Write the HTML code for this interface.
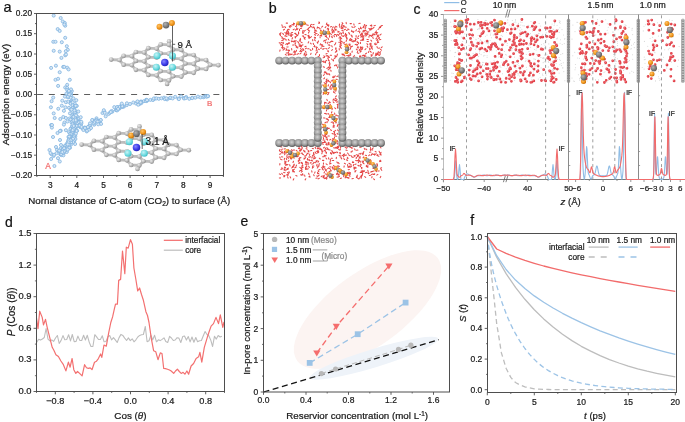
<!DOCTYPE html><html><head><meta charset="utf-8"><style>html,body{margin:0;padding:0;background:#fff;overflow:hidden}svg{display:block;will-change:transform}text{font-family:"Liberation Sans", sans-serif;stroke:#1a1a1a;stroke-width:0.22px}</style></head><body>
<svg width="685" height="422" viewBox="0 0 685 422" font-family='"Liberation Sans", sans-serif'>
<defs>
<radialGradient id="gsph" cx="0.38" cy="0.35" r="0.7"><stop offset="0" stop-color="#ececec"/><stop offset="0.55" stop-color="#bababa"/><stop offset="1" stop-color="#858585"/></radialGradient>
<radialGradient id="gwall" cx="0.45" cy="0.4" r="0.6"><stop offset="0" stop-color="#d2d2d2"/><stop offset="0.6" stop-color="#9c9c9c"/><stop offset="1" stop-color="#585858"/></radialGradient>
<radialGradient id="gcyan" cx="0.38" cy="0.35" r="0.7"><stop offset="0" stop-color="#c8f4f6"/><stop offset="0.6" stop-color="#6fdbe0"/><stop offset="1" stop-color="#3bb9c2"/></radialGradient>
<radialGradient id="gblue" cx="0.38" cy="0.35" r="0.7"><stop offset="0" stop-color="#8888ff"/><stop offset="0.6" stop-color="#3b3be8"/><stop offset="1" stop-color="#2020b0"/></radialGradient>
<radialGradient id="gor" cx="0.38" cy="0.35" r="0.7"><stop offset="0" stop-color="#ffc466"/><stop offset="0.6" stop-color="#f0951c"/><stop offset="1" stop-color="#c06c00"/></radialGradient>
<radialGradient id="gdark" cx="0.38" cy="0.35" r="0.7"><stop offset="0" stop-color="#b4b4b4"/><stop offset="0.6" stop-color="#7c7c7c"/><stop offset="1" stop-color="#555"/></radialGradient>
<radialGradient id="gred" cx="0.38" cy="0.35" r="0.7"><stop offset="0" stop-color="#ff8c8c"/><stop offset="0.6" stop-color="#e53535"/><stop offset="1" stop-color="#b51a1a"/></radialGradient>
</defs>
<rect width="685" height="422" fill="#fff"/>
<line x1="36.5" y1="94.5" x2="223.5" y2="94.5" stroke="#5e5e5e" stroke-width="1.2" stroke-dasharray="6 5.75" stroke-dashoffset="-0.6"/>
<g fill="#d6e7f6" stroke="#82b4e0" stroke-width="0.8"><circle cx="53.7" cy="15.6" r="1.55"/><circle cx="60.7" cy="18.0" r="1.55"/><circle cx="62.8" cy="21.5" r="1.55"/><circle cx="64.8" cy="23.0" r="1.55"/><circle cx="65.2" cy="25.7" r="1.55"/><circle cx="64.3" cy="24.5" r="1.55"/><circle cx="57.7" cy="29.1" r="1.55"/><circle cx="59.7" cy="30.9" r="1.55"/><circle cx="65.2" cy="37.8" r="1.55"/><circle cx="53.3" cy="41.8" r="1.55"/><circle cx="55.5" cy="41.8" r="1.55"/><circle cx="61.8" cy="42.2" r="1.55"/><circle cx="66.8" cy="46.2" r="1.55"/><circle cx="53.7" cy="50.8" r="1.55"/><circle cx="59.7" cy="51.6" r="1.55"/><circle cx="67.8" cy="49.8" r="1.55"/><circle cx="65.8" cy="51.2" r="1.55"/><circle cx="65.2" cy="55.3" r="1.55"/><circle cx="66.0" cy="54.5" r="1.55"/><circle cx="61.4" cy="57.9" r="1.55"/><circle cx="51.1" cy="67.9" r="1.55"/><circle cx="55.9" cy="65.7" r="1.55"/><circle cx="63.2" cy="66.9" r="1.55"/><circle cx="64.2" cy="66.9" r="1.55"/><circle cx="67.2" cy="67.7" r="1.55"/><circle cx="68.6" cy="69.4" r="1.55"/><circle cx="59.7" cy="72.2" r="1.55"/><circle cx="55.5" cy="79.8" r="1.55"/><circle cx="58.1" cy="78.8" r="1.55"/><circle cx="69.8" cy="79.8" r="1.55"/><circle cx="58.1" cy="85.9" r="1.55"/><circle cx="67.2" cy="84.8" r="1.55"/><circle cx="65.2" cy="87.5" r="1.55"/><circle cx="67.2" cy="88.0" r="1.55"/><circle cx="68.2" cy="91.5" r="1.55"/><circle cx="71.8" cy="91.1" r="1.55"/><circle cx="69.5" cy="93.0" r="1.55"/><circle cx="66.5" cy="93.5" r="1.55"/><circle cx="70.5" cy="95.5" r="1.55"/><circle cx="68.0" cy="96.5" r="1.55"/><circle cx="53.2" cy="97.6" r="1.55"/><circle cx="51.6" cy="101.2" r="1.55"/><circle cx="50.9" cy="107.3" r="1.55"/><circle cx="53.7" cy="113.4" r="1.55"/><circle cx="54.7" cy="118.0" r="1.55"/><circle cx="51.1" cy="125.1" r="1.55"/><circle cx="51.9" cy="127.6" r="1.55"/><circle cx="62.3" cy="100.7" r="1.55"/><circle cx="65.9" cy="102.2" r="1.55"/><circle cx="68.4" cy="101.7" r="1.55"/><circle cx="71.0" cy="101.2" r="1.55"/><circle cx="61.8" cy="105.7" r="1.55"/><circle cx="65.4" cy="107.3" r="1.55"/><circle cx="58.3" cy="108.8" r="1.55"/><circle cx="69.0" cy="107.8" r="1.55"/><circle cx="73.0" cy="107.3" r="1.55"/><circle cx="63.9" cy="110.8" r="1.55"/><circle cx="71.5" cy="109.8" r="1.55"/><circle cx="70.0" cy="113.4" r="1.55"/><circle cx="73.5" cy="113.9" r="1.55"/><circle cx="60.3" cy="119.0" r="1.55"/><circle cx="63.3" cy="117.0" r="1.55"/><circle cx="65.9" cy="118.0" r="1.55"/><circle cx="69.5" cy="118.5" r="1.55"/><circle cx="72.0" cy="118.0" r="1.55"/><circle cx="75.6" cy="118.0" r="1.55"/><circle cx="64.4" cy="122.5" r="1.55"/><circle cx="67.4" cy="121.5" r="1.55"/><circle cx="75.1" cy="122.5" r="1.55"/><circle cx="63.9" cy="124.6" r="1.55"/><circle cx="75.6" cy="125.6" r="1.55"/><circle cx="60.8" cy="130.7" r="1.55"/><circle cx="65.9" cy="130.2" r="1.55"/><circle cx="71.0" cy="128.2" r="1.55"/><circle cx="74.5" cy="129.2" r="1.55"/><circle cx="69.0" cy="132.2" r="1.55"/><circle cx="77.1" cy="130.7" r="1.55"/><circle cx="80.7" cy="124.6" r="1.55"/><circle cx="80.2" cy="127.1" r="1.55"/><circle cx="76.0" cy="129.9" r="1.55"/><circle cx="74.8" cy="132.9" r="1.55"/><circle cx="76.6" cy="120.8" r="1.55"/><circle cx="62.6" cy="150.8" r="1.55"/><circle cx="67.2" cy="90.0" r="1.55"/><circle cx="63.2" cy="150.3" r="1.55"/><circle cx="67.8" cy="149.3" r="1.55"/><circle cx="68.5" cy="136.9" r="1.55"/><circle cx="72.0" cy="130.5" r="1.55"/><circle cx="71.0" cy="89.4" r="1.55"/><circle cx="69.6" cy="142.9" r="1.55"/><circle cx="75.8" cy="112.4" r="1.55"/><circle cx="71.0" cy="93.1" r="1.55"/><circle cx="74.7" cy="103.5" r="1.55"/><circle cx="62.1" cy="150.6" r="1.55"/><circle cx="63.9" cy="152.7" r="1.55"/><circle cx="60.2" cy="154.3" r="1.55"/><circle cx="72.3" cy="115.4" r="1.55"/><circle cx="70.0" cy="147.8" r="1.55"/><circle cx="61.0" cy="154.6" r="1.55"/><circle cx="67.7" cy="97.3" r="1.55"/><circle cx="68.1" cy="145.7" r="1.55"/><circle cx="64.4" cy="152.1" r="1.55"/><circle cx="74.2" cy="115.5" r="1.55"/><circle cx="61.6" cy="155.1" r="1.55"/><circle cx="73.3" cy="139.8" r="1.55"/><circle cx="74.8" cy="129.3" r="1.55"/><circle cx="71.5" cy="101.9" r="1.55"/><circle cx="75.5" cy="113.2" r="1.55"/><circle cx="71.0" cy="103.0" r="1.55"/><circle cx="58.0" cy="158.2" r="1.55"/><circle cx="66.5" cy="144.2" r="1.55"/><circle cx="69.2" cy="146.4" r="1.55"/><circle cx="72.7" cy="127.3" r="1.55"/><circle cx="74.9" cy="106.3" r="1.55"/><circle cx="73.6" cy="137.2" r="1.55"/><circle cx="69.5" cy="138.0" r="1.55"/><circle cx="68.5" cy="91.9" r="1.55"/><circle cx="63.4" cy="155.3" r="1.55"/><circle cx="78.4" cy="118.7" r="1.55"/><circle cx="70.1" cy="136.4" r="1.55"/><circle cx="60.9" cy="148.3" r="1.55"/><circle cx="75.4" cy="106.7" r="1.55"/><circle cx="75.3" cy="136.2" r="1.55"/><circle cx="73.8" cy="135.7" r="1.55"/><circle cx="71.8" cy="122.2" r="1.55"/><circle cx="66.8" cy="151.9" r="1.55"/><circle cx="74.4" cy="120.9" r="1.55"/><circle cx="75.4" cy="139.0" r="1.55"/><circle cx="53.5" cy="156.0" r="1.55"/><circle cx="70.7" cy="119.6" r="1.55"/><circle cx="62.9" cy="153.3" r="1.55"/><circle cx="67.8" cy="147.8" r="1.55"/><circle cx="70.5" cy="139.5" r="1.55"/><circle cx="68.0" cy="143.5" r="1.55"/><circle cx="70.7" cy="103.7" r="1.55"/><circle cx="63.4" cy="149.4" r="1.55"/><circle cx="74.7" cy="119.7" r="1.55"/><circle cx="73.6" cy="135.5" r="1.55"/><circle cx="72.9" cy="126.1" r="1.55"/><circle cx="70.6" cy="96.1" r="1.55"/><circle cx="72.6" cy="105.1" r="1.55"/><circle cx="73.1" cy="137.8" r="1.55"/><circle cx="73.4" cy="134.5" r="1.55"/><circle cx="56.5" cy="153.2" r="1.55"/><circle cx="77.0" cy="116.4" r="1.55"/><circle cx="73.1" cy="125.4" r="1.55"/><circle cx="54.0" cy="154.8" r="1.55"/><circle cx="64.8" cy="146.0" r="1.55"/><circle cx="71.5" cy="122.4" r="1.55"/><circle cx="76.8" cy="105.9" r="1.55"/><circle cx="57.0" cy="149.8" r="1.55"/><circle cx="74.1" cy="137.0" r="1.55"/><circle cx="69.1" cy="94.7" r="1.55"/><circle cx="72.5" cy="117.2" r="1.55"/><circle cx="75.1" cy="144.0" r="1.55"/><circle cx="71.8" cy="132.8" r="1.55"/><circle cx="74.9" cy="105.9" r="1.55"/><circle cx="73.5" cy="129.1" r="1.55"/><circle cx="75.4" cy="116.2" r="1.55"/><circle cx="72.6" cy="138.6" r="1.55"/><circle cx="75.9" cy="126.9" r="1.55"/><circle cx="71.0" cy="95.3" r="1.55"/><circle cx="65.7" cy="150.2" r="1.55"/><circle cx="76.5" cy="120.2" r="1.55"/><circle cx="73.2" cy="137.4" r="1.55"/><circle cx="71.1" cy="144.5" r="1.55"/><circle cx="70.1" cy="133.7" r="1.55"/><circle cx="77.4" cy="126.3" r="1.55"/><circle cx="69.2" cy="136.7" r="1.55"/><circle cx="72.1" cy="125.9" r="1.55"/><circle cx="68.8" cy="94.8" r="1.55"/><circle cx="62.7" cy="149.1" r="1.55"/><circle cx="74.3" cy="135.7" r="1.55"/><circle cx="70.8" cy="97.7" r="1.55"/><circle cx="64.3" cy="147.4" r="1.55"/><circle cx="74.2" cy="141.0" r="1.55"/><circle cx="61.1" cy="154.0" r="1.55"/><circle cx="71.6" cy="133.5" r="1.55"/><circle cx="73.8" cy="137.3" r="1.55"/><circle cx="76.7" cy="120.0" r="1.55"/><circle cx="72.7" cy="102.3" r="1.55"/><circle cx="70.6" cy="109.3" r="1.55"/><circle cx="70.0" cy="143.3" r="1.55"/><circle cx="67.6" cy="146.7" r="1.55"/><circle cx="74.7" cy="112.8" r="1.55"/><circle cx="73.0" cy="138.7" r="1.55"/><circle cx="76.1" cy="118.6" r="1.55"/><circle cx="70.4" cy="129.1" r="1.55"/><circle cx="64.9" cy="150.4" r="1.55"/><circle cx="72.3" cy="130.9" r="1.55"/><circle cx="68.9" cy="144.0" r="1.55"/><circle cx="76.3" cy="100.2" r="1.55"/><circle cx="72.8" cy="131.1" r="1.55"/><circle cx="73.0" cy="131.9" r="1.55"/><circle cx="76.0" cy="121.4" r="1.55"/><circle cx="74.9" cy="115.1" r="1.55"/><circle cx="75.9" cy="133.6" r="1.55"/><circle cx="73.3" cy="117.8" r="1.55"/><circle cx="79.1" cy="122.1" r="1.55"/><circle cx="68.4" cy="141.1" r="1.55"/><circle cx="78.3" cy="111.5" r="1.55"/><circle cx="75.1" cy="118.1" r="1.55"/><circle cx="73.1" cy="128.3" r="1.55"/><circle cx="51.3" cy="154.1" r="1.55"/><circle cx="67.6" cy="142.8" r="1.55"/><circle cx="72.5" cy="121.5" r="1.55"/><circle cx="68.5" cy="91.3" r="1.55"/><circle cx="68.0" cy="96.7" r="1.55"/><circle cx="67.5" cy="148.3" r="1.55"/><circle cx="69.3" cy="147.6" r="1.55"/><circle cx="76.6" cy="130.9" r="1.55"/><circle cx="70.1" cy="93.8" r="1.55"/><circle cx="80.2" cy="121.5" r="1.55"/><circle cx="67.7" cy="149.5" r="1.55"/><circle cx="76.9" cy="125.8" r="1.55"/><circle cx="72.4" cy="131.8" r="1.55"/><circle cx="74.0" cy="125.1" r="1.55"/><circle cx="69.1" cy="144.5" r="1.55"/><circle cx="63.8" cy="148.3" r="1.55"/><circle cx="80.7" cy="117.2" r="1.55"/><circle cx="61.0" cy="151.9" r="1.55"/><circle cx="64.9" cy="96.6" r="1.55"/><circle cx="79.1" cy="122.3" r="1.55"/><circle cx="72.7" cy="124.4" r="1.55"/><circle cx="63.0" cy="150.0" r="1.55"/><circle cx="72.0" cy="130.4" r="1.55"/><circle cx="73.9" cy="129.8" r="1.55"/><circle cx="68.9" cy="90.9" r="1.55"/><circle cx="64.1" cy="148.2" r="1.55"/><circle cx="68.7" cy="139.5" r="1.55"/><circle cx="73.8" cy="129.0" r="1.55"/><circle cx="73.2" cy="142.1" r="1.55"/><circle cx="51.1" cy="159.0" r="1.55"/><circle cx="73.7" cy="125.9" r="1.55"/><circle cx="58.8" cy="151.1" r="1.55"/><circle cx="71.2" cy="142.0" r="1.55"/><circle cx="74.8" cy="110.1" r="1.55"/><circle cx="74.3" cy="110.4" r="1.55"/><circle cx="70.7" cy="140.2" r="1.55"/><circle cx="73.6" cy="120.3" r="1.55"/><circle cx="71.5" cy="109.6" r="1.55"/><circle cx="64.1" cy="151.5" r="1.55"/><circle cx="72.7" cy="130.1" r="1.55"/><circle cx="75.7" cy="120.1" r="1.55"/><circle cx="59.2" cy="150.6" r="1.55"/><circle cx="62.3" cy="152.1" r="1.55"/><circle cx="68.6" cy="140.5" r="1.55"/><circle cx="73.4" cy="98.4" r="1.55"/><circle cx="73.5" cy="116.8" r="1.55"/><circle cx="69.2" cy="94.6" r="1.55"/><circle cx="68.4" cy="142.3" r="1.55"/><circle cx="67.7" cy="144.4" r="1.55"/><circle cx="76.0" cy="115.4" r="1.55"/><circle cx="75.7" cy="105.8" r="1.55"/><circle cx="54.4" cy="166.0" r="1.55"/><circle cx="59.8" cy="161.5" r="1.55"/><circle cx="52.0" cy="125.0" r="1.55"/><circle cx="53.0" cy="137.0" r="1.55"/><circle cx="60.0" cy="131.0" r="1.55"/><circle cx="60.0" cy="140.0" r="1.55"/><circle cx="61.0" cy="145.0" r="1.55"/><circle cx="57.5" cy="133.0" r="1.55"/><circle cx="56.0" cy="147.0" r="1.55"/><circle cx="49.5" cy="150.0" r="1.55"/><circle cx="50.5" cy="153.0" r="1.55"/><circle cx="79.5" cy="126.0" r="1.55"/><circle cx="80.8" cy="124.2" r="1.55"/><circle cx="82.5" cy="128.5" r="1.55"/><circle cx="84.7" cy="127.5" r="1.55"/><circle cx="86.7" cy="131.4" r="1.55"/><circle cx="88.5" cy="127.0" r="1.55"/><circle cx="90.0" cy="124.9" r="1.55"/><circle cx="92.6" cy="120.3" r="1.55"/><circle cx="94.5" cy="122.5" r="1.55"/><circle cx="96.5" cy="118.3" r="1.55"/><circle cx="98.5" cy="121.0" r="1.55"/><circle cx="100.5" cy="120.3" r="1.55"/><circle cx="102.5" cy="113.0" r="1.55"/><circle cx="104.4" cy="111.7" r="1.55"/><circle cx="105.7" cy="116.3" r="1.55"/><circle cx="108.5" cy="114.0" r="1.55"/><circle cx="112.3" cy="111.7" r="1.55"/><circle cx="114.3" cy="107.1" r="1.55"/><circle cx="116.0" cy="110.0" r="1.55"/><circle cx="117.6" cy="107.1" r="1.55"/><circle cx="119.5" cy="108.5" r="1.55"/><circle cx="121.5" cy="105.1" r="1.55"/><circle cx="124.0" cy="106.5" r="1.55"/><circle cx="126.8" cy="105.1" r="1.55"/><circle cx="130.0" cy="104.0" r="1.55"/><circle cx="133.3" cy="102.5" r="1.55"/><circle cx="136.0" cy="103.5" r="1.55"/><circle cx="138.6" cy="102.5" r="1.55"/><circle cx="141.0" cy="101.5" r="1.55"/><circle cx="143.8" cy="101.2" r="1.55"/><circle cx="147.0" cy="100.8" r="1.55"/><circle cx="150.4" cy="99.9" r="1.55"/><circle cx="153.0" cy="100.0" r="1.55"/><circle cx="155.0" cy="98.6" r="1.55"/><circle cx="100.8" cy="120.0" r="1.55"/><circle cx="137.4" cy="101.9" r="1.55"/><circle cx="88.9" cy="127.2" r="1.55"/><circle cx="119.4" cy="107.8" r="1.55"/><circle cx="139.4" cy="104.1" r="1.55"/><circle cx="122.8" cy="106.8" r="1.55"/><circle cx="122.2" cy="106.1" r="1.55"/><circle cx="88.7" cy="127.2" r="1.55"/><circle cx="126.9" cy="103.3" r="1.55"/><circle cx="146.2" cy="99.8" r="1.55"/><circle cx="79.8" cy="125.5" r="1.55"/><circle cx="97.6" cy="121.4" r="1.55"/><circle cx="98.4" cy="122.3" r="1.55"/><circle cx="116.6" cy="110.3" r="1.55"/><circle cx="94.2" cy="124.7" r="1.55"/><circle cx="87.1" cy="130.7" r="1.55"/><circle cx="83.4" cy="130.0" r="1.55"/><circle cx="109.8" cy="112.9" r="1.55"/><circle cx="141.4" cy="102.1" r="1.55"/><circle cx="119.7" cy="107.5" r="1.55"/><circle cx="111.6" cy="111.0" r="1.55"/><circle cx="89.3" cy="126.6" r="1.55"/><circle cx="95.4" cy="120.8" r="1.55"/><circle cx="117.3" cy="110.3" r="1.55"/><circle cx="81.4" cy="123.2" r="1.55"/><circle cx="110.8" cy="112.0" r="1.55"/><circle cx="101.1" cy="123.9" r="1.55"/><circle cx="96.4" cy="119.8" r="1.55"/><circle cx="85.0" cy="128.0" r="1.55"/><circle cx="98.7" cy="121.3" r="1.55"/><circle cx="92.2" cy="120.0" r="1.55"/><circle cx="153.8" cy="98.5" r="1.55"/><circle cx="89.5" cy="125.6" r="1.55"/><circle cx="138.2" cy="104.7" r="1.55"/><circle cx="117.4" cy="108.3" r="1.55"/><circle cx="146.2" cy="101.1" r="1.55"/><circle cx="94.0" cy="123.4" r="1.55"/><circle cx="94.6" cy="121.9" r="1.55"/><circle cx="147.0" cy="100.1" r="1.55"/><circle cx="81.3" cy="121.8" r="1.55"/><circle cx="96.4" cy="120.8" r="1.55"/><circle cx="119.4" cy="107.0" r="1.55"/><circle cx="89.3" cy="129.5" r="1.55"/><circle cx="122.1" cy="106.8" r="1.55"/><circle cx="122.3" cy="106.1" r="1.55"/><circle cx="90.0" cy="123.4" r="1.55"/><circle cx="103.8" cy="110.2" r="1.55"/><circle cx="91.0" cy="128.0" r="1.55"/><circle cx="141.2" cy="103.2" r="1.55"/><circle cx="141.2" cy="102.1" r="1.55"/><circle cx="97.6" cy="121.7" r="1.55"/><circle cx="137.5" cy="101.4" r="1.55"/><circle cx="121.8" cy="103.6" r="1.55"/><circle cx="81.5" cy="126.9" r="1.55"/><circle cx="140.6" cy="102.4" r="1.55"/><circle cx="117.0" cy="107.2" r="1.55"/><circle cx="118.1" cy="108.9" r="1.55"/><circle cx="98.2" cy="124.3" r="1.55"/><circle cx="104.7" cy="112.8" r="1.55"/><circle cx="87.9" cy="127.0" r="1.55"/><circle cx="156.5" cy="98.4" r="1.55"/><circle cx="158.8" cy="98.8" r="1.55"/><circle cx="161.4" cy="98.3" r="1.55"/><circle cx="164.0" cy="97.7" r="1.55"/><circle cx="164.8" cy="99.1" r="1.55"/><circle cx="167.1" cy="99.4" r="1.55"/><circle cx="166.4" cy="98.3" r="1.55"/><circle cx="169.9" cy="98.1" r="1.55"/><circle cx="170.4" cy="97.7" r="1.55"/><circle cx="172.6" cy="98.4" r="1.55"/><circle cx="175.2" cy="96.8" r="1.55"/><circle cx="178.4" cy="98.6" r="1.55"/><circle cx="178.9" cy="99.1" r="1.55"/><circle cx="181.1" cy="96.3" r="1.55"/><circle cx="184.0" cy="98.1" r="1.55"/><circle cx="184.1" cy="98.5" r="1.55"/><circle cx="186.2" cy="97.0" r="1.55"/><circle cx="185.7" cy="98.1" r="1.55"/><circle cx="189.3" cy="98.8" r="1.55"/><circle cx="192.2" cy="97.8" r="1.55"/><circle cx="192.2" cy="98.1" r="1.55"/><circle cx="195.3" cy="97.7" r="1.55"/><circle cx="198.0" cy="96.6" r="1.55"/><circle cx="200.5" cy="97.4" r="1.55"/><circle cx="203.4" cy="97.2" r="1.55"/><circle cx="204.3" cy="96.5" r="1.55"/><circle cx="205.8" cy="96.1" r="1.55"/><circle cx="206.6" cy="96.8" r="1.55"/><circle cx="208.1" cy="96.2" r="1.55"/><circle cx="207.8" cy="96.1" r="1.55"/></g>
<rect x="36.5" y="13.5" width="187.0" height="162.0" fill="none" stroke="#4e4e4e" stroke-width="1"/>
<line x1="34" y1="175.5" x2="36.5" y2="175.5" stroke="#4e4e4e" stroke-width="0.9" />
<text x="32" y="178" font-size="8.3" text-anchor="end" fill="#1a1a1a" >&#8722;0.20</text>
<line x1="35" y1="165.4" x2="36.5" y2="165.4" stroke="#4e4e4e" stroke-width="0.9" />
<line x1="34" y1="155.2" x2="36.5" y2="155.2" stroke="#4e4e4e" stroke-width="0.9" />
<text x="32" y="157.8" font-size="8.3" text-anchor="end" fill="#1a1a1a" >&#8722;0.15</text>
<line x1="35" y1="145.1" x2="36.5" y2="145.1" stroke="#4e4e4e" stroke-width="0.9" />
<line x1="34" y1="135" x2="36.5" y2="135" stroke="#4e4e4e" stroke-width="0.9" />
<text x="32" y="137.5" font-size="8.3" text-anchor="end" fill="#1a1a1a" >&#8722;0.10</text>
<line x1="35" y1="124.9" x2="36.5" y2="124.9" stroke="#4e4e4e" stroke-width="0.9" />
<line x1="34" y1="114.8" x2="36.5" y2="114.8" stroke="#4e4e4e" stroke-width="0.9" />
<text x="32" y="117.2" font-size="8.3" text-anchor="end" fill="#1a1a1a" >&#8722;0.05</text>
<line x1="35" y1="104.6" x2="36.5" y2="104.6" stroke="#4e4e4e" stroke-width="0.9" />
<line x1="34" y1="94.5" x2="36.5" y2="94.5" stroke="#4e4e4e" stroke-width="0.9" />
<text x="32" y="97" font-size="8.3" text-anchor="end" fill="#1a1a1a" >0.00</text>
<line x1="35" y1="84.4" x2="36.5" y2="84.4" stroke="#4e4e4e" stroke-width="0.9" />
<line x1="34" y1="74.2" x2="36.5" y2="74.2" stroke="#4e4e4e" stroke-width="0.9" />
<text x="32" y="76.8" font-size="8.3" text-anchor="end" fill="#1a1a1a" >0.05</text>
<line x1="35" y1="64.1" x2="36.5" y2="64.1" stroke="#4e4e4e" stroke-width="0.9" />
<line x1="34" y1="54" x2="36.5" y2="54" stroke="#4e4e4e" stroke-width="0.9" />
<text x="32" y="56.5" font-size="8.3" text-anchor="end" fill="#1a1a1a" >0.10</text>
<line x1="35" y1="43.9" x2="36.5" y2="43.9" stroke="#4e4e4e" stroke-width="0.9" />
<line x1="34" y1="33.7" x2="36.5" y2="33.7" stroke="#4e4e4e" stroke-width="0.9" />
<text x="32" y="36.2" font-size="8.3" text-anchor="end" fill="#1a1a1a" >0.15</text>
<line x1="35" y1="23.6" x2="36.5" y2="23.6" stroke="#4e4e4e" stroke-width="0.9" />
<line x1="34" y1="13.5" x2="36.5" y2="13.5" stroke="#4e4e4e" stroke-width="0.9" />
<text x="32" y="16" font-size="8.3" text-anchor="end" fill="#1a1a1a" >0.20</text>
<line x1="36.9" y1="175.5" x2="36.9" y2="177" stroke="#4e4e4e" stroke-width="0.9" />
<line x1="50.2" y1="175.5" x2="50.2" y2="178" stroke="#4e4e4e" stroke-width="0.9" />
<text x="50.2" y="187.6" font-size="8.3" text-anchor="middle" fill="#1a1a1a" >3</text>
<line x1="63.5" y1="175.5" x2="63.5" y2="177" stroke="#4e4e4e" stroke-width="0.9" />
<line x1="76.8" y1="175.5" x2="76.8" y2="178" stroke="#4e4e4e" stroke-width="0.9" />
<text x="76.8" y="187.6" font-size="8.3" text-anchor="middle" fill="#1a1a1a" >4</text>
<line x1="90.2" y1="175.5" x2="90.2" y2="177" stroke="#4e4e4e" stroke-width="0.9" />
<line x1="103.5" y1="175.5" x2="103.5" y2="178" stroke="#4e4e4e" stroke-width="0.9" />
<text x="103.5" y="187.6" font-size="8.3" text-anchor="middle" fill="#1a1a1a" >5</text>
<line x1="116.8" y1="175.5" x2="116.8" y2="177" stroke="#4e4e4e" stroke-width="0.9" />
<line x1="130.1" y1="175.5" x2="130.1" y2="178" stroke="#4e4e4e" stroke-width="0.9" />
<text x="130.1" y="187.6" font-size="8.3" text-anchor="middle" fill="#1a1a1a" >6</text>
<line x1="143.5" y1="175.5" x2="143.5" y2="177" stroke="#4e4e4e" stroke-width="0.9" />
<line x1="156.8" y1="175.5" x2="156.8" y2="178" stroke="#4e4e4e" stroke-width="0.9" />
<text x="156.8" y="187.6" font-size="8.3" text-anchor="middle" fill="#1a1a1a" >7</text>
<line x1="170.1" y1="175.5" x2="170.1" y2="177" stroke="#4e4e4e" stroke-width="0.9" />
<line x1="183.4" y1="175.5" x2="183.4" y2="178" stroke="#4e4e4e" stroke-width="0.9" />
<text x="183.4" y="187.6" font-size="8.3" text-anchor="middle" fill="#1a1a1a" >8</text>
<line x1="196.8" y1="175.5" x2="196.8" y2="177" stroke="#4e4e4e" stroke-width="0.9" />
<line x1="210.1" y1="175.5" x2="210.1" y2="178" stroke="#4e4e4e" stroke-width="0.9" />
<text x="210.1" y="187.6" font-size="8.3" text-anchor="middle" fill="#1a1a1a" >9</text>
<line x1="223.4" y1="175.5" x2="223.4" y2="177" stroke="#4e4e4e" stroke-width="0.9" />
<text x="28.3" y="203.8" font-size="9.75" text-anchor="start" fill="#1a1a1a" >Nornal distance of C-atom (CO<tspan font-size="6.6" dy="2">2</tspan><tspan dy="-2">) to surface (&#197;)</tspan></text>
<text transform="translate(8.6,94.5) rotate(-90)" font-size="9.9" text-anchor="middle" fill="#1a1a1a">Adsorption energy (eV)</text>
<text x="45.2" y="168.9" font-size="8.4" text-anchor="start" fill="#f26b6b" style="stroke:#f26b6b" >A</text>
<text x="207.1" y="105.8" font-size="8.0" text-anchor="start" fill="#f26b6b" style="stroke:#f26b6b" >B</text>
<path d="M193.7 55.0L197.8 59.7M156.6 48.6L160.7 53.3M148.3 74.9L156.6 75.3M156.6 75.3L160.7 71.1M160.7 71.1L168.9 71.5M160.7 53.3L168.9 53.7M206.1 60.1L210.2 64.8M148.3 66.0L156.6 66.4M181.3 67.7L185.4 72.4M181.3 67.7L185.4 63.5M168.9 80.4L173.1 76.2M197.8 59.7L206.1 60.1M173.1 58.4L181.3 58.8M168.9 71.5L173.1 76.2M131.8 56.2L135.9 60.9M148.3 57.1L156.6 57.5M123.6 64.7L131.8 65.1M131.8 56.2L135.9 52.0M168.9 71.5L173.1 67.3M181.3 58.8L185.4 63.5M193.7 63.9L197.8 68.6M173.1 67.3L181.3 67.7M185.4 72.4L193.7 72.8M181.3 76.6L185.4 72.4M160.7 44.4L168.9 44.8M193.7 63.9L197.8 59.7M160.7 80.0L168.9 80.4M156.6 66.4L160.7 71.1M156.6 75.3L160.7 80.0M144.2 61.3L148.3 66.0M131.8 65.1L135.9 69.8M135.9 69.8L144.2 70.2M144.2 61.3L148.3 57.1M119.4 60.0L123.6 64.7M148.3 48.2L156.6 48.6M156.6 48.6L160.7 44.4M144.2 52.4L148.3 57.1M206.1 69.0L210.2 64.8M173.1 76.2L181.3 76.6M144.2 52.4L148.3 48.2M197.8 68.6L206.1 69.0M135.9 52.0L144.2 52.4M181.3 58.8L185.4 54.6M168.9 44.8L173.1 49.5M185.4 63.5L193.7 63.9M168.9 53.7L173.1 58.4M123.6 55.8L131.8 56.2M173.1 49.5L181.3 49.9M185.4 54.6L193.7 55.0M168.9 53.7L173.1 49.5M181.3 49.9L185.4 54.6M135.9 60.9L144.2 61.3M119.4 60.0L123.6 55.8M131.8 65.1L135.9 60.9M193.7 72.8L197.8 68.6M144.2 70.2L148.3 74.9M156.6 57.5L160.7 53.3M144.2 70.2L148.3 66.0M119.4 60.0L111.2 59.6M210.2 64.8L218.4 65.2M168.9 44.8L169.1 41.4M168.9 80.4L167.1 83.9" stroke="#bdbdbd" stroke-width="2.8" fill="none" stroke-linecap="round"/>
<g fill="url(#gsph)"><circle cx="169.1" cy="41.4" r="2.35"/><circle cx="160.7" cy="44.4" r="2.35"/><circle cx="168.9" cy="44.8" r="2.35"/><circle cx="148.3" cy="48.2" r="2.35"/><circle cx="156.6" cy="48.6" r="2.35"/><circle cx="173.1" cy="49.5" r="2.35"/><circle cx="181.3" cy="49.9" r="2.35"/><circle cx="135.9" cy="52.0" r="2.35"/><circle cx="144.2" cy="52.4" r="2.35"/><circle cx="160.7" cy="53.3" r="2.35"/><circle cx="168.9" cy="53.7" r="2.35"/><circle cx="185.4" cy="54.6" r="2.35"/><circle cx="193.7" cy="55.0" r="2.35"/><circle cx="123.6" cy="55.8" r="2.35"/><circle cx="131.8" cy="56.2" r="2.35"/><circle cx="148.3" cy="57.1" r="2.35"/><circle cx="156.6" cy="57.5" r="2.35"/><circle cx="173.1" cy="58.4" r="2.35"/><circle cx="181.3" cy="58.8" r="2.35"/><circle cx="111.2" cy="59.6" r="2.35"/><circle cx="197.8" cy="59.7" r="2.35"/><circle cx="119.4" cy="60.0" r="2.35"/><circle cx="206.1" cy="60.1" r="2.35"/><circle cx="135.9" cy="60.9" r="2.35"/><circle cx="144.2" cy="61.3" r="2.35"/><circle cx="185.4" cy="63.5" r="2.35"/><circle cx="193.7" cy="63.9" r="2.35"/><circle cx="123.6" cy="64.7" r="2.35"/><circle cx="210.2" cy="64.8" r="2.35"/><circle cx="131.8" cy="65.1" r="2.35"/><circle cx="218.4" cy="65.2" r="2.35"/><circle cx="148.3" cy="66.0" r="2.35"/><circle cx="156.6" cy="66.4" r="2.35"/><circle cx="173.1" cy="67.3" r="2.35"/><circle cx="181.3" cy="67.7" r="2.35"/><circle cx="197.8" cy="68.6" r="2.35"/><circle cx="206.1" cy="69.0" r="2.35"/><circle cx="135.9" cy="69.8" r="2.35"/><circle cx="144.2" cy="70.2" r="2.35"/><circle cx="160.7" cy="71.1" r="2.35"/><circle cx="168.9" cy="71.5" r="2.35"/><circle cx="185.4" cy="72.4" r="2.35"/><circle cx="193.7" cy="72.8" r="2.35"/><circle cx="148.3" cy="74.9" r="2.35"/><circle cx="156.6" cy="75.3" r="2.35"/><circle cx="173.1" cy="76.2" r="2.35"/><circle cx="181.3" cy="76.6" r="2.35"/><circle cx="160.7" cy="80.0" r="2.35"/><circle cx="168.9" cy="80.4" r="2.35"/><circle cx="167.1" cy="83.9" r="2.35"/></g>
<circle cx="157.1" cy="55.7" r="3.55" fill="url(#gcyan)"/>
<circle cx="172.4" cy="55.7" r="3.55" fill="url(#gcyan)"/>
<circle cx="156.3" cy="67.2" r="3.55" fill="url(#gcyan)"/>
<circle cx="172.4" cy="67.2" r="3.55" fill="url(#gcyan)"/>
<circle cx="164.8" cy="62.6" r="3.75" fill="url(#gblue)"/>
<line x1="172.5" y1="25" x2="172.5" y2="61.5" stroke="#3a3a3a" stroke-width="0.8" />
<circle cx="159.5" cy="26.8" r="3.0" fill="url(#gor)"/>
<circle cx="171.9" cy="23.1" r="3.0" fill="url(#gor)"/>
<circle cx="166" cy="25.1" r="3.4" fill="url(#gdark)"/>
<line x1="172.5" y1="44.3" x2="175.2" y2="44.3" stroke="#3a3a3a" stroke-width="0.8" />
<text x="177.5" y="47.7" font-size="9.7" text-anchor="start" fill="#1a1a1a" >9 &#197;</text>
<path d="M164.1 140.0L168.2 144.7M126.9 133.6L131.1 138.3M118.7 159.9L126.9 160.3M126.9 160.3L131.1 156.1M131.1 156.1L139.3 156.5M131.1 138.3L139.3 138.7M176.4 145.1L180.6 149.8M118.7 151.0L126.9 151.4M151.7 152.7L155.8 157.4M151.7 152.7L155.8 148.5M139.3 165.4L143.4 161.2M168.2 144.7L176.4 145.1M143.4 143.4L151.7 143.8M139.3 156.5L143.4 161.2M102.2 141.2L106.3 145.9M118.7 142.1L126.9 142.5M93.9 149.7L102.2 150.1M102.2 141.2L106.3 137.0M139.3 156.5L143.4 152.3M151.7 143.8L155.8 148.5M164.1 148.9L168.2 153.6M143.4 152.3L151.7 152.7M155.8 157.4L164.1 157.8M151.7 161.6L155.8 157.4M131.1 129.4L139.3 129.8M164.1 148.9L168.2 144.7M131.1 165.0L139.3 165.4M126.9 151.4L131.1 156.1M126.9 160.3L131.1 165.0M114.6 146.3L118.7 151.0M102.2 150.1L106.3 154.8M106.3 154.8L114.6 155.2M114.6 146.3L118.7 142.1M89.8 145.0L93.9 149.7M118.7 133.2L126.9 133.6M126.9 133.6L131.1 129.4M114.6 137.4L118.7 142.1M176.4 154.0L180.6 149.8M143.4 161.2L151.7 161.6M114.6 137.4L118.7 133.2M168.2 153.6L176.4 154.0M106.3 137.0L114.6 137.4M151.7 143.8L155.8 139.6M139.3 129.8L143.4 134.5M155.8 148.5L164.1 148.9M139.3 138.7L143.4 143.4M93.9 140.8L102.2 141.2M143.4 134.5L151.7 134.9M155.8 139.6L164.1 140.0M139.3 138.7L143.4 134.5M151.7 134.9L155.8 139.6M106.3 145.9L114.6 146.3M89.8 145.0L93.9 140.8M102.2 150.1L106.3 145.9M164.1 157.8L168.2 153.6M114.6 155.2L118.7 159.9M126.9 142.5L131.1 138.3M114.6 155.2L118.7 151.0M89.8 145.0L81.6 144.6M180.6 149.8L188.8 150.2M139.3 129.8L139.5 126.4M139.3 165.4L137.5 168.9" stroke="#bdbdbd" stroke-width="2.8" fill="none" stroke-linecap="round"/>
<g fill="url(#gsph)"><circle cx="139.5" cy="126.4" r="2.35"/><circle cx="131.1" cy="129.4" r="2.35"/><circle cx="139.3" cy="129.8" r="2.35"/><circle cx="118.7" cy="133.2" r="2.35"/><circle cx="126.9" cy="133.6" r="2.35"/><circle cx="143.4" cy="134.5" r="2.35"/><circle cx="151.7" cy="134.9" r="2.35"/><circle cx="106.3" cy="137.0" r="2.35"/><circle cx="114.6" cy="137.4" r="2.35"/><circle cx="131.1" cy="138.3" r="2.35"/><circle cx="139.3" cy="138.7" r="2.35"/><circle cx="155.8" cy="139.6" r="2.35"/><circle cx="164.1" cy="140.0" r="2.35"/><circle cx="93.9" cy="140.8" r="2.35"/><circle cx="102.2" cy="141.2" r="2.35"/><circle cx="118.7" cy="142.1" r="2.35"/><circle cx="126.9" cy="142.5" r="2.35"/><circle cx="143.4" cy="143.4" r="2.35"/><circle cx="151.7" cy="143.8" r="2.35"/><circle cx="81.6" cy="144.6" r="2.35"/><circle cx="168.2" cy="144.7" r="2.35"/><circle cx="89.8" cy="145.0" r="2.35"/><circle cx="176.4" cy="145.1" r="2.35"/><circle cx="106.3" cy="145.9" r="2.35"/><circle cx="114.6" cy="146.3" r="2.35"/><circle cx="155.8" cy="148.5" r="2.35"/><circle cx="164.1" cy="148.9" r="2.35"/><circle cx="93.9" cy="149.7" r="2.35"/><circle cx="180.6" cy="149.8" r="2.35"/><circle cx="102.2" cy="150.1" r="2.35"/><circle cx="188.8" cy="150.2" r="2.35"/><circle cx="118.7" cy="151.0" r="2.35"/><circle cx="126.9" cy="151.4" r="2.35"/><circle cx="143.4" cy="152.3" r="2.35"/><circle cx="151.7" cy="152.7" r="2.35"/><circle cx="168.2" cy="153.6" r="2.35"/><circle cx="176.4" cy="154.0" r="2.35"/><circle cx="106.3" cy="154.8" r="2.35"/><circle cx="114.6" cy="155.2" r="2.35"/><circle cx="131.1" cy="156.1" r="2.35"/><circle cx="139.3" cy="156.5" r="2.35"/><circle cx="155.8" cy="157.4" r="2.35"/><circle cx="164.1" cy="157.8" r="2.35"/><circle cx="118.7" cy="159.9" r="2.35"/><circle cx="126.9" cy="160.3" r="2.35"/><circle cx="143.4" cy="161.2" r="2.35"/><circle cx="151.7" cy="161.6" r="2.35"/><circle cx="131.1" cy="165.0" r="2.35"/><circle cx="139.3" cy="165.4" r="2.35"/><circle cx="137.5" cy="168.9" r="2.35"/></g>
<circle cx="129.4" cy="141.7" r="3.55" fill="url(#gcyan)"/>
<circle cx="144.8" cy="141.7" r="3.55" fill="url(#gcyan)"/>
<circle cx="128" cy="153.3" r="3.55" fill="url(#gcyan)"/>
<circle cx="144.3" cy="153.3" r="3.55" fill="url(#gcyan)"/>
<circle cx="136.5" cy="147.6" r="3.75" fill="url(#gblue)"/>
<circle cx="131.2" cy="135.5" r="3.0" fill="url(#gor)"/>
<circle cx="143.1" cy="132" r="3.0" fill="url(#gor)"/>
<circle cx="136.5" cy="133.7" r="3.4" fill="url(#gdark)"/>
<line x1="142.2" y1="134" x2="142.2" y2="149" stroke="#3a3a3a" stroke-width="0.75" />
<text x="145.6" y="145" font-size="10" text-anchor="start" fill="#1a1a1a" >3.1 &#197;</text>
<text x="3.6" y="12.2" font-size="14.5" fill="#111" stroke="#111" stroke-width="0.35">a</text>
<text x="268.8" y="12.8" font-size="14.3" fill="#111">b</text>
<path d="M296.3 46.1l-0.9 -1.0M328.4 30.2l0.3 -1.3M361.9 40.2l-1.3 -0.0M303.6 23.1l-0.9 0.9M339.2 25.3l0.4 -1.3M303.2 30.8l1.3 0.3M381.3 47.7l0.9 -0.9M342.3 24.1l-0.6 1.1M330.3 26.9l1.2 -0.4M317.1 28.2l0.5 -1.2M292.2 54.1l-1.2 0.4M335.8 34.5l-1.3 0.1M298.6 24.2l0.9 -1.0M303.5 49.1l0.3 1.3M378.3 52.9l0.0 -1.3M357.3 42.5l-0.2 -1.3M292.0 39.0l0.6 -1.2M300.0 53.9l1.0 -0.8M321.3 35.2l-1.2 0.4M318.8 56.3l-1.0 0.8M282.2 26.1l-0.3 -1.3M380.8 39.6l-1.3 0.1M335.6 48.1l0.2 1.3M341.6 41.6l-0.9 -0.9M297.9 28.7l-0.8 1.1M374.1 34.6l-1.1 -0.7M310.8 26.5l1.2 0.5M362.5 49.0l-0.9 0.9M349.2 45.6l1.0 -0.8M377.2 36.6l1.3 -0.1M377.6 42.8l1.0 -0.9M329.6 35.6l0.0 1.3M368.9 28.4l1.2 0.5M361.6 48.9l-1.3 0.1M364.9 24.7l-0.1 1.3M309.1 37.1l0.6 1.1M286.6 34.3l1.0 -0.8M379.8 48.0l-1.3 0.2M305.2 55.1l-1.3 -0.2M353.8 23.9l0.3 1.3M365.0 49.6l1.0 -0.9M340.8 37.3l-1.1 -0.6M366.1 33.3l-1.3 -0.3M307.7 48.7l1.3 0.1M349.4 55.0l1.3 0.2M340.1 44.6l0.8 -1.0M339.1 31.6l-1.1 0.7M377.3 53.3l0.9 1.0M289.2 26.1l1.3 0.2M325.1 27.7l0.9 -1.0M346.3 27.2l-1.3 -0.3M312.6 39.5l0.2 1.3M296.4 29.2l-0.9 0.9M351.9 41.4l1.2 0.4M352.0 52.3l0.2 -1.3M360.2 23.3l-1.3 0.3M286.0 48.6l0.6 1.2M352.1 31.5l-0.4 -1.2M311.5 24.4l-1.0 0.8M311.1 53.2l-0.4 1.2M330.8 41.4l1.2 -0.4M289.6 43.1l-1.3 -0.1M354.4 55.4l-0.5 1.2M350.8 40.6l-1.2 -0.5M286.0 50.3l1.3 -0.2M315.7 33.7l1.3 -0.1M290.5 25.5l1.2 0.6M362.6 48.5l-1.2 0.4M342.9 23.7l-0.8 -1.0M324.6 40.3l-1.0 0.8M320.5 30.6l1.2 0.4M323.8 31.3l-0.4 -1.2M362.9 47.2l-1.3 0.4M303.6 35.9l-1.3 0.1M343.9 55.3l1.1 0.7M328.4 39.5l-0.3 -1.3M370.3 49.1l-0.9 -0.9M356.9 45.4l0.8 -1.0M350.8 45.9l0.0 1.3M373.0 35.9l-1.0 -0.9M363.6 55.3l1.3 -0.1M280.2 33.5l-0.5 1.2M319.4 27.9l-1.2 -0.4M287.6 33.1l1.2 -0.5M355.2 38.5l1.0 0.8M377.0 46.6l0.4 1.3M313.7 44.5l-0.5 -1.2M306.1 54.9l-0.6 1.2M305.4 51.3l0.7 1.1M349.0 29.7l-1.1 -0.8M307.8 35.7l1.2 -0.5M327.1 37.6l-1.0 -0.9M308.1 28.8l-1.0 0.9M307.3 29.3l1.3 -0.3M283.0 50.1l1.2 -0.5M351.4 23.6l-1.3 -0.0M283.5 43.4l-0.4 -1.2M304.0 23.3l-1.2 -0.4M289.1 33.4l-1.2 0.4M370.7 35.4l0.9 1.0M360.3 50.5l-1.3 -0.2M284.5 29.3l-1.1 0.7M335.8 30.5l0.4 -1.2M365.5 54.0l1.0 -0.9M281.3 42.5l1.1 0.6M371.3 48.0l0.1 -1.3M298.7 25.0l0.5 -1.2M341.4 43.8l-1.3 0.2M361.1 34.3l-0.2 1.3M315.5 33.0l-0.9 -0.9M370.3 25.4l1.2 0.5M331.7 45.7l0.5 1.2M307.0 25.0l1.3 0.3M330.0 45.8l-0.7 -1.1M295.6 26.5l1.2 -0.5M334.4 36.7l-0.5 -1.2M353.7 40.6l1.1 0.6M363.9 30.2l1.3 0.3M315.4 40.8l-0.9 -0.9M297.3 46.8l-1.3 0.1M296.0 51.5l0.5 -1.2M371.9 45.8l0.3 1.3M358.8 53.2l-1.3 -0.3M372.2 55.5l-1.0 0.8M375.6 54.4l0.4 -1.3M280.6 34.8l-1.0 -0.9M341.4 48.3l-0.8 -1.0M296.0 54.2l-1.3 -0.3M369.4 29.9l1.3 -0.0M336.1 49.0l-0.1 -1.3M369.5 35.1l1.1 0.6M320.9 29.0l-1.3 -0.3M362.6 35.1l0.9 1.0M282.3 37.2l-1.1 -0.6M282.2 45.3l0.3 1.3M290.4 54.1l-1.3 -0.2M370.8 40.2l0.9 0.9M304.0 37.2l-0.8 -1.0M358.1 48.2l-0.8 -1.1M305.3 37.4l-0.9 0.9M329.4 31.9l-1.3 -0.3M326.3 24.2l0.6 -1.2M339.3 49.9l-0.1 -1.3M354.0 56.3l-0.9 0.9M319.6 23.1l-0.7 -1.1M338.8 42.3l1.3 -0.0M299.6 30.6l-0.1 -1.3M362.4 39.2l1.2 0.4M317.3 50.7l-1.3 0.0M326.6 36.0l-0.9 -0.9M340.5 46.2l0.9 -1.0M356.1 35.6l-0.0 1.3M359.3 49.6l1.2 -0.6M299.8 51.4l1.0 -0.8M287.4 33.3l-0.9 -1.0M294.4 50.8l-0.1 1.3M349.1 32.9l0.3 1.3M300.6 39.7l-0.3 -1.3M301.7 46.0l-0.7 1.1M345.7 35.3l0.5 1.2M293.9 24.9l-0.4 -1.2M321.7 27.1l1.0 -0.9M346.3 23.7l-0.2 -1.3M340.2 37.9l-1.3 -0.0M377.6 35.5l-0.9 -1.0M344.3 35.3l-0.7 1.1M356.5 44.3l-1.3 0.3M331.9 30.5l0.3 -1.3M281.5 44.5l-1.2 0.4M302.1 42.7l-1.1 -0.6M288.4 39.4l0.7 1.1M361.0 34.0l-0.6 1.1M301.5 24.6l0.5 1.2M295.0 43.9l0.7 -1.1M302.0 26.7l-1.3 -0.3M291.3 36.6l0.1 -1.3M300.2 46.4l-1.3 -0.3M288.2 31.1l-1.1 -0.8M289.3 29.8l-1.2 -0.6M362.9 40.4l-0.7 -1.1M280.4 33.1l-0.5 1.2M372.7 35.0l0.3 -1.3M283.0 39.7l1.0 -0.8M358.2 42.4l0.5 1.2M374.0 25.7l1.3 -0.3M358.7 47.1l-1.3 -0.2M296.2 34.4l-0.7 -1.1M346.4 36.0l0.4 -1.2M284.9 32.6l1.1 0.7M312.6 49.6l0.0 -1.3M294.7 33.3l1.0 0.8M347.0 37.8l0.2 1.3M317.7 52.0l-1.2 0.6M350.0 44.0l-1.3 0.2M336.3 35.2l0.4 1.2M329.9 33.2l-0.6 1.1M298.5 53.6l-1.2 0.6M299.9 24.1l0.3 1.3M368.1 34.3l-0.6 -1.1M303.0 44.8l-1.2 0.4M354.6 40.7l-0.9 0.9M308.1 42.9l0.6 -1.1M350.0 39.1l-0.6 1.1M370.4 51.3l0.8 1.0M348.8 48.9l-0.6 -1.2M377.9 52.4l0.0 1.3M381.2 34.0l-0.9 0.9M379.1 28.6l-1.0 0.8M343.3 32.1l-0.1 1.3M360.5 43.5l-0.1 -1.3M360.1 52.2l1.0 -0.8M363.5 55.8l-1.3 0.0M351.1 40.2l1.3 -0.2M346.3 37.4l-0.7 -1.1M309.6 27.3l-1.0 0.9M293.5 23.1l1.1 0.7M325.8 48.6l1.2 0.4M344.4 26.7l-1.3 -0.1M309.7 37.9l-0.3 -1.3M321.7 36.1l-0.2 -1.3M291.3 34.7l-0.4 -1.2M364.7 55.8l-0.1 1.3M343.3 33.5l-0.4 -1.2M365.8 27.5l-0.7 1.1M375.0 34.8l-0.9 -1.0M363.0 32.3l0.3 -1.3M279.9 34.4l0.6 1.1M314.8 30.1l1.3 0.2M361.4 28.8l-1.2 -0.6M336.0 51.5l0.7 -1.1M342.9 28.7l0.1 -1.3M289.4 54.1l-0.5 1.2M305.3 30.3l-1.0 0.8M360.2 51.6l-0.0 -1.3M353.9 31.2l-0.6 1.2M310.5 37.5l0.9 -0.9M381.1 25.8l1.3 -0.3M373.2 38.4l-0.5 -1.2M359.5 29.3l-1.0 -0.9M379.6 52.5l1.1 -0.7M288.1 46.9l-1.3 0.1M372.2 28.6l-1.2 -0.4M291.8 49.9l-0.2 -1.3M282.7 33.4l0.8 1.0M344.3 44.1l1.2 0.5M376.5 55.3l-1.2 0.5M338.1 35.2l-1.0 -0.8M320.1 37.8l-0.0 -1.3M298.5 33.0l0.1 -1.3M302.4 25.3l1.1 -0.7M295.8 36.8l-0.5 1.2M306.2 34.8l-1.3 -0.3M291.3 40.9l1.2 0.4M287.5 29.8l0.1 1.3M314.3 32.8l0.7 -1.1M346.6 38.9l0.2 -1.3M349.5 33.6l-1.0 -0.9M355.5 40.9l0.0 -1.3M344.0 54.1l-0.1 1.3M348.0 55.7l-1.3 -0.2M371.8 26.2l-0.2 -1.3M306.6 48.1l-1.2 0.6M334.1 31.3l-0.1 1.3M367.8 44.6l-0.9 -0.9M291.3 32.8l1.3 -0.3M300.2 41.0l-0.4 -1.2M331.6 41.6l1.3 -0.2M359.2 30.9l-1.2 0.6M322.3 45.9l-0.6 -1.2M306.1 46.2l-1.2 0.5M281.1 32.8l-0.9 0.9M299.6 45.5l1.3 -0.1M374.5 44.1l0.8 -1.0M329.6 42.7l1.0 -0.8M285.6 35.1l-0.9 0.9M314.3 37.3l1.2 0.5M348.8 55.1l0.1 1.3M298.4 34.2l0.4 -1.2M302.6 48.8l0.6 1.1M340.2 47.2l-0.6 -1.2M288.1 55.0l0.8 -1.1M328.6 51.8l-1.0 -0.8M296.7 36.3l0.6 -1.2M326.8 24.4l0.7 1.1M298.5 42.6l-0.8 -1.0M325.2 36.5l1.3 -0.3M314.5 45.5l0.4 1.2M331.9 29.0l1.0 0.8M313.8 26.9l-1.0 0.9M346.1 41.4l0.4 -1.2M328.2 25.8l-0.2 -1.3M320.5 48.2l1.3 -0.2M333.0 31.4l-0.8 1.0M330.4 33.7l1.0 0.8M320.1 45.0l0.5 -1.2M357.2 52.6l0.4 -1.2M321.5 44.6l1.2 0.4M360.5 46.7l-0.1 1.3M327.7 32.1l0.4 -1.2M323.0 49.2l1.2 -0.6M358.8 35.7l-0.7 1.1M376.0 53.3l0.5 1.2M316.4 49.4l0.1 -1.3M308.4 38.0l1.3 -0.3M288.7 32.2l-0.7 -1.1M372.1 54.7l-1.3 0.2M360.1 55.6l-0.6 1.1M302.7 31.7l0.3 -1.3M293.7 41.3l1.2 -0.6M300.0 44.1l-1.3 -0.2M378.1 40.2l-1.3 0.1M371.7 48.2l0.8 1.0M361.5 36.4l1.3 -0.3M377.7 39.5l-1.1 0.7M302.7 32.3l0.4 1.3M296.7 47.5l1.2 0.4M340.6 43.0l-0.1 -1.3M337.4 54.1l-0.3 1.3M289.0 42.5l-0.2 1.3M380.3 53.9l-0.5 -1.2M364.5 31.2l-1.3 0.1M318.5 34.6l-0.9 0.9M328.2 44.9l1.3 0.2M334.5 27.3l1.3 -0.3M335.8 42.7l-0.5 1.2M351.5 46.8l1.1 -0.7M338.7 32.0l-0.9 -0.9M284.6 47.9l-0.5 1.2M352.9 27.4l-1.1 -0.7M296.7 24.2l-0.1 1.3M366.0 36.0l-1.3 -0.2M360.1 55.8l-0.1 1.3M350.3 49.2l0.4 -1.3M314.9 38.9l0.3 -1.3M305.1 39.3l-0.9 -1.0M366.3 31.2l-0.7 -1.1M301.6 28.3l-1.3 0.2M345.6 44.4l1.2 -0.4M296.3 40.8l-1.3 0.2M305.9 53.7l0.8 1.0M306.1 24.4l-0.8 -1.0M346.6 30.5l1.1 -0.6M344.3 29.8l1.2 -0.5M366.5 33.5l0.9 -1.0M292.8 34.7l-1.1 0.6M376.9 33.0l-1.0 0.9M300.6 50.5l0.5 1.2M366.0 34.4l-1.2 -0.4M368.9 31.9l-1.3 -0.2M344.4 42.4l-1.1 0.7M345.4 33.5l0.7 1.1M280.4 43.3l-1.2 -0.6M361.1 28.3l-0.6 -1.2M325.7 40.6l0.6 -1.1M332.4 37.6l-0.8 -1.0M294.6 52.2l-1.3 -0.1M283.8 39.1l1.2 -0.4M379.3 37.3l-0.1 1.3M375.0 32.5l1.3 0.1M304.7 38.8l-0.6 -1.2M286.3 34.2l-0.2 -1.3M314.6 28.9l-0.3 -1.3M324.0 46.3l-1.3 0.1M362.4 40.2l1.3 -0.2M362.4 47.2l-1.3 0.1M341.7 35.6l1.2 0.6M369.7 50.0l0.1 -1.3M367.1 41.5l1.3 -0.0M327.8 55.9l1.1 0.6M318.1 42.1l0.5 -1.2M332.6 49.5l-0.9 0.9M348.6 49.7l-1.1 -0.8M281.6 45.0l1.3 0.0M310.4 26.8l0.1 -1.3M296.7 47.1l1.2 0.6M300.6 46.3l1.2 -0.6M286.8 43.6l-1.0 0.8M342.9 25.6l1.3 0.1M287.5 52.9l-1.3 0.1M342.0 27.5l-0.5 -1.2M371.4 29.6l0.2 -1.3M366.0 56.2l-1.2 -0.5M345.3 34.6l0.3 -1.3M311.2 43.9l-0.9 -0.9M380.4 49.4l1.1 0.7M297.6 35.0l-1.0 0.8M352.6 31.7l-1.2 -0.5M325.6 33.2l-0.8 -1.0M323.8 55.8l0.9 0.9M371.2 44.3l-1.3 0.3M287.4 44.7l0.4 -1.2M315.2 46.9l-1.3 -0.3M288.7 51.8l-0.5 1.2M328.5 48.5l0.9 -0.9M366.6 35.3l0.7 -1.1M295.1 41.5l-1.2 0.5M367.8 47.2l-0.7 -1.1M362.2 34.6l-1.2 0.4M290.0 34.7l0.4 1.2M354.1 27.3l1.1 -0.7M340.7 37.9l1.0 0.9M325.1 41.9l0.8 1.0M379.1 35.1l-1.2 0.5M308.6 35.5l-0.2 1.3M366.6 25.4l-0.9 1.0M340.5 39.1l-0.6 1.2M328.9 25.1l-0.5 1.2M323.9 48.7l-1.2 0.6M321.9 44.9l-0.2 1.3M335.6 29.5l-1.0 -0.9M334.5 44.9l0.9 -0.9M360.6 56.1l0.1 1.3M376.8 37.9l-0.9 1.0M325.9 53.9l1.2 -0.4M361.6 33.1l1.0 0.9M300.3 45.5l-0.4 -1.2M286.2 23.1l1.3 -0.0M314.0 24.4l-1.3 0.3M289.5 50.3l-1.3 -0.2M341.9 54.1l0.9 0.9M301.4 49.4l-1.0 -0.8M324.2 34.9l-1.0 -0.9M375.9 54.8l1.1 -0.6M379.3 27.4l1.3 0.2M364.1 31.3l-1.3 -0.2M327.3 55.6l-1.2 0.5M293.2 29.8l1.1 -0.7M362.7 27.7l1.3 -0.3M317.4 47.4l-1.2 -0.5M367.0 39.4l1.3 0.2M336.4 51.5l-1.1 0.7M363.8 38.0l-0.8 1.0M316.1 30.7l-1.3 -0.0M377.4 42.8l0.1 -1.3M297.8 35.4l-1.1 -0.6M318.6 23.3l0.9 -1.0M292.7 45.1l1.3 -0.2M309.0 32.0l-0.6 1.1M334.8 55.8l0.8 1.0M304.5 53.0l-0.2 1.3M347.5 47.2l1.3 0.0M282.3 48.4l1.1 -0.6M350.4 38.6l1.0 0.8M333.2 26.7l-0.6 1.2M283.1 40.3l-1.3 0.3M308.5 30.4l1.2 0.5M282.3 27.2l1.3 -0.1M282.9 47.0l-1.3 0.4M339.4 33.2l1.3 -0.2M361.9 36.6l-1.2 0.5M373.1 28.2l0.9 -0.9M342.7 42.0l-1.3 -0.3M339.8 26.0l0.0 1.3M315.6 30.4l1.1 0.7M352.2 37.1l-0.1 -1.3M319.5 54.5l0.0 1.3M331.8 37.2l0.3 -1.3M292.8 41.3l-1.2 0.4M343.2 30.8l-1.3 -0.3M380.0 26.4l1.3 -0.2M378.1 38.0l1.1 0.6M330.2 55.3l1.3 0.0M356.3 49.1l1.0 0.9M341.0 28.0l1.1 0.8M332.7 33.0l-0.7 -1.1M333.2 30.7l1.1 -0.6M280.1 49.9l-0.3 1.3M371.2 43.3l-1.3 0.3M301.5 51.7l0.8 -1.0M377.5 42.8l1.2 -0.6M370.8 45.3l-0.7 1.1M341.1 34.5l0.5 -1.2M335.9 52.0l1.0 -0.8M356.5 29.8l-0.7 1.1M288.2 34.2l0.7 1.1M310.1 49.6l1.0 0.9M373.1 53.9l0.2 -1.3M303.8 32.7l-1.3 0.3M342.6 54.0l1.3 0.2M288.3 50.5l1.3 0.2M370.7 29.2l1.3 -0.2M327.5 43.3l0.6 -1.2M363.5 36.9l-1.3 0.3M359.9 31.6l-0.4 1.2M368.3 52.5l0.6 -1.1M314.6 34.5l1.0 0.8M364.4 24.6l0.5 1.2M282.0 38.3l1.3 -0.0M286.7 31.4l-0.1 1.3M351.0 34.9l0.6 1.2M350.1 53.2l0.7 1.1M285.9 36.6l1.2 -0.5M285.6 27.6l-0.8 -1.0M357.2 38.1l1.2 0.4M335.7 26.3l1.2 0.6M285.3 54.4l1.0 0.8M328.0 50.5l0.4 1.2M319.3 49.6l-1.2 -0.5M299.3 41.0l1.3 -0.0M363.0 55.2l1.3 0.2M285.4 39.8l1.3 0.1M377.7 32.8l-1.2 -0.4M369.0 37.3l0.1 -1.3M295.3 37.9l-0.2 -1.3M327.2 29.2l0.8 -1.0M316.0 53.6l-0.5 1.2M363.9 27.2l-0.6 -1.2M376.6 44.0l-1.1 0.7M379.5 55.4l0.6 -1.2M302.2 26.0l-1.0 -0.8M293.2 25.0l-1.2 -0.4M375.8 32.1l0.6 -1.2M377.5 54.5l1.1 0.6M293.2 55.0l1.3 -0.3M297.0 29.1l-0.3 -1.3M289.4 26.5l0.7 1.1M338.5 35.4l0.7 -1.1M295.1 53.0l0.3 -1.3M317.7 43.3l-0.6 -1.2M291.9 54.2l-1.2 0.5M332.0 174.2l1.3 0.2M306.8 147.5l-0.1 -1.3M301.8 169.8l-0.3 -1.3M381.1 152.4l-1.1 0.7M359.9 160.9l0.6 1.2M348.3 172.3l-1.2 0.4M318.4 150.8l-1.1 0.7M365.2 158.0l1.2 -0.4M316.0 162.0l0.2 -1.3M372.5 174.0l-1.1 0.6M325.5 150.7l-1.3 -0.3M363.0 152.7l-0.5 1.2M286.2 161.3l-1.3 0.2M380.5 168.3l1.1 -0.6M299.9 160.7l-0.4 -1.2M287.1 165.1l-0.9 -0.9M282.3 153.1l0.3 -1.3M296.0 167.2l-1.1 0.6M319.2 175.0l-1.0 0.8M369.2 173.2l-1.2 -0.4M289.9 157.3l1.2 -0.4M306.4 165.7l0.4 1.2M354.2 168.9l1.0 -0.8M340.0 150.1l0.4 -1.2M338.3 177.2l-1.3 -0.2M312.6 160.9l-1.2 -0.5M350.7 167.1l0.8 -1.0M334.2 153.2l0.8 -1.0M352.1 151.6l-1.3 0.3M366.3 165.3l0.9 0.9M367.8 170.3l0.4 1.2M350.3 174.6l-1.2 -0.6M376.2 164.0l1.3 0.1M346.8 173.5l1.1 -0.7M356.5 177.1l0.4 -1.2M327.8 148.5l0.6 1.1M284.5 176.6l0.5 -1.2M371.9 171.7l-1.2 0.4M337.0 147.3l0.7 1.1M320.3 148.2l-0.5 1.2M332.4 151.7l0.6 1.2M288.2 161.4l0.7 -1.1M325.1 169.4l-0.3 -1.3M361.5 172.4l-1.3 -0.0M284.2 152.0l-0.2 1.3M313.9 166.0l-1.3 0.0M308.9 151.9l-0.1 -1.3M381.0 169.3l0.8 1.0M350.4 172.5l-1.3 -0.3M344.2 174.5l-1.3 0.2M351.6 152.0l0.7 -1.1M337.7 152.7l-0.9 -0.9M363.6 161.0l-0.5 1.2M352.0 178.8l1.3 -0.3M311.1 162.3l-0.9 0.9M294.0 164.2l-0.3 1.3M328.3 173.4l-1.2 -0.4M380.5 153.1l0.5 1.2M286.1 169.4l-0.3 1.3M301.8 167.2l1.3 -0.1M356.3 177.6l1.2 -0.5M333.3 153.6l0.1 -1.3M301.7 148.8l-0.9 0.9M354.9 167.1l-1.1 0.7M292.3 152.1l-1.0 -0.8M329.9 164.1l-0.1 -1.3M338.0 174.7l1.1 -0.6M332.4 158.2l-1.3 -0.0M305.0 152.2l-0.2 -1.3M324.5 147.2l-1.0 0.8M312.3 148.5l1.3 0.2M342.1 172.7l0.7 -1.1M340.4 153.8l-0.8 -1.0M307.0 154.0l-0.6 1.1M293.3 150.1l1.3 -0.1M288.1 178.1l-0.5 -1.2M355.2 150.1l-0.6 -1.2M299.9 163.0l-1.2 0.4M371.5 149.8l1.3 0.1M339.1 163.6l-0.8 -1.0M288.3 158.5l-0.3 -1.3M339.9 156.8l1.3 0.1M284.0 175.5l-0.2 1.3M286.8 156.0l0.3 1.3M334.9 148.1l-1.3 -0.3M345.5 163.9l-1.1 -0.7M304.1 159.2l-0.0 -1.3M308.6 173.3l0.5 1.2M328.2 175.7l-0.7 -1.1M307.6 158.4l-0.3 1.3M356.1 158.4l0.7 -1.1M350.4 173.5l-1.3 -0.2M308.3 168.8l-1.2 0.5M284.7 161.1l0.5 1.2M287.0 155.1l1.2 -0.4M347.7 160.6l-1.1 -0.6M319.0 164.8l-0.1 1.3M366.7 172.3l-1.2 0.4M336.2 158.6l0.2 -1.3M364.7 176.6l1.0 0.8M372.1 153.6l1.0 0.8M321.7 167.5l1.0 0.9M345.2 177.9l0.2 -1.3M363.9 151.6l-0.7 1.1M304.7 158.5l1.0 -0.9M381.1 155.1l-1.2 -0.5M341.5 178.1l-1.2 0.4M291.5 149.7l0.8 1.0M328.1 149.5l-0.5 -1.2M299.2 147.9l-0.2 -1.3M326.7 171.1l-1.2 -0.6M318.4 148.8l0.8 -1.0M348.8 155.0l1.1 0.6M343.7 176.7l-0.1 -1.3M373.6 178.8l0.9 0.9M298.3 161.6l1.0 0.8M328.9 173.0l-0.1 1.3M362.9 154.8l0.5 -1.2M287.3 150.4l1.2 0.4M338.6 147.2l-0.4 -1.2M322.1 175.9l-1.0 0.9M364.6 170.9l-0.9 0.9M359.0 166.0l-1.1 -0.7M323.0 151.5l-1.3 -0.2M332.4 160.5l1.3 -0.1M297.0 176.1l-1.2 -0.5M289.6 164.8l0.5 1.2M330.1 162.1l0.2 -1.3M372.3 148.8l0.9 -0.9M375.1 151.4l1.1 0.6M326.8 147.5l0.9 0.9M331.6 153.3l-1.0 -0.8M300.7 168.2l-0.9 -0.9M287.2 168.7l1.1 -0.6M380.9 147.9l-0.5 -1.2M312.1 160.1l-1.3 0.3M284.5 167.0l0.9 0.9M366.8 149.8l-0.9 -0.9M336.0 147.5l1.0 0.9M330.1 159.2l0.7 1.1M289.8 154.0l0.5 -1.2M293.5 171.1l1.0 0.9M362.8 171.6l1.0 -0.9M319.3 178.2l-1.1 0.7M343.9 173.4l0.8 1.1M284.1 169.1l0.2 1.3M301.9 162.5l0.6 1.1M307.1 153.1l1.1 0.7M362.7 173.9l-0.1 -1.3M324.3 176.5l-1.3 -0.3M336.0 147.2l-0.8 1.0M301.6 167.9l1.3 -0.3M343.5 156.9l0.6 -1.1M287.7 172.7l1.3 0.3M377.9 171.0l1.3 -0.1M328.7 167.9l-1.0 0.8M356.1 164.0l-1.3 0.4M361.4 177.0l-0.2 1.3M305.8 178.8l-0.7 1.1M317.0 164.3l-0.3 1.3M326.0 155.4l-1.2 0.5M360.9 171.3l1.2 -0.6M374.7 155.2l0.2 -1.3M350.2 166.8l-1.3 0.1M373.4 164.8l1.2 -0.5M290.3 158.1l0.9 1.0M353.0 161.4l-0.6 1.2M313.9 162.2l-0.5 1.2M329.8 166.7l1.3 0.2M301.9 163.5l-0.7 -1.1M339.9 170.3l-1.2 0.5M372.5 171.5l-1.3 -0.0M337.7 172.7l-0.3 1.3M308.3 162.7l-1.3 -0.0M284.8 162.8l1.1 -0.6M367.8 164.0l-0.4 -1.2M317.4 148.8l0.6 -1.2M334.5 166.3l-1.0 -0.8M378.9 156.3l-1.2 -0.6M354.4 168.8l1.1 -0.7M283.7 172.4l1.3 0.3M311.9 158.0l0.4 -1.2M370.2 164.5l-1.2 -0.4M347.3 147.4l-0.9 0.9M325.6 148.1l-0.5 1.2M308.0 150.7l0.5 1.2M317.3 168.0l0.8 -1.0M312.0 172.1l-0.3 -1.3M290.0 153.0l0.9 -0.9M293.8 166.9l-1.1 -0.7M361.8 171.7l0.5 -1.2M293.4 170.0l1.0 -0.8M347.4 177.6l1.1 0.6M327.0 178.0l-0.4 1.2M314.7 156.1l-0.9 0.9M323.5 162.9l-0.1 1.3M330.5 176.7l-0.8 1.1M304.9 176.3l-0.3 -1.3M360.3 176.3l1.3 -0.1M310.5 146.5l-0.1 -1.3M346.9 159.1l1.1 -0.7M361.4 165.0l-1.0 -0.8M322.2 152.5l-0.4 1.3M353.7 162.6l-1.3 -0.2M346.3 176.9l1.0 0.9M289.0 171.5l0.3 1.3M337.5 163.0l-0.6 -1.1M344.7 159.5l-1.0 -0.8M374.8 173.8l-1.3 0.4M354.1 155.9l1.2 -0.6M279.8 164.9l0.1 -1.3M372.5 164.1l-1.3 -0.1M341.4 171.1l-0.9 0.9M344.4 154.8l1.1 0.6M287.4 152.3l-1.1 0.7M293.0 171.9l-0.5 -1.2M318.7 152.3l-1.1 0.7M368.5 173.7l-0.5 -1.2M318.8 173.6l-1.3 -0.1M314.2 175.8l-0.6 -1.1M285.3 148.7l-1.3 0.2M358.6 160.7l-1.3 -0.2M293.4 166.2l-1.1 0.7M316.3 153.4l-1.1 -0.7M364.1 163.8l-1.0 -0.8M336.3 169.6l-0.4 -1.2M280.6 177.9l-1.3 0.1M284.5 170.0l0.1 -1.3M316.9 166.0l1.3 0.3M354.7 168.4l0.5 -1.2M327.8 176.4l-1.1 0.7M280.0 149.4l-0.6 1.2M302.4 154.0l1.1 0.7M345.7 175.4l1.2 -0.6M315.6 162.7l-1.3 -0.2M340.8 170.2l-1.2 0.5M281.5 156.8l1.3 0.1M349.1 178.0l-1.2 -0.6M350.0 165.0l1.3 -0.2M296.6 165.1l-0.6 1.1M326.2 153.6l0.3 -1.3M313.5 155.2l0.8 -1.0M281.3 152.6l1.2 -0.6M347.5 153.0l0.9 1.0M348.1 173.6l1.3 -0.0M375.6 170.9l1.1 0.7M359.8 160.7l-1.3 -0.3M281.9 146.9l-1.3 -0.1M345.3 155.3l1.3 -0.3M286.5 174.9l1.2 -0.5M288.5 173.4l-1.0 -0.9M323.8 160.7l-1.2 -0.4M374.0 171.1l-1.3 0.2M326.3 152.2l-1.2 -0.4M367.3 167.1l-1.1 -0.8M325.6 178.5l0.8 -1.0M332.3 168.0l0.4 -1.2M305.7 166.9l-0.3 1.3M357.4 156.4l1.3 -0.3M350.1 163.7l-1.2 -0.5M339.0 155.2l1.3 0.2M325.7 156.1l-1.3 0.2M301.0 153.2l1.3 -0.2M318.1 170.8l0.8 1.0M288.4 169.0l-1.2 0.5M361.1 147.2l-1.3 0.0M340.4 153.7l-0.3 -1.3M299.5 150.0l0.7 1.1M284.2 159.6l0.3 -1.3M297.2 155.7l-0.7 1.1M302.0 174.8l0.7 -1.1M291.7 167.9l1.1 -0.7M280.7 159.6l1.3 0.2M311.8 150.5l-1.3 0.3M300.4 170.4l-1.0 0.9M288.0 164.5l-1.3 0.3M355.0 170.7l0.0 1.3M318.7 169.9l1.3 -0.3M335.8 166.3l-0.7 1.1M323.9 156.8l-1.3 0.0M308.7 157.0l1.3 0.2M288.4 174.7l-0.7 1.1M377.8 154.5l-0.9 1.0M370.6 161.0l-0.6 -1.2M358.6 159.1l0.4 1.2M280.5 174.5l-1.2 -0.6M359.2 178.4l0.9 -0.9M339.9 150.1l-1.2 -0.6M328.9 149.8l1.3 0.2M314.8 158.6l0.9 -0.9M380.8 176.4l-0.6 1.2M366.5 158.9l-0.9 1.0M338.4 147.9l-0.6 -1.2M285.8 165.6l-0.0 -1.3M285.7 167.5l-1.3 -0.1M315.1 171.9l-0.5 1.2M299.1 159.9l-0.9 1.0M363.2 153.2l-1.0 0.8M359.0 161.5l-0.7 1.1M294.5 157.9l-1.3 -0.2M359.0 178.9l-1.3 -0.3M330.3 171.2l-1.3 0.3M305.5 169.2l0.6 -1.1M302.1 174.4l1.2 0.5M298.9 158.8l1.1 -0.7M328.6 157.7l0.1 1.3M327.2 164.7l-1.1 -0.8M370.6 150.5l-0.3 -1.3M377.6 166.2l-0.3 -1.3M361.6 175.3l-0.5 1.2M325.7 173.8l0.7 1.1M325.2 177.9l-1.0 0.8M323.7 160.3l-1.3 0.2M357.9 150.0l-1.3 0.3M323.0 177.7l0.8 -1.0M309.5 156.9l1.3 -0.1M280.8 169.2l1.3 0.1M309.3 167.5l-0.6 -1.2M344.4 153.8l-1.1 0.8M366.6 155.5l-1.3 -0.3M336.5 174.4l0.4 -1.2M360.1 157.5l-0.1 -1.3M370.7 148.9l-0.2 -1.3M326.7 159.0l-0.8 -1.0M362.0 175.9l0.4 -1.2M374.6 174.5l-1.3 -0.1M350.1 176.2l-1.1 -0.7M286.7 159.5l-0.5 -1.2M281.6 150.1l0.7 -1.1M349.3 147.1l0.2 -1.3M341.8 158.9l-0.8 -1.0M289.0 151.0l-0.5 -1.2M349.1 166.6l-1.2 0.5M299.6 150.7l1.2 -0.5M309.1 160.0l-1.3 -0.1M279.8 157.0l0.4 1.2M290.1 176.7l0.6 1.2M309.5 155.3l0.3 -1.3M368.0 167.2l-0.9 -1.0M340.7 147.5l-0.7 -1.1M376.8 175.1l1.1 -0.7M292.5 169.7l1.3 -0.1M304.4 155.9l1.3 -0.2M304.2 151.5l-0.6 -1.2M312.5 166.7l-0.0 1.3M302.9 165.6l-1.2 0.5M347.6 164.6l0.1 1.3M300.5 149.1l1.1 0.6M352.1 157.3l1.3 0.0M282.6 174.3l-0.9 -0.9M301.3 172.2l1.0 -0.8M285.1 152.5l-0.6 -1.2M358.6 155.1l-1.3 0.2M313.6 158.9l0.7 -1.1M338.3 167.1l1.1 -0.7M372.9 168.3l1.3 0.3M317.2 178.0l-1.3 0.2M282.7 168.3l-1.2 -0.4M353.6 164.6l-0.3 1.3M317.8 150.8l-1.1 0.6M331.4 150.8l1.2 0.4M344.0 167.2l0.2 -1.3M327.0 149.3l-1.3 -0.2M309.7 175.9l0.3 1.3M362.0 167.4l-0.4 1.2M340.4 148.7l-0.2 1.3M351.6 147.8l-1.2 -0.5M371.8 177.8l0.2 -1.3M363.8 156.8l-0.8 1.0M306.1 148.6l1.1 0.7M285.2 153.6l-0.6 1.1M318.0 162.2l0.7 -1.1M316.8 161.7l0.4 -1.2M325.3 170.0l1.3 -0.2M371.0 155.5l0.7 -1.1M373.9 154.1l0.8 1.0M353.9 168.1l0.4 1.2M379.6 161.6l1.3 -0.2M330.5 169.9l0.8 1.0M362.1 160.9l0.2 1.3M323.0 167.9l1.0 -0.8M357.2 176.3l0.1 -1.3M317.6 152.1l1.1 -0.7M323.9 177.6l-0.6 -1.2M360.1 165.5l0.4 1.2M329.1 168.1l1.0 0.8M317.5 172.4l0.3 1.3M280.8 153.7l-1.2 0.5M308.2 163.5l-0.2 1.3M323.7 176.3l0.6 -1.1M356.9 160.8l-1.2 -0.4M361.1 153.2l-0.8 1.0M293.5 161.3l-0.5 1.2M348.1 158.3l-0.8 -1.1M338.3 165.7l-1.2 0.6M322.2 150.6l-0.8 -1.0M312.4 155.7l1.0 -0.8M322.1 150.0l-0.9 -0.9M320.3 159.0l-1.0 -0.8M330.8 175.7l-0.4 1.2M362.5 173.9l-0.1 1.3M281.1 151.5l-1.3 -0.3M367.9 161.7l0.1 1.3M339.6 172.2l1.2 -0.6M336.1 152.7l-1.2 -0.4M330.5 153.3l1.1 0.8M368.7 155.7l0.9 -0.9M337.3 146.6l1.1 -0.7M379.6 152.4l-0.5 -1.2M283.8 175.6l0.8 1.0M342.4 170.8l-1.1 -0.7M369.6 152.3l1.3 -0.2M345.9 150.1l1.3 0.3M301.0 150.4l-1.0 0.9M292.1 156.1l0.8 -1.0M351.0 155.7l0.9 0.9M288.8 156.6l1.2 0.5M293.8 178.8l-0.6 1.2M364.2 148.3l0.7 1.1M284.7 163.9l0.9 -0.9M366.3 158.4l0.4 -1.2M319.3 163.5l-0.3 1.3M313.3 167.3l-1.0 0.8M299.7 157.4l1.3 0.3M318.0 176.4l-1.2 -0.5M306.9 161.9l-1.3 -0.3M294.3 164.2l-0.2 1.3M290.6 153.9l-0.7 1.1M352.7 148.1l-1.3 0.1M338.5 174.0l0.8 1.0M359.1 157.5l0.9 0.9M348.1 169.7l1.3 -0.1M305.6 169.4l1.2 -0.5M333.7 169.0l0.9 0.9M309.1 159.4l0.5 1.2M291.5 158.4l-0.8 -1.0M331.1 163.4l-1.3 -0.1M356.0 170.5l-0.6 1.1M290.2 151.0l-0.8 1.0M322.3 169.2l1.1 0.8M301.3 170.6l0.8 -1.0M306.4 164.5l-1.2 -0.4M305.5 162.6l1.2 0.5M375.2 154.4l1.1 -0.7M370.5 159.8l0.6 1.1M308.9 176.7l1.2 0.4M306.4 155.1l-0.8 1.0M379.7 160.8l1.1 -0.6M346.0 146.7l-0.8 1.0M313.5 152.6l0.1 1.3M301.8 175.3l-1.2 -0.5M325.0 156.1l-0.9 -0.9M315.1 147.3l0.7 1.1M361.9 168.8l-0.4 -1.2M323.6 166.6l1.3 0.2M344.0 173.7l-1.0 -0.9M332.9 169.0l0.3 -1.3M321.4 150.2l-0.9 -1.0M345.4 177.1l1.3 0.2M338.3 176.0l1.2 0.4M348.8 167.5l0.6 -1.2M334.7 168.6l0.3 -1.3M301.5 146.9l-0.3 -1.3M296.2 150.3l1.0 0.8M370.6 175.2l-1.3 0.2M354.0 155.9l1.0 0.9M342.1 155.4l1.2 0.4M353.3 146.6l-0.7 -1.1M298.4 155.8l-0.8 1.0M355.2 167.4l1.1 0.6M311.8 164.1l1.3 -0.3M324.0 172.9l0.6 -1.2M356.7 154.5l0.8 1.0M360.3 153.7l-1.3 0.1M322.4 166.3l1.2 -0.4M302.1 148.8l0.2 -1.3M302.6 164.7l-0.2 1.3M367.5 167.0l0.5 -1.2M315.7 153.0l-0.6 -1.1M298.4 148.6l1.3 -0.1M335.6 65.0l-1.1 0.7M323.6 62.1l-1.1 -0.7M334.8 143.4l1.1 -0.7M328.5 59.4l-0.7 -1.1M329.9 67.7l0.1 1.3M324.9 140.9l-0.6 1.2M337.6 108.1l-0.2 -1.3M334.5 76.9l0.7 -1.1M336.9 64.8l-0.5 1.2M326.4 111.0l0.3 -1.3M336.0 99.9l1.3 -0.1M332.4 121.9l-1.2 0.4M332.0 109.7l0.4 -1.2M330.4 86.2l-0.2 1.3M327.9 81.0l-1.2 -0.4M337.8 146.3l-0.1 1.3M328.7 108.0l-0.7 1.1M323.4 75.5l0.9 -1.0M329.4 61.0l-1.1 -0.7M326.1 137.6l-0.2 -1.3M322.7 85.0l1.1 0.7M326.9 129.0l0.6 -1.1M336.2 98.8l-1.2 -0.6M331.3 80.9l1.2 -0.4M325.0 141.2l0.3 1.3M334.5 100.2l1.2 0.4M334.7 107.9l1.0 0.8M338.0 134.3l-0.9 -0.9M323.7 136.1l1.3 0.3M337.3 126.5l0.3 -1.3M336.6 115.0l-0.9 0.9M329.1 92.7l-1.3 -0.1M333.1 114.4l-1.3 0.1M334.2 58.5l1.1 -0.7M326.2 84.3l-0.2 -1.3M330.0 88.7l1.1 0.7M333.5 99.1l-0.5 1.2M328.7 108.4l1.3 -0.2M332.2 85.7l0.9 0.9M326.8 73.0l0.5 1.2M334.0 91.0l-0.5 1.2M324.9 123.0l1.0 -0.8M333.3 79.9l-1.2 0.4M324.1 82.5l0.9 0.9M330.1 117.6l-1.3 -0.2M334.2 134.1l0.3 -1.3M329.0 114.3l-1.0 -0.8M333.2 126.2l0.7 -1.1M329.5 128.2l-1.2 0.4M335.6 96.9l0.8 -1.0M324.3 142.3l1.2 0.4M337.8 124.4l1.1 0.7M327.0 80.9l-1.2 0.5M325.9 71.9l-1.3 -0.2M333.7 87.5l1.2 0.5M323.1 57.8l1.3 -0.2M333.3 77.8l1.0 -0.8M322.5 142.4l1.3 0.2M325.4 62.8l0.2 -1.3M325.7 92.4l-0.9 0.9M331.5 130.4l-1.1 -0.7M324.4 62.2l-0.6 -1.2M329.3 101.7l1.0 0.9M326.2 139.3l1.3 -0.3M327.5 94.7l1.0 -0.8M334.7 86.0l-0.3 -1.3M326.9 68.4l1.1 -0.7M328.2 143.6l0.9 -0.9M330.8 139.4l-1.1 0.6M330.2 70.8l1.3 0.1M329.0 69.0l-0.9 0.9M329.9 88.0l0.1 -1.3M334.7 99.9l-1.3 -0.3M337.8 101.8l-1.2 0.4M333.6 59.7l-0.2 1.3M325.4 102.7l1.3 0.2M334.4 125.8l-1.3 0.3M336.7 100.3l-0.9 0.9M323.9 93.3l-0.8 1.0M333.6 131.5l1.0 0.8M330.4 104.5l-1.0 0.8M329.4 144.0l-1.0 0.8M328.7 107.4l1.0 -0.8M331.9 145.3l-0.8 1.0M334.6 131.1l1.1 -0.7M337.9 104.8l-0.2 1.3M330.7 115.2l1.0 0.8M333.4 122.6l-0.1 1.3M327.0 119.4l1.3 0.0M336.6 122.8l-1.3 -0.1M330.9 85.7l0.5 -1.2M326.1 118.7l1.3 0.0M322.9 139.9l1.3 0.0M323.6 124.5l-1.3 -0.3M324.5 134.9l1.0 0.8M329.4 116.7l0.5 -1.2M333.1 101.8l0.9 0.9M326.1 106.9l-1.3 -0.1M327.0 145.4l0.1 -1.3M336.9 76.6l1.2 -0.5M337.2 104.6l1.2 -0.5M337.6 140.6l0.1 1.3M325.6 61.2l1.0 -0.8M324.5 102.3l1.3 0.1M334.5 135.1l1.1 -0.7M326.4 73.9l-0.4 -1.2M330.7 67.5l-1.0 -0.9M328.4 120.8l-0.2 -1.3M328.1 74.0l1.3 0.3M336.8 56.8l-1.0 -0.9M332.9 141.7l-0.7 -1.1M337.8 144.1l-0.8 -1.0M330.1 63.7l-0.7 1.1M323.4 107.0l-1.0 0.9M336.7 136.3l-1.3 -0.3M324.5 104.2l0.3 -1.3M336.0 79.2l1.3 0.2M333.4 83.8l1.2 0.4M326.8 99.4l0.5 1.2M334.0 117.8l-1.3 -0.3M328.7 89.6l-1.3 0.1M327.2 121.4l-0.1 1.3M329.4 102.7l-1.2 0.5M323.8 129.0l-0.2 1.3M326.7 129.0l0.8 -1.0M332.1 133.5l1.2 0.4M323.6 138.8l-0.3 -1.3M326.7 144.3l0.0 -1.3M335.7 91.3l0.4 -1.2M323.2 92.6l1.3 -0.3M337.8 66.7l-0.2 1.3M326.8 134.6l-1.3 0.1M337.6 129.9l0.8 1.0M329.2 73.8l0.6 1.1M326.6 107.8l1.3 -0.1M335.2 88.9l-1.0 0.8M328.8 81.4l-0.4 -1.2M328.6 92.9l-0.2 1.3M325.9 144.4l1.3 0.2M337.7 119.1l-1.1 -0.8M333.1 122.5l0.1 1.3M323.3 144.3l-1.1 -0.6M334.4 136.9l0.1 1.3M323.2 136.1l-0.5 -1.2M329.6 65.6l0.3 -1.3M322.6 127.6l1.2 -0.5M328.1 86.0l0.4 -1.2M323.8 78.8l0.8 -1.0M326.8 114.1l-1.1 -0.7M333.2 76.3l-0.5 1.2M328.2 142.3l0.8 1.0M333.0 127.2l1.3 -0.2M324.5 67.3l-1.2 -0.6M334.9 114.4l-0.3 -1.3M329.3 136.0l-1.3 0.0M332.4 60.0l-0.8 -1.0M324.1 72.9l1.2 -0.5M326.1 138.0l1.0 -0.8M324.6 113.4l1.3 0.3M323.6 117.9l1.3 0.1M332.8 138.6l0.1 1.3M337.3 115.7l1.3 0.2M326.5 81.4l0.3 1.3M329.3 68.0l-0.8 -1.0M334.0 92.4l1.1 0.7M332.2 87.2l-0.3 1.3M333.8 120.5l1.1 0.7M333.9 139.4l-1.0 -0.9M327.1 79.0l-1.0 0.8M329.4 107.0l1.1 -0.7M324.1 108.8l-0.9 -0.9M331.5 117.1l1.1 -0.7M329.5 57.5l-1.3 -0.2M329.0 63.4l0.6 -1.2M328.7 56.7l-1.1 -0.7M330.5 82.7l-0.7 -1.1M327.4 138.9l0.2 1.3M329.0 103.0l-1.0 0.8M331.4 113.0l0.5 -1.2M327.9 127.5l-0.9 0.9" stroke="#e44646" stroke-width="1.05" stroke-linecap="round" fill="none"/>
<circle cx="298.2" cy="23.2" r="1.9" fill="url(#gor)"/><circle cx="303.8" cy="23.2" r="1.9" fill="url(#gor)"/><circle cx="301" cy="23.2" r="2.2" fill="url(#gdark)"/>
<circle cx="321.5" cy="32.7" r="1.9" fill="url(#gor)"/><circle cx="328.2" cy="32.7" r="1.9" fill="url(#gor)"/><circle cx="324.8" cy="32.7" r="2.2" fill="url(#gdark)"/>
<circle cx="346.5" cy="46.2" r="1.9" fill="url(#gor)"/><circle cx="346.5" cy="52.2" r="1.9" fill="url(#gor)"/><circle cx="347" cy="49.2" r="2.2" fill="url(#gdark)"/>
<circle cx="334.4" cy="81.5" r="1.9" fill="url(#gor)"/><circle cx="335" cy="88.5" r="1.9" fill="url(#gor)"/><circle cx="334.2" cy="85" r="2.2" fill="url(#gdark)"/>
<circle cx="325" cy="86" r="1.9" fill="url(#gor)"/><circle cx="325.5" cy="92.5" r="1.9" fill="url(#gor)"/><circle cx="325.3" cy="89.4" r="2.2" fill="url(#gdark)"/>
<circle cx="324" cy="107" r="1.9" fill="url(#gor)"/><circle cx="330.5" cy="107" r="1.9" fill="url(#gor)"/><circle cx="327.3" cy="107" r="2.2" fill="url(#gdark)"/>
<circle cx="331.5" cy="116" r="1.9" fill="url(#gor)"/><circle cx="335.3" cy="120" r="1.9" fill="url(#gor)"/><circle cx="333.4" cy="118" r="2.2" fill="url(#gdark)"/>
<circle cx="324.5" cy="126" r="1.9" fill="url(#gor)"/><circle cx="326" cy="132.5" r="1.9" fill="url(#gor)"/><circle cx="325.3" cy="129.2" r="2.2" fill="url(#gdark)"/>
<circle cx="331.5" cy="145" r="1.9" fill="url(#gor)"/><circle cx="335" cy="141" r="1.9" fill="url(#gor)"/><circle cx="333.4" cy="143.3" r="2.2" fill="url(#gdark)"/>
<circle cx="287" cy="151" r="1.9" fill="url(#gor)"/><circle cx="293" cy="154.5" r="1.9" fill="url(#gor)"/><circle cx="290" cy="152.7" r="2.2" fill="url(#gdark)"/>
<circle cx="292" cy="156.5" r="1.9" fill="url(#gor)"/><circle cx="298" cy="153.5" r="1.9" fill="url(#gor)"/><circle cx="295" cy="155" r="2.2" fill="url(#gdark)"/>
<circle cx="365.5" cy="159" r="1.9" fill="url(#gor)"/><circle cx="369.8" cy="162" r="1.9" fill="url(#gor)"/><circle cx="367.6" cy="160.4" r="2.2" fill="url(#gdark)"/>
<circle cx="373" cy="164" r="1.9" fill="url(#gor)"/><circle cx="376" cy="169" r="1.9" fill="url(#gor)"/><circle cx="374.6" cy="166.4" r="2.2" fill="url(#gdark)"/>
<circle cx="336" cy="168" r="1.9" fill="url(#gor)"/><circle cx="341" cy="172" r="1.9" fill="url(#gor)"/><circle cx="338.5" cy="170" r="2.2" fill="url(#gdark)"/>
<circle cx="340" cy="170.5" r="1.9" fill="url(#gor)"/><circle cx="346" cy="174.5" r="1.9" fill="url(#gor)"/><circle cx="343" cy="172.5" r="2.2" fill="url(#gdark)"/>
<circle cx="329" cy="174" r="1.9" fill="url(#gor)"/><circle cx="332" cy="177" r="1.9" fill="url(#gor)"/><circle cx="330.4" cy="175.5" r="2.2" fill="url(#gdark)"/>
<g fill="url(#gwall)"><circle cx="279.2" cy="60.6" r="3.95"/><circle cx="285.6" cy="60.6" r="3.95"/><circle cx="292.1" cy="60.6" r="3.95"/><circle cx="298.5" cy="60.6" r="3.95"/><circle cx="304.9" cy="60.6" r="3.95"/><circle cx="311.4" cy="60.6" r="3.95"/><circle cx="317.8" cy="60.6" r="3.95"/><circle cx="342.4" cy="60.6" r="3.95"/><circle cx="348.8" cy="60.6" r="3.95"/><circle cx="355.3" cy="60.6" r="3.95"/><circle cx="361.7" cy="60.6" r="3.95"/><circle cx="368.1" cy="60.6" r="3.95"/><circle cx="374.6" cy="60.6" r="3.95"/><circle cx="381.0" cy="60.6" r="3.95"/><circle cx="279.2" cy="143.0" r="3.95"/><circle cx="285.6" cy="143.0" r="3.95"/><circle cx="292.1" cy="143.0" r="3.95"/><circle cx="298.5" cy="143.0" r="3.95"/><circle cx="304.9" cy="143.0" r="3.95"/><circle cx="311.4" cy="143.0" r="3.95"/><circle cx="317.8" cy="143.0" r="3.95"/><circle cx="342.4" cy="143.0" r="3.95"/><circle cx="348.8" cy="143.0" r="3.95"/><circle cx="355.3" cy="143.0" r="3.95"/><circle cx="361.7" cy="143.0" r="3.95"/><circle cx="368.1" cy="143.0" r="3.95"/><circle cx="374.6" cy="143.0" r="3.95"/><circle cx="381.0" cy="143.0" r="3.95"/><circle cx="317.8" cy="65.8" r="3.95"/><circle cx="317.8" cy="70.9" r="3.95"/><circle cx="317.8" cy="76.0" r="3.95"/><circle cx="317.8" cy="81.2" r="3.95"/><circle cx="317.8" cy="86.3" r="3.95"/><circle cx="317.8" cy="91.5" r="3.95"/><circle cx="317.8" cy="96.7" r="3.95"/><circle cx="317.8" cy="101.8" r="3.95"/><circle cx="317.8" cy="107.0" r="3.95"/><circle cx="317.8" cy="112.1" r="3.95"/><circle cx="317.8" cy="117.2" r="3.95"/><circle cx="317.8" cy="122.4" r="3.95"/><circle cx="317.8" cy="127.6" r="3.95"/><circle cx="317.8" cy="132.7" r="3.95"/><circle cx="317.8" cy="137.8" r="3.95"/><circle cx="342.4" cy="65.8" r="3.95"/><circle cx="342.4" cy="70.9" r="3.95"/><circle cx="342.4" cy="76.0" r="3.95"/><circle cx="342.4" cy="81.2" r="3.95"/><circle cx="342.4" cy="86.3" r="3.95"/><circle cx="342.4" cy="91.5" r="3.95"/><circle cx="342.4" cy="96.7" r="3.95"/><circle cx="342.4" cy="101.8" r="3.95"/><circle cx="342.4" cy="107.0" r="3.95"/><circle cx="342.4" cy="112.1" r="3.95"/><circle cx="342.4" cy="117.2" r="3.95"/><circle cx="342.4" cy="122.4" r="3.95"/><circle cx="342.4" cy="127.6" r="3.95"/><circle cx="342.4" cy="132.7" r="3.95"/><circle cx="342.4" cy="137.8" r="3.95"/></g>
<text x="413.5" y="13.5" font-size="14" fill="#111" stroke="#111" stroke-width="0.35">c</text>
<path d="M515.7 62.4h0M475.1 71.7h0M472.1 60.2h0M559.1 73.1h0M536.9 37.9h0M497.8 75.7h0M506.4 32.3h0M489.0 24.0h0M560.1 43.3h0M505.4 23.3h0M521.8 29.3h0M473.3 68.1h0M505.6 54.6h0M481.2 24.2h0M488.3 43.7h0M552.7 64.6h0M502.8 54.2h0M531.0 66.5h0M537.2 37.5h0M495.3 37.5h0M493.4 71.5h0M501.7 22.4h0M534.8 40.9h0M531.9 77.1h0M553.8 54.9h0M451.9 76.7h0M455.6 52.4h0M454.1 23.9h0M548.7 62.4h0M520.8 31.1h0M478.4 38.5h0M542.7 34.2h0M517.2 73.2h0M461.0 45.0h0M478.6 56.4h0M487.8 80.1h0M488.0 73.8h0M496.4 50.8h0M536.0 65.4h0M525.7 34.1h0M502.1 24.2h0M475.4 48.7h0M552.3 74.1h0M480.5 64.8h0M563.3 62.8h0M549.6 47.9h0M542.4 58.1h0M512.5 48.4h0M517.5 51.5h0M514.1 22.2h0M532.5 31.1h0M462.7 76.1h0M545.3 70.0h0M498.9 29.1h0M493.2 27.5h0M501.2 35.4h0M499.5 76.2h0M558.5 29.3h0M518.7 73.8h0M562.7 53.6h0M536.5 26.7h0M484.6 65.6h0M551.1 27.9h0M548.8 72.7h0M460.4 59.0h0M484.1 71.3h0M494.0 76.0h0M531.9 35.9h0M506.6 55.0h0M497.7 72.3h0M465.1 75.3h0M556.9 39.0h0M528.0 59.3h0M554.6 30.3h0M548.4 66.7h0M536.1 50.0h0M512.3 20.5h0M464.6 62.3h0M553.3 68.1h0M465.7 39.5h0M515.5 49.4h0M545.7 62.2h0M552.7 74.2h0M538.4 69.4h0M559.2 32.4h0M498.9 76.7h0M488.2 41.4h0M460.4 61.7h0M549.8 31.1h0M477.6 29.4h0M546.2 32.7h0M551.8 79.2h0M524.9 78.6h0M550.8 51.0h0M517.4 28.3h0M553.0 78.1h0M461.9 32.8h0M460.9 63.5h0M477.9 19.5h0M563.6 35.0h0M513.4 64.8h0M555.9 20.2h0M462.7 41.5h0M519.7 70.9h0M552.0 76.2h0M529.4 34.4h0M550.9 61.9h0M519.9 36.6h0M481.0 79.0h0M511.8 50.6h0M478.1 35.5h0M467.4 66.4h0M519.8 41.4h0M484.9 55.3h0M488.7 72.4h0M562.2 44.5h0M541.4 44.6h0M564.9 38.5h0M534.0 58.9h0M562.0 29.6h0M479.4 53.6h0M544.3 61.8h0M475.7 53.0h0M542.9 75.5h0M518.9 51.1h0M481.1 54.6h0M490.5 68.3h0M553.4 70.4h0M465.3 76.1h0M453.3 73.5h0M479.2 29.0h0M469.0 45.4h0M524.2 25.9h0M454.7 40.0h0M516.3 36.6h0M471.9 28.4h0M470.5 80.6h0M518.4 23.2h0M543.8 43.8h0M522.5 51.5h0M465.2 53.2h0M490.2 77.6h0M495.1 34.3h0M490.2 27.2h0M454.7 56.6h0M556.1 63.6h0M489.3 23.5h0M472.0 69.2h0M526.3 54.5h0M520.7 41.1h0M501.5 26.6h0M487.1 57.5h0M551.0 32.1h0M510.0 50.5h0M548.3 61.5h0M495.4 22.8h0M554.9 33.2h0M524.4 71.4h0M561.2 63.5h0M511.6 49.3h0M520.2 27.6h0M557.1 25.3h0M556.0 80.2h0M464.8 33.9h0M545.4 21.6h0M544.9 49.1h0M543.8 57.5h0M538.6 35.1h0M523.2 33.6h0M515.9 22.8h0M552.5 71.4h0M485.3 20.4h0M530.2 27.4h0M535.0 34.8h0M538.3 79.1h0M561.6 65.6h0M498.7 54.7h0M465.6 39.0h0M509.7 40.7h0M556.8 38.6h0M532.5 76.3h0M539.5 73.5h0M543.2 62.5h0M450.7 22.1h0M470.5 55.7h0M559.1 57.5h0M488.5 67.6h0M450.2 50.7h0M476.2 39.7h0M498.0 39.3h0M468.6 75.5h0M498.0 38.6h0M519.7 76.0h0M512.9 45.6h0M560.5 39.8h0M490.5 34.9h0M461.8 37.0h0M536.4 54.6h0M553.0 29.1h0M464.6 61.8h0M472.9 78.7h0M560.2 21.2h0M499.2 66.1h0M528.7 25.4h0M490.2 62.1h0M559.9 64.7h0M510.7 69.0h0M470.3 43.1h0M456.6 40.6h0M518.4 63.5h0M522.9 25.7h0M478.3 80.6h0M499.8 51.5h0M552.6 57.9h0M553.5 29.6h0M518.9 51.2h0M508.0 65.5h0M551.2 27.6h0M479.6 28.1h0M466.2 79.2h0M475.9 39.3h0M518.5 24.1h0M562.8 67.6h0M470.7 29.7h0M464.1 49.0h0M515.6 51.6h0M557.6 44.0h0M537.3 44.6h0M487.1 55.7h0M511.3 73.1h0M490.1 40.5h0M517.5 51.4h0M495.6 72.5h0M473.3 37.5h0M464.8 19.9h0M551.4 81.4h0M470.6 74.6h0M560.8 54.5h0M468.1 69.7h0M559.6 59.2h0M540.2 77.3h0M498.7 79.4h0M536.8 48.1h0M530.5 33.6h0M553.4 70.0h0M545.3 42.6h0M456.0 70.6h0M479.9 27.3h0M534.7 30.5h0M536.7 40.7h0M471.9 80.0h0M497.6 78.6h0M534.2 53.2h0M491.1 30.2h0M535.9 26.5h0M545.0 45.2h0M482.1 68.7h0M548.3 67.1h0M451.5 34.4h0M506.2 59.3h0M537.3 26.2h0M563.8 71.6h0M519.1 58.1h0M514.0 38.4h0M486.1 42.9h0M548.8 43.9h0M491.8 50.8h0M495.5 47.1h0M525.9 58.8h0M520.0 35.8h0M496.2 57.0h0M518.6 67.7h0M488.5 42.4h0M478.8 23.4h0M492.9 71.6h0M531.8 79.3h0M533.0 68.2h0M511.1 26.8h0M550.9 56.4h0M530.1 45.3h0M521.0 80.6h0M481.0 40.6h0M526.8 69.8h0M457.4 74.8h0M529.0 51.6h0M487.0 23.2h0M477.7 74.1h0M482.6 65.6h0M483.7 55.9h0M515.4 19.6h0M516.9 61.5h0M486.3 20.5h0M507.6 60.7h0M564.6 39.1h0M463.5 47.3h0M455.9 75.5h0M542.5 74.1h0M473.9 46.8h0M555.0 69.4h0M513.2 26.7h0M552.1 24.0h0M457.2 37.3h0M491.4 37.7h0M457.2 76.3h0M535.1 66.2h0M541.2 37.0h0M521.6 60.5h0M520.8 25.1h0M521.4 42.3h0M544.5 47.9h0M458.0 82.1h0M532.7 68.4h0M458.5 57.9h0M485.6 74.6h0M509.3 25.0h0M522.7 51.7h0M517.0 51.5h0M507.1 82.0h0M509.4 57.4h0M559.8 27.7h0M485.4 36.2h0M530.6 47.3h0M507.8 64.6h0M501.2 30.2h0M519.7 30.1h0M451.3 40.5h0M518.9 65.6h0M513.2 47.2h0M450.8 64.8h0M520.6 22.0h0M467.1 34.1h0M496.7 32.4h0M507.5 66.7h0M487.0 35.1h0M488.2 76.4h0M522.3 66.9h0M487.7 43.6h0M515.2 28.3h0M454.8 47.3h0M464.4 45.8h0M463.1 38.2h0M478.2 77.3h0M465.0 49.4h0M550.6 36.3h0M508.4 72.5h0M491.3 77.3h0M502.0 62.2h0M481.5 82.0h0M459.0 31.8h0M462.1 67.4h0M504.5 51.5h0M511.0 68.5h0M473.1 53.3h0M460.8 24.1h0M496.4 68.3h0M535.3 59.4h0M480.6 39.7h0M500.6 66.0h0M478.5 28.7h0M509.6 74.2h0M472.1 45.0h0M547.0 54.8h0M544.1 58.7h0M525.9 60.6h0M523.1 78.7h0M514.6 57.1h0M517.1 64.6h0M503.7 58.0h0M545.8 81.6h0M485.3 26.5h0M538.4 33.2h0M502.9 80.8h0M537.7 70.6h0M555.7 76.5h0M506.2 68.8h0M484.7 41.8h0M551.3 49.8h0M482.5 64.4h0M483.6 56.0h0M540.7 26.1h0M550.1 76.7h0M508.0 75.9h0M522.0 22.3h0M469.9 49.0h0M502.5 73.8h0M564.3 43.6h0M515.6 45.7h0M486.3 24.2h0M519.0 35.8h0M490.0 74.1h0M487.9 65.2h0M502.8 50.3h0M554.6 23.7h0M519.9 40.0h0M485.8 72.5h0M455.0 52.6h0M539.1 33.5h0M537.3 65.3h0M559.2 20.8h0M464.6 50.0h0M474.3 80.7h0M522.0 71.8h0M521.3 71.8h0M503.2 23.6h0M564.9 80.7h0M484.3 81.8h0M469.5 54.9h0M540.9 57.4h0M487.2 42.3h0M558.9 69.1h0M498.8 57.0h0M554.1 25.2h0M530.5 42.4h0M539.1 23.5h0M502.3 48.1h0M559.4 22.4h0M504.4 43.0h0M531.0 21.6h0M546.8 39.3h0M508.4 56.3h0M528.2 75.3h0M477.1 24.1h0M546.2 75.1h0M470.3 34.0h0M507.3 43.4h0M538.7 69.8h0M562.8 68.1h0M500.9 67.5h0M552.0 77.8h0M543.3 58.3h0M507.4 66.5h0M454.0 21.2h0M494.2 27.3h0M490.3 78.9h0M482.8 25.6h0M507.2 45.5h0M503.9 80.3h0M481.0 35.7h0M481.2 34.3h0M458.1 50.9h0M553.1 78.5h0M494.7 42.1h0M458.1 79.4h0M519.2 41.7h0M498.2 82.2h0M506.1 76.6h0M507.8 22.8h0M494.0 60.3h0M502.4 36.3h0M492.7 69.9h0M557.3 59.2h0M518.0 75.1h0M493.3 34.9h0M503.5 64.8h0M533.3 71.8h0M553.1 63.1h0M528.8 45.0h0M554.7 47.0h0M557.6 38.0h0M477.8 23.2h0M497.2 22.3h0M534.0 39.2h0M537.1 54.3h0M525.3 61.5h0M534.6 49.5h0M551.5 26.3h0M504.3 65.9h0M459.8 65.0h0M483.8 62.5h0M543.1 62.7h0M451.2 26.8h0M488.2 63.1h0M511.2 41.4h0M526.4 67.3h0M516.1 68.8h0M482.5 62.2h0M460.6 52.6h0M463.8 72.4h0M484.1 52.4h0M475.5 49.5h0M453.9 19.7h0M554.2 49.1h0M541.1 67.9h0M556.7 49.0h0M460.7 80.4h0M522.4 49.8h0M466.0 43.0h0M556.3 68.9h0M560.2 23.2h0M541.9 35.5h0M450.2 80.2h0M522.5 72.2h0M463.3 31.0h0M480.5 71.6h0M451.9 73.1h0M551.2 32.7h0M514.6 80.3h0M560.3 60.5h0M479.6 51.7h0M552.8 69.6h0M554.7 21.9h0M490.8 33.0h0M534.9 70.2h0M507.7 19.9h0M479.4 41.2h0M524.3 43.3h0M473.0 43.0h0M544.5 55.0h0M481.6 76.8h0M461.8 45.9h0M552.0 70.8h0M489.6 51.8h0M496.5 43.1h0M458.4 21.3h0M496.0 43.4h0M545.2 22.5h0M486.7 49.1h0M515.4 20.9h0M516.1 38.4h0M460.5 44.9h0M607.3 23.8h0M600.6 48.3h0M575.0 31.6h0M613.1 43.8h0M632.2 28.4h0M587.2 81.0h0M578.8 30.0h0M625.4 67.9h0M585.6 51.6h0M631.2 48.6h0M630.5 39.8h0M604.0 61.0h0M577.7 58.0h0M593.9 55.5h0M599.6 31.0h0M599.2 25.4h0M624.2 32.5h0M618.5 79.4h0M584.3 62.8h0M628.7 61.3h0M617.6 45.6h0M577.7 22.2h0M591.4 75.2h0M629.5 60.5h0M617.4 58.8h0M593.4 40.4h0M573.4 81.0h0M615.3 57.4h0M613.7 48.3h0M605.0 71.8h0M623.6 74.8h0M597.5 19.6h0M596.8 42.1h0M618.0 49.3h0M611.5 80.5h0M583.8 32.1h0M605.7 19.8h0M578.1 52.7h0M581.8 24.6h0M588.1 61.8h0M629.0 27.4h0M630.9 49.1h0M584.8 55.6h0M601.8 76.3h0M608.6 80.3h0M602.4 66.2h0M574.5 81.3h0M592.5 22.9h0M612.6 32.1h0M600.0 60.0h0M623.6 70.4h0M579.6 80.1h0M629.8 73.1h0M604.9 64.3h0M613.1 39.4h0M576.9 22.3h0M595.8 34.8h0M582.3 54.7h0M603.2 42.4h0M633.6 72.3h0M617.5 43.2h0M589.4 36.8h0M604.0 72.6h0M614.0 56.5h0M583.4 59.1h0M606.9 82.5h0M632.6 54.7h0M610.5 67.1h0M586.4 70.0h0M634.3 47.6h0M607.2 30.3h0M598.5 79.9h0M597.2 70.8h0M632.7 34.6h0M591.1 57.9h0M624.7 52.5h0M625.1 57.6h0M624.4 60.7h0M617.4 41.2h0M626.0 25.6h0M585.5 39.2h0M625.2 69.0h0M616.4 51.3h0M625.2 41.4h0M614.8 59.5h0M628.9 44.1h0M611.4 68.7h0M590.7 70.3h0M618.7 67.5h0M579.5 58.2h0M595.7 80.2h0M589.9 69.5h0M611.9 74.0h0M575.0 69.7h0M628.5 53.7h0M613.7 32.0h0M597.2 70.3h0M621.4 49.6h0M608.3 27.3h0M609.0 23.7h0M575.4 64.5h0M613.6 37.8h0M581.6 81.8h0M572.9 25.1h0M588.2 49.4h0M589.5 42.9h0M631.8 71.3h0M584.7 66.9h0M572.0 78.0h0M609.3 61.2h0M596.2 57.6h0M633.5 44.0h0M572.0 39.1h0M588.4 46.8h0M575.6 67.7h0M615.1 22.7h0M592.4 59.5h0M615.8 63.7h0M614.6 51.4h0M620.7 38.5h0M592.7 67.2h0M626.0 46.5h0M587.6 43.9h0M620.8 33.5h0M621.8 74.6h0M634.6 42.5h0M618.5 66.3h0M620.1 52.7h0M627.8 66.1h0M627.6 35.2h0M616.2 79.6h0M616.4 61.2h0M627.8 57.1h0M601.7 55.5h0M624.1 29.5h0M585.3 34.0h0M615.3 19.7h0M621.9 36.0h0M632.0 30.1h0M620.3 70.0h0M598.6 67.2h0M595.7 35.1h0M618.2 29.8h0M613.9 68.5h0M585.7 72.9h0M588.0 69.2h0M608.0 33.0h0M607.0 64.1h0M597.9 56.9h0M613.0 49.6h0M592.9 47.3h0M595.4 79.6h0M574.7 52.3h0M598.3 52.3h0M578.4 74.7h0M592.7 32.0h0M631.6 45.2h0M583.2 34.8h0M619.6 51.4h0M632.7 59.2h0M586.9 58.6h0M572.8 55.8h0M625.0 24.8h0M613.5 54.4h0M597.0 21.7h0M596.1 51.1h0M579.5 78.2h0M613.7 43.1h0M601.1 35.6h0M608.0 70.6h0M669.6 20.1h0M670.3 57.1h0M653.7 25.3h0M657.5 22.8h0M666.3 23.5h0M652.6 37.2h0M651.8 54.4h0M645.4 24.8h0M644.1 69.1h0M663.5 57.2h0M679.2 34.0h0M644.2 59.8h0M655.5 80.9h0M664.7 49.8h0M647.7 46.2h0M658.5 76.7h0M644.2 57.1h0M654.7 52.0h0M666.7 68.0h0M652.3 54.9h0M660.8 73.3h0M643.3 30.9h0M644.4 41.4h0M672.1 20.5h0M669.1 61.3h0M673.7 45.1h0M677.7 66.2h0M645.1 59.4h0M655.0 52.7h0M658.5 71.6h0M671.5 62.0h0M652.1 41.2h0M668.3 49.8h0M673.3 36.7h0M660.6 40.2h0M659.1 78.6h0M678.5 60.1h0M642.2 67.5h0M670.3 42.9h0M669.2 48.3h0M650.1 38.5h0M670.2 55.6h0M648.0 76.5h0M652.3 24.0h0M658.8 24.7h0M648.2 25.2h0M674.4 61.6h0M669.6 36.9h0M660.6 54.9h0M659.7 80.3h0M658.8 69.8h0M645.0 63.3h0M666.6 43.3h0M647.8 66.5h0M662.7 59.6h0M647.0 19.9h0M644.0 26.3h0M661.0 79.6h0M658.4 36.1h0M679.1 46.6h0" stroke="#d6d6d6" stroke-width="1.1" stroke-linecap="round" fill="none"/>
<path d="M454.6 26.6h0M457.6 62.6h0M455.6 26.6h0M456.4 67.2h0M455.7 66.2h0M459.8 28.1h0M458.8 47.7h0M457.8 82.3h0M455.2 20.8h0M462.0 44.9h0M456.1 40.3h0M457.4 79.7h0M456.2 33.2h0M459.2 54.0h0M462.1 72.3h0M457.3 32.3h0M461.2 81.8h0M454.7 65.8h0M461.4 60.5h0M456.2 69.7h0M460.3 31.7h0M459.6 33.3h0M454.8 40.7h0M457.2 44.5h0M459.7 72.2h0M462.2 81.0h0M462.4 69.3h0M457.0 30.6h0M459.5 53.9h0M459.9 25.4h0M456.0 77.5h0M459.3 63.3h0M455.3 44.6h0M461.8 60.4h0M462.4 31.9h0M458.1 69.9h0M458.1 69.2h0M459.0 26.9h0M455.3 81.4h0M455.5 31.7h0M457.2 64.4h0M461.3 49.5h0M458.5 69.2h0M456.7 43.0h0M459.4 59.6h0M454.8 26.6h0M478.2 65.2h0M521.2 80.8h0M527.0 35.5h0M526.8 81.6h0M494.5 20.2h0M496.6 37.3h0M481.1 22.3h0M477.2 74.0h0M471.4 58.2h0M483.5 31.7h0M531.1 38.3h0M481.7 48.2h0M521.4 52.5h0M534.1 44.8h0M508.1 64.7h0M503.3 64.7h0M503.7 27.9h0M477.1 68.8h0M525.2 78.9h0M521.0 56.0h0M480.4 73.2h0M476.7 46.3h0M478.4 43.5h0M491.3 46.3h0M522.6 53.6h0M486.3 68.6h0M524.5 71.6h0M470.1 58.2h0M536.9 35.8h0M483.2 70.8h0M495.7 44.8h0M530.9 43.7h0M482.9 33.0h0M494.3 63.5h0M496.0 68.1h0M472.6 35.2h0M515.9 49.7h0M506.2 78.4h0M489.0 30.9h0M470.1 49.9h0M490.5 49.3h0M467.9 19.5h0M496.9 67.2h0M490.8 77.0h0M512.4 44.9h0M527.7 34.2h0M514.4 72.8h0M509.4 39.6h0M474.9 55.7h0M482.0 43.0h0M509.5 78.8h0M519.7 52.2h0M534.0 38.9h0M497.5 62.2h0M510.5 33.5h0M499.3 71.4h0M486.3 64.0h0M471.2 79.6h0M520.5 39.9h0M543.7 69.7h0M472.3 35.1h0M505.6 82.4h0M478.4 22.5h0M491.7 22.3h0M499.2 53.4h0M501.6 28.4h0M469.3 70.1h0M501.6 49.7h0M504.5 62.7h0M537.3 71.6h0M523.9 40.8h0M480.6 25.2h0M534.1 23.1h0M511.6 76.8h0M492.5 44.0h0M499.9 79.0h0M520.5 72.3h0M470.5 65.5h0M502.4 44.8h0M530.8 65.8h0M538.1 66.0h0M538.0 46.5h0M510.6 68.9h0M502.7 28.1h0M512.9 74.4h0M535.0 27.4h0M497.0 33.9h0M493.9 79.9h0M500.1 39.2h0M488.6 47.2h0M519.4 41.1h0M481.9 33.7h0M487.6 76.6h0M480.6 67.0h0M475.9 69.0h0M488.1 68.6h0M501.0 24.4h0M474.8 69.9h0M509.5 50.1h0M494.8 63.1h0M504.9 23.4h0M514.1 39.3h0M533.1 54.1h0M527.5 27.1h0M522.3 58.0h0M533.4 75.2h0M510.2 56.8h0M526.9 36.1h0M509.7 69.1h0M513.6 53.7h0M533.8 80.9h0M487.6 24.2h0M515.0 28.9h0M542.6 49.4h0M508.9 71.0h0M534.9 28.5h0M502.6 30.9h0M503.2 27.9h0M535.5 41.9h0M497.7 76.0h0M531.3 40.7h0M506.2 61.3h0M482.1 28.1h0M534.0 29.7h0M522.4 66.0h0M513.3 41.3h0M534.0 69.1h0M473.0 76.0h0M516.8 37.7h0M480.6 25.7h0M530.4 72.9h0M494.5 30.8h0M473.2 45.6h0M490.6 22.8h0M490.6 71.2h0M472.5 45.0h0M507.4 29.7h0M470.3 24.2h0M478.6 80.9h0M534.3 63.9h0M537.2 40.0h0M486.8 74.3h0M514.5 77.7h0M495.3 45.5h0M523.1 75.1h0M480.3 36.1h0M468.6 54.8h0M539.1 55.3h0M479.0 63.0h0M517.9 26.1h0M538.4 61.1h0M505.5 41.2h0M479.9 49.0h0M495.8 34.2h0M517.6 61.2h0M541.5 80.5h0M503.6 64.6h0M496.6 46.8h0M511.4 81.3h0M470.8 48.7h0M493.6 70.2h0M541.2 49.2h0M473.7 56.9h0M513.0 62.4h0M527.7 48.7h0M510.1 67.8h0M469.6 34.6h0M520.8 81.1h0M540.6 37.3h0M542.8 37.1h0M502.6 29.5h0M514.2 44.2h0M520.6 79.8h0M477.4 60.9h0M514.1 36.8h0M470.2 78.7h0M521.4 58.9h0M475.4 76.2h0M498.4 48.8h0M510.6 47.6h0M541.4 48.9h0M520.0 68.2h0M539.8 30.2h0M493.8 79.3h0M514.5 43.0h0M535.8 27.0h0M487.1 23.9h0M519.5 50.2h0M491.1 47.2h0M487.1 64.2h0M526.4 43.5h0M534.8 22.3h0M511.3 29.2h0M476.6 54.7h0M474.2 24.2h0M477.9 43.2h0M531.8 37.7h0M477.0 67.9h0M530.8 82.3h0M471.3 29.9h0M501.1 82.0h0M509.3 75.2h0M484.9 49.2h0M520.7 33.8h0M508.0 71.5h0M530.7 63.4h0M531.7 82.2h0M514.4 35.2h0M484.7 23.1h0M538.7 55.5h0M514.2 74.5h0M521.0 44.2h0M512.9 24.7h0M487.1 41.1h0M529.1 61.2h0M514.3 44.4h0M494.8 43.7h0M471.4 42.2h0M538.0 70.9h0M486.8 50.9h0M525.2 32.1h0M495.1 56.4h0M482.1 76.8h0M469.0 75.0h0M519.4 44.5h0M489.8 74.2h0M522.6 32.8h0M492.1 25.4h0M516.2 46.2h0M492.1 63.8h0M487.2 28.4h0M529.2 75.4h0M530.1 54.7h0M523.1 73.9h0M470.5 38.4h0M495.1 65.7h0M493.5 67.6h0M487.4 79.1h0M501.2 56.7h0M516.2 71.3h0M511.2 32.8h0M501.7 54.9h0M473.1 71.7h0M491.3 77.5h0M496.3 79.4h0M523.5 44.3h0M521.9 19.5h0M474.1 56.2h0M491.3 45.1h0M522.1 49.3h0M515.0 66.2h0M532.3 26.2h0M531.7 66.3h0M485.1 24.8h0M482.5 25.1h0M554.1 82.2h0M553.4 36.9h0M550.9 80.8h0M553.9 34.5h0M556.8 45.8h0M557.4 51.7h0M551.5 31.3h0M549.6 70.8h0M552.1 65.4h0M556.2 44.8h0M553.6 65.0h0M554.6 42.4h0M551.1 37.5h0M549.7 59.5h0M554.6 68.2h0M553.0 65.6h0M554.0 73.2h0M553.9 61.9h0M554.3 32.3h0M550.1 71.2h0M555.0 51.7h0M556.8 31.0h0M555.4 51.2h0M550.3 27.6h0M549.7 31.4h0M555.7 49.6h0M549.9 50.6h0M557.3 69.1h0M551.9 50.0h0M552.4 34.1h0M554.8 21.0h0M553.3 77.9h0M555.6 60.8h0M556.2 79.5h0M551.7 79.1h0M556.6 50.6h0M550.6 53.1h0M553.5 82.3h0M551.5 64.7h0M555.6 57.4h0M551.8 76.6h0M551.5 73.6h0M556.6 53.0h0M549.9 36.7h0M550.0 31.2h0M552.3 55.7h0M466.5 22.5h0M466.2 26.4h0M466.1 20.2h0M464.3 77.9h0M466.9 22.8h0M464.4 77.1h0M463.4 48.4h0M463.8 38.2h0M547.2 28.2h0M545.7 80.9h0M548.4 57.1h0M545.6 27.9h0M547.8 58.2h0M545.0 80.2h0M546.7 36.4h0M584.3 77.1h0M582.1 51.7h0M579.9 48.9h0M586.2 78.8h0M582.1 73.7h0M587.0 38.6h0M585.9 37.2h0M586.7 76.2h0M586.8 45.2h0M584.6 63.9h0M583.9 22.7h0M584.5 70.1h0M584.3 76.4h0M586.7 59.8h0M582.2 51.5h0M580.9 33.5h0M586.8 47.3h0M583.0 75.4h0M585.5 22.3h0M582.6 53.0h0M581.3 67.7h0M584.1 73.0h0M580.5 31.3h0M581.8 52.1h0M581.4 51.9h0M582.1 23.4h0M585.7 53.6h0M586.3 52.3h0M585.9 57.9h0M583.2 78.7h0M582.2 81.1h0M583.9 79.3h0M580.2 53.5h0M581.9 71.0h0M586.3 73.7h0M582.4 24.1h0M586.8 32.5h0M585.7 56.8h0M585.0 64.0h0M581.3 43.8h0M582.4 63.8h0M584.6 81.9h0M604.1 41.5h0M592.4 47.4h0M605.7 62.8h0M589.8 31.9h0M606.8 69.0h0M615.4 28.2h0M609.4 47.8h0M605.5 62.6h0M600.4 57.7h0M616.0 20.9h0M604.4 82.5h0M613.5 35.3h0M610.9 77.1h0M600.5 54.1h0M597.3 82.3h0M594.2 63.7h0M616.7 80.9h0M612.8 46.8h0M615.3 73.5h0M600.8 43.1h0M598.2 39.9h0M605.0 45.7h0M615.8 19.6h0M605.9 46.6h0M616.9 82.2h0M609.0 65.4h0M599.6 63.5h0M595.8 70.9h0M605.1 34.1h0M594.9 44.0h0M598.7 61.4h0M602.0 21.6h0M598.1 48.1h0M616.7 77.8h0M606.2 80.3h0M593.2 32.5h0M593.2 35.6h0M596.9 53.5h0M613.8 41.7h0M598.0 49.2h0M615.6 51.4h0M616.5 38.9h0M604.5 59.2h0M609.2 72.2h0M592.3 32.5h0M592.0 68.3h0M602.8 50.6h0M590.0 69.9h0M616.2 20.4h0M616.7 50.0h0M592.3 21.3h0M608.6 70.0h0M600.5 74.2h0M589.1 74.3h0M593.4 31.2h0M598.4 40.3h0M614.2 51.3h0M601.0 70.6h0M601.1 39.1h0M598.7 56.2h0M614.5 77.8h0M589.6 42.6h0M608.5 50.7h0M609.6 78.6h0M590.3 63.4h0M595.7 60.6h0M594.3 28.3h0M612.7 60.8h0M606.9 46.6h0M596.1 23.5h0M615.6 69.5h0M610.1 24.4h0M589.3 48.9h0M591.8 58.1h0M597.6 68.5h0M593.6 50.9h0M600.5 34.2h0M598.3 31.5h0M597.5 47.4h0M600.0 61.1h0M626.1 51.3h0M621.0 51.6h0M620.6 72.5h0M619.6 37.3h0M626.5 56.1h0M622.1 21.7h0M620.8 72.2h0M620.1 63.3h0M620.7 67.2h0M620.4 27.7h0M621.0 79.4h0M619.6 49.6h0M626.3 62.1h0M619.6 61.3h0M621.8 33.5h0M620.5 26.7h0M623.7 67.1h0M626.2 59.7h0M622.8 77.0h0M620.8 77.7h0M626.9 53.5h0M625.1 58.4h0M624.7 62.3h0M624.7 62.2h0M623.1 31.4h0M622.0 40.1h0M624.7 27.9h0M624.7 49.2h0M626.4 46.1h0M625.1 28.6h0M620.6 73.2h0M625.7 34.9h0M622.7 67.6h0M620.1 62.5h0M624.7 79.4h0M627.0 68.3h0M620.4 71.0h0M620.7 37.1h0M625.6 50.6h0M622.7 75.3h0M625.9 38.3h0M625.8 82.0h0M653.1 33.4h0M652.0 54.8h0M650.1 66.3h0M648.9 30.2h0M655.1 40.8h0M649.1 68.8h0M654.0 47.3h0M651.7 20.1h0M648.1 76.4h0M655.1 64.7h0M653.2 45.0h0M650.3 65.4h0M653.9 24.7h0M648.9 23.9h0M653.3 49.9h0M648.6 51.1h0M655.0 67.9h0M653.5 59.8h0M649.5 53.8h0M651.3 78.6h0M648.2 21.0h0M648.2 24.1h0M659.5 59.8h0M664.3 70.4h0M656.9 45.7h0M662.5 40.7h0M659.0 30.4h0M659.8 25.7h0M667.0 65.0h0M666.4 23.3h0M657.2 60.6h0M666.7 44.9h0M669.8 44.5h0M667.5 32.3h0M668.6 28.6h0M674.8 60.6h0M673.7 46.2h0M671.5 42.6h0M671.0 69.3h0M672.6 29.3h0M669.5 60.7h0M671.3 53.4h0M667.8 37.5h0M670.8 76.3h0M674.8 25.0h0M670.7 31.3h0M670.6 57.2h0M673.0 56.4h0M672.2 56.8h0M668.9 31.4h0M671.2 24.1h0M670.3 58.9h0M674.1 80.9h0M671.8 28.5h0" stroke="#e2434b" stroke-width="2.8" stroke-linecap="round" fill="none"/>
<path d="M454.6 26.6h0M457.6 62.6h0M455.6 26.6h0M456.4 67.2h0M455.7 66.2h0M459.8 28.1h0M458.8 47.7h0M457.8 82.3h0M455.2 20.8h0M462.0 44.9h0M456.1 40.3h0M457.4 79.7h0M456.2 33.2h0M459.2 54.0h0M462.1 72.3h0M457.3 32.3h0M461.2 81.8h0M454.7 65.8h0M461.4 60.5h0M456.2 69.7h0M460.3 31.7h0M459.6 33.3h0M454.8 40.7h0M457.2 44.5h0M459.7 72.2h0M462.2 81.0h0M462.4 69.3h0M457.0 30.6h0M459.5 53.9h0M459.9 25.4h0M456.0 77.5h0M459.3 63.3h0M455.3 44.6h0M461.8 60.4h0M462.4 31.9h0M458.1 69.9h0M458.1 69.2h0M459.0 26.9h0M455.3 81.4h0M455.5 31.7h0M457.2 64.4h0M461.3 49.5h0M458.5 69.2h0M456.7 43.0h0M459.4 59.6h0M454.8 26.6h0M478.2 65.2h0M521.2 80.8h0M527.0 35.5h0M526.8 81.6h0M494.5 20.2h0M496.6 37.3h0M481.1 22.3h0M477.2 74.0h0M471.4 58.2h0M483.5 31.7h0M531.1 38.3h0M481.7 48.2h0M521.4 52.5h0M534.1 44.8h0M508.1 64.7h0M503.3 64.7h0M503.7 27.9h0M477.1 68.8h0M525.2 78.9h0M521.0 56.0h0M480.4 73.2h0M476.7 46.3h0M478.4 43.5h0M491.3 46.3h0M522.6 53.6h0M486.3 68.6h0M524.5 71.6h0M470.1 58.2h0M536.9 35.8h0M483.2 70.8h0M495.7 44.8h0M530.9 43.7h0M482.9 33.0h0M494.3 63.5h0M496.0 68.1h0M472.6 35.2h0M515.9 49.7h0M506.2 78.4h0M489.0 30.9h0M470.1 49.9h0M490.5 49.3h0M467.9 19.5h0M496.9 67.2h0M490.8 77.0h0M512.4 44.9h0M527.7 34.2h0M514.4 72.8h0M509.4 39.6h0M474.9 55.7h0M482.0 43.0h0M509.5 78.8h0M519.7 52.2h0M534.0 38.9h0M497.5 62.2h0M510.5 33.5h0M499.3 71.4h0M486.3 64.0h0M471.2 79.6h0M520.5 39.9h0M543.7 69.7h0M472.3 35.1h0M505.6 82.4h0M478.4 22.5h0M491.7 22.3h0M499.2 53.4h0M501.6 28.4h0M469.3 70.1h0M501.6 49.7h0M504.5 62.7h0M537.3 71.6h0M523.9 40.8h0M480.6 25.2h0M534.1 23.1h0M511.6 76.8h0M492.5 44.0h0M499.9 79.0h0M520.5 72.3h0M470.5 65.5h0M502.4 44.8h0M530.8 65.8h0M538.1 66.0h0M538.0 46.5h0M510.6 68.9h0M502.7 28.1h0M512.9 74.4h0M535.0 27.4h0M497.0 33.9h0M493.9 79.9h0M500.1 39.2h0M488.6 47.2h0M519.4 41.1h0M481.9 33.7h0M487.6 76.6h0M480.6 67.0h0M475.9 69.0h0M488.1 68.6h0M501.0 24.4h0M474.8 69.9h0M509.5 50.1h0M494.8 63.1h0M504.9 23.4h0M514.1 39.3h0M533.1 54.1h0M527.5 27.1h0M522.3 58.0h0M533.4 75.2h0M510.2 56.8h0M526.9 36.1h0M509.7 69.1h0M513.6 53.7h0M533.8 80.9h0M487.6 24.2h0M515.0 28.9h0M542.6 49.4h0M508.9 71.0h0M534.9 28.5h0M502.6 30.9h0M503.2 27.9h0M535.5 41.9h0M497.7 76.0h0M531.3 40.7h0M506.2 61.3h0M482.1 28.1h0M534.0 29.7h0M522.4 66.0h0M513.3 41.3h0M534.0 69.1h0M473.0 76.0h0M516.8 37.7h0M480.6 25.7h0M530.4 72.9h0M494.5 30.8h0M473.2 45.6h0M490.6 22.8h0M490.6 71.2h0M472.5 45.0h0M507.4 29.7h0M470.3 24.2h0M478.6 80.9h0M534.3 63.9h0M537.2 40.0h0M486.8 74.3h0M514.5 77.7h0M495.3 45.5h0M523.1 75.1h0M480.3 36.1h0M468.6 54.8h0M539.1 55.3h0M479.0 63.0h0M517.9 26.1h0M538.4 61.1h0M505.5 41.2h0M479.9 49.0h0M495.8 34.2h0M517.6 61.2h0M541.5 80.5h0M503.6 64.6h0M496.6 46.8h0M511.4 81.3h0M470.8 48.7h0M493.6 70.2h0M541.2 49.2h0M473.7 56.9h0M513.0 62.4h0M527.7 48.7h0M510.1 67.8h0M469.6 34.6h0M520.8 81.1h0M540.6 37.3h0M542.8 37.1h0M502.6 29.5h0M514.2 44.2h0M520.6 79.8h0M477.4 60.9h0M514.1 36.8h0M470.2 78.7h0M521.4 58.9h0M475.4 76.2h0M498.4 48.8h0M510.6 47.6h0M541.4 48.9h0M520.0 68.2h0M539.8 30.2h0M493.8 79.3h0M514.5 43.0h0M535.8 27.0h0M487.1 23.9h0M519.5 50.2h0M491.1 47.2h0M487.1 64.2h0M526.4 43.5h0M534.8 22.3h0M511.3 29.2h0M476.6 54.7h0M474.2 24.2h0M477.9 43.2h0M531.8 37.7h0M477.0 67.9h0M530.8 82.3h0M471.3 29.9h0M501.1 82.0h0M509.3 75.2h0M484.9 49.2h0M520.7 33.8h0M508.0 71.5h0M530.7 63.4h0M531.7 82.2h0M514.4 35.2h0M484.7 23.1h0M538.7 55.5h0M514.2 74.5h0M521.0 44.2h0M512.9 24.7h0M487.1 41.1h0M529.1 61.2h0M514.3 44.4h0M494.8 43.7h0M471.4 42.2h0M538.0 70.9h0M486.8 50.9h0M525.2 32.1h0M495.1 56.4h0M482.1 76.8h0M469.0 75.0h0M519.4 44.5h0M489.8 74.2h0M522.6 32.8h0M492.1 25.4h0M516.2 46.2h0M492.1 63.8h0M487.2 28.4h0M529.2 75.4h0M530.1 54.7h0M523.1 73.9h0M470.5 38.4h0M495.1 65.7h0M493.5 67.6h0M487.4 79.1h0M501.2 56.7h0M516.2 71.3h0M511.2 32.8h0M501.7 54.9h0M473.1 71.7h0M491.3 77.5h0M496.3 79.4h0M523.5 44.3h0M521.9 19.5h0M474.1 56.2h0M491.3 45.1h0M522.1 49.3h0M515.0 66.2h0M532.3 26.2h0M531.7 66.3h0M485.1 24.8h0M482.5 25.1h0M554.1 82.2h0M553.4 36.9h0M550.9 80.8h0M553.9 34.5h0M556.8 45.8h0M557.4 51.7h0M551.5 31.3h0M549.6 70.8h0M552.1 65.4h0M556.2 44.8h0M553.6 65.0h0M554.6 42.4h0M551.1 37.5h0M549.7 59.5h0M554.6 68.2h0M553.0 65.6h0M554.0 73.2h0M553.9 61.9h0M554.3 32.3h0M550.1 71.2h0M555.0 51.7h0M556.8 31.0h0M555.4 51.2h0M550.3 27.6h0M549.7 31.4h0M555.7 49.6h0M549.9 50.6h0M557.3 69.1h0M551.9 50.0h0M552.4 34.1h0M554.8 21.0h0M553.3 77.9h0M555.6 60.8h0M556.2 79.5h0M551.7 79.1h0M556.6 50.6h0M550.6 53.1h0M553.5 82.3h0M551.5 64.7h0M555.6 57.4h0M551.8 76.6h0M551.5 73.6h0M556.6 53.0h0M549.9 36.7h0M550.0 31.2h0M552.3 55.7h0M466.5 22.5h0M466.2 26.4h0M466.1 20.2h0M464.3 77.9h0M466.9 22.8h0M464.4 77.1h0M463.4 48.4h0M463.8 38.2h0M547.2 28.2h0M545.7 80.9h0M548.4 57.1h0M545.6 27.9h0M547.8 58.2h0M545.0 80.2h0M546.7 36.4h0M584.3 77.1h0M582.1 51.7h0M579.9 48.9h0M586.2 78.8h0M582.1 73.7h0M587.0 38.6h0M585.9 37.2h0M586.7 76.2h0M586.8 45.2h0M584.6 63.9h0M583.9 22.7h0M584.5 70.1h0M584.3 76.4h0M586.7 59.8h0M582.2 51.5h0M580.9 33.5h0M586.8 47.3h0M583.0 75.4h0M585.5 22.3h0M582.6 53.0h0M581.3 67.7h0M584.1 73.0h0M580.5 31.3h0M581.8 52.1h0M581.4 51.9h0M582.1 23.4h0M585.7 53.6h0M586.3 52.3h0M585.9 57.9h0M583.2 78.7h0M582.2 81.1h0M583.9 79.3h0M580.2 53.5h0M581.9 71.0h0M586.3 73.7h0M582.4 24.1h0M586.8 32.5h0M585.7 56.8h0M585.0 64.0h0M581.3 43.8h0M582.4 63.8h0M584.6 81.9h0M604.1 41.5h0M592.4 47.4h0M605.7 62.8h0M589.8 31.9h0M606.8 69.0h0M615.4 28.2h0M609.4 47.8h0M605.5 62.6h0M600.4 57.7h0M616.0 20.9h0M604.4 82.5h0M613.5 35.3h0M610.9 77.1h0M600.5 54.1h0M597.3 82.3h0M594.2 63.7h0M616.7 80.9h0M612.8 46.8h0M615.3 73.5h0M600.8 43.1h0M598.2 39.9h0M605.0 45.7h0M615.8 19.6h0M605.9 46.6h0M616.9 82.2h0M609.0 65.4h0M599.6 63.5h0M595.8 70.9h0M605.1 34.1h0M594.9 44.0h0M598.7 61.4h0M602.0 21.6h0M598.1 48.1h0M616.7 77.8h0M606.2 80.3h0M593.2 32.5h0M593.2 35.6h0M596.9 53.5h0M613.8 41.7h0M598.0 49.2h0M615.6 51.4h0M616.5 38.9h0M604.5 59.2h0M609.2 72.2h0M592.3 32.5h0M592.0 68.3h0M602.8 50.6h0M590.0 69.9h0M616.2 20.4h0M616.7 50.0h0M592.3 21.3h0M608.6 70.0h0M600.5 74.2h0M589.1 74.3h0M593.4 31.2h0M598.4 40.3h0M614.2 51.3h0M601.0 70.6h0M601.1 39.1h0M598.7 56.2h0M614.5 77.8h0M589.6 42.6h0M608.5 50.7h0M609.6 78.6h0M590.3 63.4h0M595.7 60.6h0M594.3 28.3h0M612.7 60.8h0M606.9 46.6h0M596.1 23.5h0M615.6 69.5h0M610.1 24.4h0M589.3 48.9h0M591.8 58.1h0M597.6 68.5h0M593.6 50.9h0M600.5 34.2h0M598.3 31.5h0M597.5 47.4h0M600.0 61.1h0M626.1 51.3h0M621.0 51.6h0M620.6 72.5h0M619.6 37.3h0M626.5 56.1h0M622.1 21.7h0M620.8 72.2h0M620.1 63.3h0M620.7 67.2h0M620.4 27.7h0M621.0 79.4h0M619.6 49.6h0M626.3 62.1h0M619.6 61.3h0M621.8 33.5h0M620.5 26.7h0M623.7 67.1h0M626.2 59.7h0M622.8 77.0h0M620.8 77.7h0M626.9 53.5h0M625.1 58.4h0M624.7 62.3h0M624.7 62.2h0M623.1 31.4h0M622.0 40.1h0M624.7 27.9h0M624.7 49.2h0M626.4 46.1h0M625.1 28.6h0M620.6 73.2h0M625.7 34.9h0M622.7 67.6h0M620.1 62.5h0M624.7 79.4h0M627.0 68.3h0M620.4 71.0h0M620.7 37.1h0M625.6 50.6h0M622.7 75.3h0M625.9 38.3h0M625.8 82.0h0M653.1 33.4h0M652.0 54.8h0M650.1 66.3h0M648.9 30.2h0M655.1 40.8h0M649.1 68.8h0M654.0 47.3h0M651.7 20.1h0M648.1 76.4h0M655.1 64.7h0M653.2 45.0h0M650.3 65.4h0M653.9 24.7h0M648.9 23.9h0M653.3 49.9h0M648.6 51.1h0M655.0 67.9h0M653.5 59.8h0M649.5 53.8h0M651.3 78.6h0M648.2 21.0h0M648.2 24.1h0M659.5 59.8h0M664.3 70.4h0M656.9 45.7h0M662.5 40.7h0M659.0 30.4h0M659.8 25.7h0M667.0 65.0h0M666.4 23.3h0M657.2 60.6h0M666.7 44.9h0M669.8 44.5h0M667.5 32.3h0M668.6 28.6h0M674.8 60.6h0M673.7 46.2h0M671.5 42.6h0M671.0 69.3h0M672.6 29.3h0M669.5 60.7h0M671.3 53.4h0M667.8 37.5h0M670.8 76.3h0M674.8 25.0h0M670.7 31.3h0M670.6 57.2h0M673.0 56.4h0M672.2 56.8h0M668.9 31.4h0M671.2 24.1h0M670.3 58.9h0M674.1 80.9h0M671.8 28.5h0" stroke="#f47e84" stroke-width="1.0" stroke-linecap="round" fill="none" transform="translate(-0.4,-0.4)"/>
<rect x="443.7" y="18.8" width="3.2" height="64" rx="1.4" fill="#8e8e8e"/>
<path d="M444.7 19.8h1.2M444.7 22.4h1.2M444.7 25.0h1.2M444.7 27.6h1.2M444.7 30.2h1.2M444.7 32.8h1.2M444.7 35.4h1.2M444.7 38.0h1.2M444.7 40.6h1.2M444.7 43.2h1.2M444.7 45.8h1.2M444.7 48.4h1.2M444.7 51.0h1.2M444.7 53.6h1.2M444.7 56.2h1.2M444.7 58.8h1.2M444.7 61.4h1.2M444.7 64.0h1.2M444.7 66.6h1.2M444.7 69.2h1.2M444.7 71.8h1.2M444.7 74.4h1.2M444.7 77.0h1.2M444.7 79.6h1.2M444.7 82.2h1.2" stroke="#c6c6c6" stroke-width="1.2" stroke-linecap="round"/>
<rect x="566.9" y="18.8" width="3.2" height="64" rx="1.4" fill="#8e8e8e"/>
<path d="M567.9 19.8h1.2M567.9 22.4h1.2M567.9 25.0h1.2M567.9 27.6h1.2M567.9 30.2h1.2M567.9 32.8h1.2M567.9 35.4h1.2M567.9 38.0h1.2M567.9 40.6h1.2M567.9 43.2h1.2M567.9 45.8h1.2M567.9 48.4h1.2M567.9 51.0h1.2M567.9 53.6h1.2M567.9 56.2h1.2M567.9 58.8h1.2M567.9 61.4h1.2M567.9 64.0h1.2M567.9 66.6h1.2M567.9 69.2h1.2M567.9 71.8h1.2M567.9 74.4h1.2M567.9 77.0h1.2M567.9 79.6h1.2M567.9 82.2h1.2" stroke="#c6c6c6" stroke-width="1.2" stroke-linecap="round"/>
<rect x="636.6999999999999" y="18.8" width="3.2" height="64" rx="1.4" fill="#8e8e8e"/>
<path d="M637.7 19.8h1.2M637.7 22.4h1.2M637.7 25.0h1.2M637.7 27.6h1.2M637.7 30.2h1.2M637.7 32.8h1.2M637.7 35.4h1.2M637.7 38.0h1.2M637.7 40.6h1.2M637.7 43.2h1.2M637.7 45.8h1.2M637.7 48.4h1.2M637.7 51.0h1.2M637.7 53.6h1.2M637.7 56.2h1.2M637.7 58.8h1.2M637.7 61.4h1.2M637.7 64.0h1.2M637.7 66.6h1.2M637.7 69.2h1.2M637.7 71.8h1.2M637.7 74.4h1.2M637.7 77.0h1.2M637.7 79.6h1.2M637.7 82.2h1.2" stroke="#c6c6c6" stroke-width="1.2" stroke-linecap="round"/>
<rect x="681.3" y="18.8" width="3.2" height="64" rx="1.4" fill="#8e8e8e"/>
<path d="M682.3 19.8h1.2M682.3 22.4h1.2M682.3 25.0h1.2M682.3 27.6h1.2M682.3 30.2h1.2M682.3 32.8h1.2M682.3 35.4h1.2M682.3 38.0h1.2M682.3 40.6h1.2M682.3 43.2h1.2M682.3 45.8h1.2M682.3 48.4h1.2M682.3 51.0h1.2M682.3 53.6h1.2M682.3 56.2h1.2M682.3 58.8h1.2M682.3 61.4h1.2M682.3 64.0h1.2M682.3 66.6h1.2M682.3 69.2h1.2M682.3 71.8h1.2M682.3 74.4h1.2M682.3 77.0h1.2M682.3 79.6h1.2M682.3 82.2h1.2" stroke="#c6c6c6" stroke-width="1.2" stroke-linecap="round"/>
<circle cx="460.8" cy="22.2" r="2.5" fill="url(#gor)"/><circle cx="458.5" cy="28.8" r="2.5" fill="url(#gor)"/><circle cx="460.3" cy="24.2" r="3.1" fill="url(#gdark)"/>
<circle cx="458" cy="66.5" r="2.5" fill="url(#gor)"/><circle cx="459" cy="74" r="2.5" fill="url(#gor)"/><circle cx="461.8" cy="70.3" r="3.1" fill="url(#gdark)"/>
<circle cx="500.7" cy="22.8" r="2.5" fill="url(#gor)"/><circle cx="498.8" cy="30.5" r="2.5" fill="url(#gor)"/><circle cx="496.2" cy="25.4" r="3.1" fill="url(#gdark)"/>
<circle cx="553.2" cy="47.5" r="2.5" fill="url(#gor)"/><circle cx="553.5" cy="55.5" r="2.5" fill="url(#gor)"/><circle cx="556.2" cy="50.8" r="3.1" fill="url(#gdark)"/>
<circle cx="582.2" cy="23.5" r="2.5" fill="url(#gor)"/><circle cx="582.5" cy="33" r="2.5" fill="url(#gor)"/><circle cx="582.7" cy="28" r="3.1" fill="url(#gdark)"/>
<circle cx="583" cy="73" r="2.5" fill="url(#gor)"/><circle cx="583.5" cy="81.5" r="2.5" fill="url(#gor)"/><circle cx="583.7" cy="77.3" r="3.1" fill="url(#gdark)"/>
<circle cx="595.5" cy="52.5" r="2.5" fill="url(#gor)"/><circle cx="602.5" cy="58" r="2.5" fill="url(#gor)"/><circle cx="598.9" cy="54.5" r="3.1" fill="url(#gdark)"/>
<circle cx="626" cy="37.5" r="2.5" fill="url(#gor)"/><circle cx="626" cy="47" r="2.5" fill="url(#gor)"/><circle cx="626.4" cy="42.2" r="3.1" fill="url(#gdark)"/>
<circle cx="650.5" cy="62.5" r="2.5" fill="url(#gor)"/><circle cx="652" cy="74" r="2.5" fill="url(#gor)"/><circle cx="653.9" cy="68.2" r="3.1" fill="url(#gdark)"/>
<circle cx="667" cy="23.5" r="2.5" fill="url(#gor)"/><circle cx="671.2" cy="35" r="2.5" fill="url(#gor)"/><circle cx="669.9" cy="29.9" r="3.1" fill="url(#gdark)"/>
<line x1="440.4" y1="14.5" x2="685" y2="14.5" stroke="#c4c4c4" stroke-width="1" />
<line x1="443.5" y1="14.5" x2="443.5" y2="182.5" stroke="#bdbdbd" stroke-width="1" />
<line x1="443.5" y1="179.5" x2="685" y2="179.5" stroke="#7a7a7a" stroke-width="1" />
<line x1="568.5" y1="14.5" x2="568.5" y2="179.5" stroke="#8a8a8a" stroke-width="1" />
<line x1="638.5" y1="14.5" x2="638.5" y2="179.5" stroke="#8a8a8a" stroke-width="1" />
<line x1="466.5" y1="14.5" x2="466.5" y2="179.5" stroke="#8c8c8c" stroke-width="0.85" stroke-dasharray="3 3.2" stroke-dashoffset="-0.8"/>
<line x1="545.6" y1="14.5" x2="545.6" y2="179.5" stroke="#8c8c8c" stroke-width="0.85" stroke-dasharray="3 3.2" stroke-dashoffset="-0.8"/>
<line x1="592.8" y1="14.5" x2="592.8" y2="179.5" stroke="#8c8c8c" stroke-width="0.85" stroke-dasharray="3 3.2" stroke-dashoffset="-0.8"/>
<line x1="614.8" y1="14.5" x2="614.8" y2="179.5" stroke="#8c8c8c" stroke-width="0.85" stroke-dasharray="3 3.2" stroke-dashoffset="-0.8"/>
<line x1="661.5" y1="14.5" x2="661.5" y2="179.5" stroke="#8c8c8c" stroke-width="0.85" stroke-dasharray="3 3.2" stroke-dashoffset="-0.8"/>
<line x1="441" y1="179.5" x2="443.5" y2="179.5" stroke="#8a8a8a" stroke-width="0.9" />
<text x="438.3" y="181.9" font-size="8.5" text-anchor="end" fill="#1a1a1a" >0</text>
<line x1="441" y1="158.9" x2="443.5" y2="158.9" stroke="#8a8a8a" stroke-width="0.9" />
<text x="438.3" y="161.3" font-size="8.5" text-anchor="end" fill="#1a1a1a" >5</text>
<line x1="441" y1="138.2" x2="443.5" y2="138.2" stroke="#8a8a8a" stroke-width="0.9" />
<text x="438.3" y="140.7" font-size="8.5" text-anchor="end" fill="#1a1a1a" >10</text>
<line x1="441" y1="117.6" x2="443.5" y2="117.6" stroke="#8a8a8a" stroke-width="0.9" />
<text x="438.3" y="120" font-size="8.5" text-anchor="end" fill="#1a1a1a" >15</text>
<line x1="441" y1="97" x2="443.5" y2="97" stroke="#8a8a8a" stroke-width="0.9" />
<text x="438.3" y="99.4" font-size="8.5" text-anchor="end" fill="#1a1a1a" >20</text>
<line x1="441" y1="76.4" x2="443.5" y2="76.4" stroke="#8a8a8a" stroke-width="0.9" />
<text x="438.3" y="78.8" font-size="8.5" text-anchor="end" fill="#1a1a1a" >25</text>
<line x1="441" y1="55.8" x2="443.5" y2="55.8" stroke="#8a8a8a" stroke-width="0.9" />
<text x="438.3" y="58.1" font-size="8.5" text-anchor="end" fill="#1a1a1a" >30</text>
<line x1="441" y1="35.1" x2="443.5" y2="35.1" stroke="#8a8a8a" stroke-width="0.9" />
<text x="438.3" y="37.5" font-size="8.5" text-anchor="end" fill="#1a1a1a" >35</text>
<line x1="441" y1="14.5" x2="443.5" y2="14.5" stroke="#8a8a8a" stroke-width="0.9" />
<text x="438.3" y="16.9" font-size="8.5" text-anchor="end" fill="#1a1a1a" >40</text>
<line x1="442" y1="169.2" x2="443.5" y2="169.2" stroke="#8a8a8a" stroke-width="0.8" />
<line x1="442" y1="148.6" x2="443.5" y2="148.6" stroke="#8a8a8a" stroke-width="0.8" />
<line x1="442" y1="127.9" x2="443.5" y2="127.9" stroke="#8a8a8a" stroke-width="0.8" />
<line x1="442" y1="107.3" x2="443.5" y2="107.3" stroke="#8a8a8a" stroke-width="0.8" />
<line x1="442" y1="86.7" x2="443.5" y2="86.7" stroke="#8a8a8a" stroke-width="0.8" />
<line x1="442" y1="66.1" x2="443.5" y2="66.1" stroke="#8a8a8a" stroke-width="0.8" />
<line x1="442" y1="45.4" x2="443.5" y2="45.4" stroke="#8a8a8a" stroke-width="0.8" />
<line x1="442" y1="24.8" x2="443.5" y2="24.8" stroke="#8a8a8a" stroke-width="0.8" />
<line x1="568.5" y1="165.5" x2="570.3" y2="165.5" stroke="#8a8a8a" stroke-width="0.8" />
<line x1="568.5" y1="151.5" x2="570.3" y2="151.5" stroke="#8a8a8a" stroke-width="0.8" />
<line x1="568.5" y1="124.2" x2="570.3" y2="124.2" stroke="#8a8a8a" stroke-width="0.8" />
<line x1="568.5" y1="95.7" x2="570.3" y2="95.7" stroke="#8a8a8a" stroke-width="0.8" />
<line x1="638.3" y1="165.5" x2="640.1" y2="165.5" stroke="#8a8a8a" stroke-width="0.8" />
<line x1="638.3" y1="151.5" x2="640.1" y2="151.5" stroke="#8a8a8a" stroke-width="0.8" />
<line x1="638.3" y1="124.2" x2="640.1" y2="124.2" stroke="#8a8a8a" stroke-width="0.8" />
<line x1="638.3" y1="95.7" x2="640.1" y2="95.7" stroke="#8a8a8a" stroke-width="0.8" />
<line x1="443.4" y1="179.5" x2="443.4" y2="182" stroke="#8a8a8a" stroke-width="0.9" />
<text x="443.4" y="190.9" font-size="8.0" text-anchor="middle" fill="#1a1a1a" >&#8722;50</text>
<line x1="484.2" y1="179.5" x2="484.2" y2="182" stroke="#8a8a8a" stroke-width="0.9" />
<text x="484.2" y="190.9" font-size="8.0" text-anchor="middle" fill="#1a1a1a" >&#8722;40</text>
<line x1="527.4" y1="179.5" x2="527.4" y2="182" stroke="#8a8a8a" stroke-width="0.9" />
<text x="527.4" y="190.9" font-size="8.0" text-anchor="middle" fill="#1a1a1a" >40</text>
<line x1="568.5" y1="179.5" x2="568.5" y2="182" stroke="#8a8a8a" stroke-width="0.9" />
<line x1="463.8" y1="179.5" x2="463.8" y2="181" stroke="#8a8a8a" stroke-width="0.9" />
<line x1="548" y1="179.5" x2="548" y2="181" stroke="#8a8a8a" stroke-width="0.9" />
<text x="568.6" y="190.9" font-size="8.0" text-anchor="middle" fill="#1a1a1a" >50</text>
<text x="576.6" y="190.9" font-size="8.0" text-anchor="middle" fill="#1a1a1a" >&#8722;6</text>
<line x1="575.6" y1="179.5" x2="575.6" y2="182" stroke="#8a8a8a" stroke-width="0.9" />
<line x1="603.1" y1="179.5" x2="603.1" y2="182" stroke="#8a8a8a" stroke-width="0.9" />
<text x="603.1" y="190.9" font-size="8.0" text-anchor="middle" fill="#1a1a1a" >0</text>
<line x1="630.8" y1="179.5" x2="630.8" y2="182" stroke="#8a8a8a" stroke-width="0.9" />
<text x="630.8" y="190.9" font-size="8.0" text-anchor="middle" fill="#1a1a1a" >6</text>
<line x1="589.3" y1="179.5" x2="589.3" y2="181" stroke="#8a8a8a" stroke-width="0.9" />
<line x1="617" y1="179.5" x2="617" y2="181" stroke="#8a8a8a" stroke-width="0.9" />
<text x="644.6" y="190.9" font-size="8.0" text-anchor="middle" fill="#1a1a1a" >&#8722;6</text>
<line x1="644" y1="179.5" x2="644" y2="182" stroke="#8a8a8a" stroke-width="0.9" />
<line x1="652.8" y1="179.5" x2="652.8" y2="182" stroke="#8a8a8a" stroke-width="0.9" />
<text x="652.8" y="190.9" font-size="8.0" text-anchor="middle" fill="#1a1a1a" >&#8722;3</text>
<line x1="661.5" y1="179.5" x2="661.5" y2="182" stroke="#8a8a8a" stroke-width="0.9" />
<text x="661.5" y="190.9" font-size="8.0" text-anchor="middle" fill="#1a1a1a" >0</text>
<line x1="670.5" y1="179.5" x2="670.5" y2="182" stroke="#8a8a8a" stroke-width="0.9" />
<text x="670.5" y="190.9" font-size="8.0" text-anchor="middle" fill="#1a1a1a" >3</text>
<line x1="680.2" y1="179.5" x2="680.2" y2="182" stroke="#8a8a8a" stroke-width="0.9" />
<text x="680.2" y="190.9" font-size="8.0" text-anchor="middle" fill="#1a1a1a" >6</text>
<path d="M505.6 17.5L507.8 9.3M507.9 17.5L510.1 9.3" stroke="#555" stroke-width="0.7"/>
<path d="M443.5,179.5 L444.0,179.5 L444.5,179.5 L445.0,179.5 L445.5,179.5 L446.0,179.5 L446.5,179.5 L447.0,179.5 L447.5,179.5 L448.0,179.5 L448.5,179.5 L449.0,179.5 L449.5,179.5 L450.0,179.5 L450.5,179.5 L451.0,179.5 L451.5,179.5 L452.0,179.5 L452.5,179.5 L453.0,179.5 L453.5,179.5 L454.0,179.1 L454.5,176.5 L455.0,168.6 L455.5,160.9 L456.0,164.7 L456.5,174.1 L457.0,178.5 L457.5,179.4 L458.0,178.7 L458.5,175.4 L459.0,168.6 L459.5,164.6 L460.0,168.8 L460.5,175.8 L461.0,179.5 L461.5,179.5 L462.0,179.5 L462.5,179.5 L463.0,179.5 L463.5,179.5 L464.0,179.1 L464.5,177.5 L465.0,176.4 L465.5,175.7 L466.0,175.0 L466.5,174.4 L467.0,174.0 L467.5,173.9 L468.0,174.1 L468.5,174.4 L469.0,174.7 L469.5,174.9 L470.0,175.1 L470.5,175.3 L471.0,175.5 L471.5,175.8 L472.0,176.2 L472.5,176.5 L473.0,176.9 L473.5,177.1 L474.0,177.2 L474.5,177.1 L475.0,176.9 L475.5,176.6 L476.0,176.2 L476.5,175.9 L477.0,175.7 L477.5,175.6 L478.0,175.5 L478.5,175.6 L479.0,175.7 L479.5,175.7 L480.0,175.7 L480.5,175.7 L481.0,175.6 L481.5,175.4 L482.0,175.3 L482.5,175.2 L483.0,175.1 L483.5,175.0 L484.0,175.1 L484.5,175.2 L485.0,175.3 L485.5,175.5 L486.0,175.6 L486.5,175.7 L487.0,175.7 L487.5,175.7 L488.0,175.6 L488.5,175.4 L489.0,175.3 L489.5,175.2 L490.0,175.1 L490.5,175.0 L491.0,175.1 L491.5,175.2 L492.0,175.3 L492.5,175.5 L493.0,175.6 L493.5,175.7 L494.0,175.7 L494.5,175.7 L495.0,175.6 L495.5,175.4 L496.0,175.3 L496.5,175.2 L497.0,175.1 L497.5,175.0 L498.0,175.1 L498.5,175.2 L499.0,175.3 L499.5,175.5 L500.0,175.6 L500.5,175.7 L501.0,175.7 L501.5,175.7 L502.0,175.6 L502.5,175.4 L503.0,175.3 L503.5,175.1 L504.0,175.1 L504.5,175.0 L505.0,175.1 L505.5,175.2 L506.0,175.5 L506.5,175.3 L507.0,175.2 L507.5,175.1 L508.0,175.0 L508.5,175.1 L509.0,175.1 L509.5,175.3 L510.0,175.4 L510.5,175.6 L511.0,175.7 L511.5,175.7 L512.0,175.7 L512.5,175.6 L513.0,175.5 L513.5,175.3 L514.0,175.2 L514.5,175.1 L515.0,175.0 L515.5,175.1 L516.0,175.2 L516.5,175.3 L517.0,175.4 L517.5,175.6 L518.0,175.7 L518.5,175.7 L519.0,175.7 L519.5,175.6 L520.0,175.5 L520.5,175.3 L521.0,175.2 L521.5,175.1 L522.0,175.0 L522.5,175.1 L523.0,175.2 L523.5,175.3 L524.0,175.4 L524.5,175.6 L525.0,175.7 L525.5,175.7 L526.0,175.7 L526.5,175.6 L527.0,175.5 L527.5,175.3 L528.0,175.2 L528.5,175.1 L529.0,175.0 L529.5,175.1 L530.0,175.2 L530.5,175.3 L531.0,175.4 L531.5,175.6 L532.0,175.7 L532.5,175.7 L533.0,175.7 L533.5,175.7 L534.0,175.6 L534.5,175.5 L535.0,175.6 L535.5,175.7 L536.0,175.9 L536.5,176.2 L537.0,176.6 L537.5,176.9 L538.0,177.1 L538.5,177.2 L539.0,177.1 L539.5,176.9 L540.0,176.5 L540.5,176.2 L541.0,175.8 L541.5,175.5 L542.0,175.3 L542.5,175.1 L543.0,174.9 L543.5,174.7 L544.0,174.4 L544.5,174.1 L545.0,173.9 L545.5,174.0 L546.0,174.4 L546.5,175.0 L547.0,175.7 L547.5,176.4 L548.0,177.5 L548.5,179.1 L549.0,179.5 L549.5,179.5 L550.0,179.5 L550.5,179.5 L551.0,179.5 L551.5,179.5 L552.0,175.8 L552.5,168.8 L553.0,164.6 L553.5,168.6 L554.0,175.4 L554.5,178.7 L555.0,179.4 L555.5,178.5 L556.0,174.1 L556.5,164.7 L557.0,160.9 L557.5,168.6 L558.0,176.5 L558.5,179.1 L559.0,179.5 L559.5,179.5 L560.0,179.5 L560.5,179.5 L561.0,179.5 L561.5,179.5 L562.0,179.5 L562.5,179.5 L563.0,179.5 L563.5,179.5 L564.0,179.5 L564.5,179.5 L565.0,179.5 L565.5,179.5 L566.0,179.5 L566.5,179.5 L567.0,179.5 L567.5,179.5 L568.0,179.5 L568.5,179.5" fill="none" stroke="#8fbde6" stroke-width="1.1" stroke-linejoin="round" />
<path d="M443.5,179.5 L444.0,179.5 L444.5,179.5 L445.0,179.5 L445.5,179.5 L446.0,179.5 L446.5,179.5 L447.0,179.5 L447.5,179.5 L448.0,179.5 L448.5,179.5 L449.0,179.5 L449.5,179.5 L450.0,179.5 L450.5,179.5 L451.0,179.5 L451.5,179.5 L452.0,179.5 L452.5,179.5 L453.0,179.5 L453.5,179.0 L454.0,176.4 L454.5,168.5 L455.0,156.1 L455.5,149.1 L456.0,155.2 L456.5,166.6 L457.0,173.6 L457.5,175.7 L458.0,176.2 L458.5,176.6 L459.0,177.1 L459.5,177.2 L460.0,177.0 L460.5,176.5 L461.0,175.9 L461.5,175.6 L462.0,175.4 L462.5,175.1 L463.0,174.5 L463.5,173.8 L464.0,173.4 L464.5,173.6 L465.0,174.3 L465.5,175.0 L466.0,175.3 L466.5,175.4 L467.0,175.3 L467.5,175.3 L468.0,175.2 L468.5,175.1 L469.0,175.1 L469.5,175.2 L470.0,175.2 L470.5,175.4 L471.0,175.5 L471.5,175.8 L472.0,176.0 L472.5,176.3 L473.0,176.6 L473.5,176.9 L474.0,177.0 L474.5,177.0 L475.0,176.9 L475.5,176.6 L476.0,176.3 L476.5,176.0 L477.0,175.7 L477.5,175.5 L478.0,175.3 L478.5,175.3 L479.0,175.2 L479.5,175.3 L480.0,175.3 L480.5,175.4 L481.0,175.5 L481.5,175.6 L482.0,175.6 L482.5,175.6 L483.0,175.6 L483.5,175.6 L484.0,175.5 L484.5,175.4 L485.0,175.3 L485.5,175.2 L486.0,175.2 L486.5,175.1 L487.0,175.1 L487.5,175.1 L488.0,175.2 L488.5,175.3 L489.0,175.3 L489.5,175.4 L490.0,175.5 L490.5,175.6 L491.0,175.6 L491.5,175.6 L492.0,175.6 L492.5,175.6 L493.0,175.5 L493.5,175.4 L494.0,175.3 L494.5,175.2 L495.0,175.2 L495.5,175.1 L496.0,175.1 L496.5,175.1 L497.0,175.2 L497.5,175.3 L498.0,175.3 L498.5,175.4 L499.0,175.5 L499.5,175.6 L500.0,175.6 L500.5,175.6 L501.0,175.6 L501.5,175.6 L502.0,175.5 L502.5,175.4 L503.0,175.3 L503.5,175.2 L504.0,175.2 L504.5,175.1 L505.0,175.1 L505.5,175.1 L506.0,175.3 L506.5,175.2 L507.0,175.1 L507.5,175.1 L508.0,175.1 L508.5,175.2 L509.0,175.2 L509.5,175.3 L510.0,175.4 L510.5,175.5 L511.0,175.6 L511.5,175.6 L512.0,175.6 L512.5,175.6 L513.0,175.6 L513.5,175.5 L514.0,175.4 L514.5,175.3 L515.0,175.3 L515.5,175.2 L516.0,175.1 L516.5,175.1 L517.0,175.1 L517.5,175.2 L518.0,175.2 L518.5,175.3 L519.0,175.4 L519.5,175.5 L520.0,175.6 L520.5,175.6 L521.0,175.6 L521.5,175.6 L522.0,175.6 L522.5,175.5 L523.0,175.4 L523.5,175.3 L524.0,175.3 L524.5,175.2 L525.0,175.1 L525.5,175.1 L526.0,175.1 L526.5,175.2 L527.0,175.2 L527.5,175.3 L528.0,175.4 L528.5,175.5 L529.0,175.6 L529.5,175.6 L530.0,175.6 L530.5,175.6 L531.0,175.6 L531.5,175.5 L532.0,175.4 L532.5,175.3 L533.0,175.3 L533.5,175.2 L534.0,175.3 L534.5,175.3 L535.0,175.5 L535.5,175.7 L536.0,176.0 L536.5,176.3 L537.0,176.6 L537.5,176.9 L538.0,177.0 L538.5,177.0 L539.0,176.9 L539.5,176.6 L540.0,176.3 L540.5,176.0 L541.0,175.8 L541.5,175.5 L542.0,175.4 L542.5,175.2 L543.0,175.2 L543.5,175.1 L544.0,175.1 L544.5,175.2 L545.0,175.3 L545.5,175.3 L546.0,175.4 L546.5,175.3 L547.0,175.0 L547.5,174.3 L548.0,173.6 L548.5,173.4 L549.0,173.8 L549.5,174.5 L550.0,175.1 L550.5,175.4 L551.0,175.6 L551.5,175.9 L552.0,176.5 L552.5,177.0 L553.0,177.2 L553.5,177.1 L554.0,176.6 L554.5,176.2 L555.0,175.7 L555.5,173.6 L556.0,166.6 L556.5,155.2 L557.0,149.1 L557.5,156.1 L558.0,168.5 L558.5,176.4 L559.0,179.0 L559.5,179.5 L560.0,179.5 L560.5,179.5 L561.0,179.5 L561.5,179.5 L562.0,179.5 L562.5,179.5 L563.0,179.5 L563.5,179.5 L564.0,179.5 L564.5,179.5 L565.0,179.5 L565.5,179.5 L566.0,179.5 L566.5,179.5 L567.0,179.5 L567.5,179.5 L568.0,179.5 L568.5,179.5" fill="none" stroke="#f26b6b" stroke-width="1.1" stroke-linejoin="round" />
<path d="M568.6,179.5 L569.0,179.5 L569.4,179.5 L569.8,179.5 L570.2,179.5 L570.6,179.5 L571.0,179.5 L571.4,179.5 L571.8,179.5 L572.2,179.5 L572.6,179.5 L573.0,179.5 L573.4,179.5 L573.8,179.5 L574.2,179.5 L574.6,179.5 L575.0,179.5 L575.4,179.5 L575.8,179.5 L576.2,179.5 L576.6,179.5 L577.0,179.5 L577.4,179.5 L577.8,179.5 L578.2,179.5 L578.6,179.5 L579.0,179.5 L579.4,179.5 L579.8,179.5 L580.2,178.4 L580.6,169.4 L581.0,138.5 L581.4,101.5 L581.8,92.3 L582.2,117.3 L582.6,149.4 L583.0,167.0 L583.4,173.4 L583.8,177.0 L584.2,179.2 L584.6,178.5 L585.0,175.3 L585.4,170.7 L585.8,163.4 L586.2,153.4 L586.6,146.6 L587.0,149.2 L587.4,158.8 L587.8,167.7 L588.2,172.3 L588.6,174.0 L589.0,174.8 L589.4,175.6 L589.8,176.7 L590.2,177.9 L590.6,178.8 L591.0,179.0 L591.4,178.6 L591.8,177.7 L592.2,176.7 L592.6,175.9 L593.0,175.4 L593.4,175.1 L593.8,175.0 L594.2,174.8 L594.6,174.3 L595.0,173.3 L595.4,171.8 L595.8,169.8 L596.2,167.7 L596.6,166.3 L597.0,166.0 L597.4,167.0 L597.8,168.9 L598.2,171.1 L598.6,173.0 L599.0,174.3 L599.4,175.1 L599.8,175.5 L600.2,175.6 L600.6,175.7 L601.0,175.7 L601.4,175.8 L601.8,175.8 L602.2,175.8 L602.6,175.8 L603.0,175.8 L603.4,175.8 L603.8,175.8 L604.2,175.8 L604.6,175.8 L605.0,175.8 L605.4,175.7 L605.8,175.7 L606.2,175.6 L606.6,175.3 L607.0,174.8 L607.4,173.7 L607.8,172.1 L608.2,170.0 L608.6,167.9 L609.0,166.4 L609.4,166.0 L609.8,166.9 L610.2,168.7 L610.6,170.8 L611.0,172.6 L611.4,173.9 L611.8,174.6 L612.2,174.9 L612.6,175.0 L613.0,175.2 L613.4,175.6 L613.8,176.2 L614.2,177.2 L614.6,178.2 L615.0,178.9 L615.4,179.0 L615.8,178.4 L616.2,177.3 L616.6,176.1 L617.0,175.2 L617.4,174.4 L617.8,173.3 L618.2,170.5 L618.6,163.7 L619.0,153.6 L619.4,146.6 L619.8,149.0 L620.2,158.5 L620.6,167.5 L621.0,173.2 L621.4,177.1 L621.8,179.2 L622.2,178.4 L622.6,175.3 L623.0,171.0 L623.4,160.2 L623.8,134.5 L624.2,101.7 L624.6,92.2 L625.0,117.0 L625.4,157.9 L625.8,175.3 L626.2,179.5 L626.6,179.5 L627.0,179.5 L627.4,179.5 L627.8,179.5 L628.2,179.5 L628.6,179.5 L629.0,179.5 L629.4,179.5 L629.8,179.5 L630.2,179.5 L630.6,179.5 L631.0,179.5 L631.4,179.5 L631.8,179.5 L632.2,179.5 L632.6,179.5 L633.0,179.5 L633.4,179.5 L633.8,179.5 L634.2,179.5 L634.6,179.5 L635.0,179.5 L635.4,179.5 L635.8,179.5 L636.2,179.5 L636.6,179.5 L637.0,179.5 L637.4,179.5 L637.8,179.5 L638.2,179.5" fill="none" stroke="#8fbde6" stroke-width="1.1" stroke-linejoin="round" />
<path d="M568.6,179.5 L569.0,179.5 L569.4,179.5 L569.8,179.5 L570.2,179.5 L570.6,179.5 L571.0,179.5 L571.4,179.5 L571.8,179.5 L572.2,179.5 L572.6,179.5 L573.0,179.5 L573.4,179.5 L573.8,179.5 L574.2,179.5 L574.6,179.5 L575.0,179.5 L575.4,179.5 L575.8,179.5 L576.2,179.5 L576.6,179.5 L577.0,179.5 L577.4,179.5 L577.8,179.5 L578.2,179.5 L578.6,179.5 L579.0,179.5 L579.4,179.5 L579.8,179.5 L580.2,173.2 L580.6,160.0 L581.0,135.4 L581.4,112.4 L581.8,96.8 L582.2,92.8 L582.6,102.4 L583.0,119.8 L583.4,136.4 L583.8,147.7 L584.2,153.9 L584.6,157.5 L585.0,160.3 L585.4,162.8 L585.8,164.9 L586.2,166.4 L586.6,167.5 L587.0,168.2 L587.4,168.8 L587.8,169.2 L588.2,169.7 L588.6,170.2 L589.0,171.1 L589.4,172.2 L589.8,172.8 L590.2,172.4 L590.6,170.7 L591.0,168.4 L591.4,166.9 L591.8,167.1 L592.2,168.8 L592.6,171.0 L593.0,172.6 L593.4,173.4 L593.8,173.8 L594.2,174.1 L594.6,174.3 L595.0,174.5 L595.4,174.7 L595.8,174.9 L596.2,175.1 L596.6,175.3 L597.0,175.4 L597.4,175.6 L597.8,175.7 L598.2,175.9 L598.6,176.0 L599.0,176.1 L599.4,176.2 L599.8,176.3 L600.2,176.3 L600.6,176.4 L601.0,176.5 L601.4,176.5 L601.8,176.6 L602.2,176.6 L602.6,176.6 L603.0,176.6 L603.4,176.6 L603.8,176.6 L604.2,176.6 L604.6,176.5 L605.0,176.5 L605.4,176.4 L605.8,176.4 L606.2,176.3 L606.6,176.2 L607.0,176.1 L607.4,176.0 L607.8,175.9 L608.2,175.8 L608.6,175.7 L609.0,175.5 L609.4,175.4 L609.8,175.2 L610.2,175.0 L610.6,174.8 L611.0,174.6 L611.4,174.4 L611.8,174.2 L612.2,174.0 L612.6,173.7 L613.0,173.1 L613.4,171.9 L613.8,170.0 L614.2,167.8 L614.6,166.7 L615.0,167.5 L615.4,169.6 L615.8,171.7 L616.2,172.8 L616.6,172.6 L617.0,171.6 L617.4,170.6 L617.8,169.9 L618.2,169.4 L618.6,169.0 L619.0,168.5 L619.4,167.9 L619.8,167.0 L620.2,165.7 L620.6,163.9 L621.0,161.6 L621.4,159.0 L621.8,155.9 L622.2,151.3 L622.6,142.8 L623.0,128.6 L623.4,110.7 L623.8,96.1 L624.2,93.0 L624.6,103.6 L625.0,122.0 L625.4,149.5 L625.8,167.7 L626.2,177.6 L626.6,179.5 L627.0,179.5 L627.4,179.5 L627.8,179.5 L628.2,179.5 L628.6,179.5 L629.0,179.5 L629.4,179.5 L629.8,179.5 L630.2,179.5 L630.6,179.5 L631.0,179.5 L631.4,179.5 L631.8,179.5 L632.2,179.5 L632.6,179.5 L633.0,179.5 L633.4,179.5 L633.8,179.5 L634.2,179.5 L634.6,179.5 L635.0,179.5 L635.4,179.5 L635.8,179.5 L636.2,179.5 L636.6,179.5 L637.0,179.5 L637.4,179.5 L637.8,179.5 L638.2,179.5" fill="none" stroke="#f26b6b" stroke-width="1.1" stroke-linejoin="round" />
<path d="M638.4,179.5 L638.7,179.5 L639.0,179.5 L639.3,179.5 L639.6,179.5 L639.9,179.5 L640.2,179.5 L640.5,179.5 L640.8,179.5 L641.1,179.5 L641.4,179.5 L641.7,179.5 L642.0,179.5 L642.3,179.5 L642.6,179.5 L642.9,179.5 L643.2,179.5 L643.5,179.5 L643.8,179.5 L644.1,179.5 L644.4,179.5 L644.7,179.5 L645.0,179.5 L645.3,179.5 L645.6,179.5 L645.9,179.5 L646.2,179.5 L646.5,179.5 L646.8,179.5 L647.1,179.5 L647.4,179.5 L647.7,179.5 L648.0,179.5 L648.3,179.5 L648.6,179.5 L648.9,179.5 L649.2,179.5 L649.5,179.5 L649.8,179.5 L650.1,179.5 L650.4,179.5 L650.7,179.5 L651.0,179.5 L651.3,179.5 L651.6,179.5 L651.9,179.5 L652.2,179.5 L652.5,179.5 L652.8,179.5 L653.1,179.5 L653.4,178.5 L653.7,171.9 L654.0,152.1 L654.3,126.9 L654.6,113.4 L654.9,127.2 L655.2,152.8 L655.5,169.1 L655.8,174.3 L656.1,174.2 L656.4,171.7 L656.7,167.2 L657.0,161.6 L657.3,157.3 L657.6,156.7 L657.9,160.3 L658.2,166.2 L658.5,171.6 L658.8,175.3 L659.1,177.1 L659.4,178.0 L659.7,178.3 L660.0,178.6 L660.3,179.0 L660.6,179.5 L660.9,179.5 L661.2,179.5 L661.5,179.5 L661.8,179.5 L662.1,179.5 L662.4,179.5 L662.7,179.0 L663.0,178.6 L663.3,178.3 L663.6,178.0 L663.9,177.1 L664.2,175.3 L664.5,171.6 L664.8,166.2 L665.1,160.3 L665.4,156.7 L665.7,157.3 L666.0,161.6 L666.3,167.2 L666.6,171.7 L666.9,174.2 L667.2,174.3 L667.5,169.1 L667.8,152.8 L668.1,127.2 L668.4,113.4 L668.7,126.9 L669.0,152.1 L669.3,171.9 L669.6,178.5 L669.9,179.5 L670.2,179.5 L670.5,179.5 L670.8,179.5 L671.1,179.5 L671.4,179.5 L671.7,179.5 L672.0,179.5 L672.3,179.5 L672.6,179.5 L672.9,179.5 L673.2,179.5 L673.5,179.5 L673.8,179.5 L674.1,179.5 L674.4,179.5 L674.7,179.5 L675.0,179.5 L675.3,179.5 L675.6,179.5 L675.9,179.5 L676.2,179.5 L676.5,179.5 L676.8,179.5 L677.1,179.5 L677.4,179.5 L677.7,179.5 L678.0,179.5 L678.3,179.5 L678.6,179.5 L678.9,179.5 L679.2,179.5 L679.5,179.5 L679.8,179.5 L680.1,179.5 L680.4,179.5 L680.7,179.5 L681.0,179.5 L681.3,179.5 L681.6,179.5 L681.9,179.5 L682.2,179.5 L682.5,179.5 L682.8,179.5 L683.1,179.5 L683.4,179.5 L683.7,179.5 L684.0,179.5 L684.3,179.5 L684.6,179.5 L684.9,179.5" fill="none" stroke="#8fbde6" stroke-width="1.1" stroke-linejoin="round" />
<path d="M638.4,179.5 L638.7,179.5 L639.0,179.5 L639.3,179.5 L639.6,179.5 L639.9,179.5 L640.2,179.5 L640.5,179.5 L640.8,179.5 L641.1,179.5 L641.4,179.5 L641.7,179.5 L642.0,179.5 L642.3,179.5 L642.6,179.5 L642.9,179.5 L643.2,179.5 L643.5,179.5 L643.8,179.5 L644.1,179.5 L644.4,179.5 L644.7,179.5 L645.0,179.5 L645.3,179.5 L645.6,179.5 L645.9,179.5 L646.2,179.5 L646.5,179.5 L646.8,179.5 L647.1,179.5 L647.4,179.5 L647.7,179.5 L648.0,179.5 L648.3,179.5 L648.6,179.5 L648.9,179.5 L649.2,179.5 L649.5,179.5 L649.8,179.5 L650.1,179.5 L650.4,179.5 L650.7,179.5 L651.0,179.5 L651.3,179.5 L651.6,179.5 L651.9,179.5 L652.2,179.5 L652.5,179.5 L652.8,179.5 L653.1,178.6 L653.4,177.0 L653.7,173.2 L654.0,162.4 L654.3,144.1 L654.6,125.3 L654.9,116.8 L655.2,125.3 L655.5,144.1 L655.8,160.9 L656.1,170.2 L656.4,173.7 L656.7,174.7 L657.0,175.0 L657.3,175.2 L657.6,175.3 L657.9,175.4 L658.2,175.3 L658.5,175.2 L658.8,175.0 L659.1,174.8 L659.4,174.7 L659.7,174.5 L660.0,174.2 L660.3,173.5 L660.6,172.3 L660.9,170.6 L661.2,169.0 L661.5,168.4 L661.8,169.0 L662.1,170.6 L662.4,172.3 L662.7,173.5 L663.0,174.2 L663.3,174.5 L663.6,174.7 L663.9,174.8 L664.2,175.0 L664.5,175.2 L664.8,175.3 L665.1,175.4 L665.4,175.3 L665.7,175.2 L666.0,175.0 L666.3,174.7 L666.6,173.7 L666.9,170.2 L667.2,160.9 L667.5,144.1 L667.8,125.3 L668.1,116.8 L668.4,125.3 L668.7,144.1 L669.0,162.4 L669.3,173.2 L669.6,177.0 L669.9,178.6 L670.2,179.5 L670.5,179.5 L670.8,179.5 L671.1,179.5 L671.4,179.5 L671.7,179.5 L672.0,179.5 L672.3,179.5 L672.6,179.5 L672.9,179.5 L673.2,179.5 L673.5,179.5 L673.8,179.5 L674.1,179.5 L674.4,179.5 L674.7,179.5 L675.0,179.5 L675.3,179.5 L675.6,179.5 L675.9,179.5 L676.2,179.5 L676.5,179.5 L676.8,179.5 L677.1,179.5 L677.4,179.5 L677.7,179.5 L678.0,179.5 L678.3,179.5 L678.6,179.5 L678.9,179.5 L679.2,179.5 L679.5,179.5 L679.8,179.5 L680.1,179.5 L680.4,179.5 L680.7,179.5 L681.0,179.5 L681.3,179.5 L681.6,179.5 L681.9,179.5 L682.2,179.5 L682.5,179.5 L682.8,179.5 L683.1,179.5 L683.4,179.5 L683.7,179.5 L684.0,179.5 L684.3,179.5 L684.6,179.5 L684.9,179.5" fill="none" stroke="#f26b6b" stroke-width="1.1" stroke-linejoin="round" />
<path d="M503.4 182.2L505.3 176M505.9 182.2L507.8 176" stroke="#555" stroke-width="0.75"/>
<text x="504.5" y="7.9" font-size="8.7" text-anchor="middle" fill="#1a1a1a" >10&#8201;nm</text>
<text x="600.5" y="7.9" font-size="8.7" text-anchor="middle" fill="#1a1a1a" >1.5&#8201;nm</text>
<text x="652.8" y="7.9" font-size="8.7" text-anchor="middle" fill="#1a1a1a" >1.0&#8201;nm</text>
<line x1="444.2" y1="2.6" x2="459.4" y2="2.6" stroke="#8fbde6" stroke-width="1.2" />
<line x1="444.2" y1="10.6" x2="459.4" y2="10.6" stroke="#f26b6b" stroke-width="1.2" />
<text x="460.8" y="5.4" font-size="7.6" text-anchor="start" fill="#1a1a1a" >O</text>
<text x="460.8" y="13.4" font-size="7.6" text-anchor="start" fill="#1a1a1a" >C</text>
<text x="452.4" y="150.8" font-size="6.6" text-anchor="middle" fill="#1a1a1a" >IF</text>
<text x="561.6" y="151.3" font-size="6.6" text-anchor="middle" fill="#1a1a1a" >IF</text>
<text x="579.3" y="95.3" font-size="6.6" text-anchor="middle" fill="#1a1a1a" >IF</text>
<text x="629.2" y="95.3" font-size="6.6" text-anchor="middle" fill="#1a1a1a" >IF</text>
<text x="652" y="115.8" font-size="6.6" text-anchor="middle" fill="#1a1a1a" >IF</text>
<text x="671.8" y="115.8" font-size="6.6" text-anchor="middle" fill="#1a1a1a" >IF</text>
<text x="570.7" y="205.4" font-size="9.6" text-anchor="middle" fill="#1a1a1a"><tspan font-style="italic">z</tspan> (&#197;)</text>
<text transform="translate(422.8,98) rotate(-90)" font-size="9.7" text-anchor="middle" fill="#1a1a1a">Relative local density</text>
<clipPath id="cpd"><rect x="36.5" y="233.5" width="188" height="158"/></clipPath>
<path d="M36.8,342.1 L38.7,339.2 L40.5,340.1 L42.4,339.0 L44.3,337.5 L46.1,328.5 L48.0,339.2 L49.9,340.9 L51.8,339.9 L53.6,341.4 L55.5,338.0 L57.4,335.5 L59.2,343.5 L61.1,340.4 L63.0,335.6 L64.8,339.8 L66.7,339.5 L68.6,334.7 L70.5,340.9 L72.3,334.5 L74.2,341.7 L76.1,341.4 L77.9,336.1 L79.8,340.4 L81.7,340.5 L83.6,335.3 L85.4,340.0 L87.3,335.3 L89.2,342.1 L91.0,346.5 L92.9,346.5 L94.8,334.7 L96.6,336.9 L98.5,339.5 L100.4,339.4 L102.3,335.8 L104.1,341.8 L106.0,341.5 L107.9,336.8 L109.7,335.5 L111.6,339.9 L113.5,337.7 L115.3,339.9 L117.2,342.5 L119.1,337.6 L121.0,334.4 L122.8,335.4 L124.7,338.1 L126.6,340.5 L128.4,337.9 L130.3,340.6 L132.2,338.8 L134.0,341.8 L135.9,339.8 L137.8,337.0 L139.7,335.4 L141.5,334.8 L143.4,334.5 L145.3,326.5 L147.1,341.7 L149.0,340.7 L150.9,335.1 L152.7,339.9 L154.6,335.3 L156.5,341.8 L158.4,339.8 L160.2,340.6 L162.1,339.4 L164.0,337.8 L165.8,341.5 L167.7,342.5 L169.6,336.3 L171.4,338.0 L173.3,340.5 L175.2,340.0 L177.1,337.7 L178.9,338.1 L180.8,342.5 L182.7,336.6 L184.5,336.0 L186.4,340.1 L188.3,336.6 L190.1,341.9 L192.0,337.0 L193.9,342.2 L195.8,337.5 L197.6,341.8 L199.5,340.7 L201.4,340.5 L203.2,336.0 L205.1,331.5 L207.0,334.5 L208.8,335.8 L210.7,339.9 L212.6,346.5 L214.5,336.2 L216.3,339.1 L218.2,335.5 L220.1,337.0 L221.9,336.2" fill="none" stroke="#bdbdbd" stroke-width="1.1" stroke-linejoin="round" clip-path="url(#cpd)"/>
<path d="M36.0,314.9 L38.0,328.6 L39.7,311.2 L42.2,317.4 L43.5,324.9 L45.5,319.4 L47.2,327.3 L49.7,337.3 L52.2,347.3 L54.0,350.5 L55.9,354.7 L58.4,356.5 L60.9,361.0 L63.4,364.7 L65.9,370.9 L68.4,362.2 L70.1,367.2 L72.1,358.5 L73.8,369.7 L75.8,373.4 L77.5,371.5 L79.6,373.4 L82.1,375.9 L84.6,364.7 L86.5,367.8 L88.3,368.4 L90.2,367.9 L92.0,369.7 L94.5,362.2 L96.5,361.2 L98.4,358.6 L100.6,354.0 L101.8,357.4 L104.0,345.0 L106.3,346.2 L108.5,333.8 L110.8,322.5 L112.6,316.9 L114.2,309.7 L115.5,304.1 L117.4,304.1 L118.7,280.4 L120.6,279.4 L122.5,251.0 L124.8,273.7 L126.3,247.2 L128.2,248.1 L130.5,239.6 L132.4,244.3 L133.9,268.0 L135.8,279.0 L137.7,290.8 L139.6,288.0 L141.5,294.5 L143.4,300.3 L145.9,311.7 L147.5,315.5 L149.0,322.5 L151.3,338.3 L153.6,350.7 L155.8,351.8 L158.0,359.7 L160.3,352.9 L162.0,353.5 L163.7,368.5 L165.5,368.6 L167.5,369.2 L169.5,370.0 L171.2,371.0 L173.7,373.4 L175.5,371.0 L177.4,369.2 L179.3,371.5 L181.2,373.4 L183.1,372.3 L184.9,374.2 L186.9,371.0 L188.6,374.2 L191.1,366.0 L193.6,363.5 L196.1,358.5 L198.6,356.8 L199.9,352.3 L201.8,362.2 L204.3,347.3 L207.3,337.3 L209.2,331.5 L211.1,326.1 L213.5,323.6 L216.0,317.4 L218.5,323.6 L220.3,314.9 L222.8,327.4 L224.0,322.0" fill="none" stroke="#f37070" stroke-width="1.2" stroke-linejoin="round" clip-path="url(#cpd)"/>
<rect x="36.5" y="233.5" width="188.0" height="158.0" fill="none" stroke="#4e4e4e" stroke-width="1"/>
<line x1="33.5" y1="391.5" x2="36.5" y2="391.5" stroke="#4e4e4e" stroke-width="0.9" />
<text x="31.5" y="393.9" font-size="9.4" text-anchor="end" fill="#1a1a1a" >0.0</text>
<line x1="34.9" y1="375.7" x2="36.5" y2="375.7" stroke="#4e4e4e" stroke-width="0.8" />
<line x1="33.5" y1="359.9" x2="36.5" y2="359.9" stroke="#4e4e4e" stroke-width="0.9" />
<text x="31.5" y="362.3" font-size="9.4" text-anchor="end" fill="#1a1a1a" >0.3</text>
<line x1="34.9" y1="344.1" x2="36.5" y2="344.1" stroke="#4e4e4e" stroke-width="0.8" />
<line x1="33.5" y1="328.3" x2="36.5" y2="328.3" stroke="#4e4e4e" stroke-width="0.9" />
<text x="31.5" y="330.7" font-size="9.4" text-anchor="end" fill="#1a1a1a" >0.6</text>
<line x1="34.9" y1="312.5" x2="36.5" y2="312.5" stroke="#4e4e4e" stroke-width="0.8" />
<line x1="33.5" y1="296.7" x2="36.5" y2="296.7" stroke="#4e4e4e" stroke-width="0.9" />
<text x="31.5" y="299.1" font-size="9.4" text-anchor="end" fill="#1a1a1a" >0.9</text>
<line x1="34.9" y1="280.9" x2="36.5" y2="280.9" stroke="#4e4e4e" stroke-width="0.8" />
<line x1="33.5" y1="265.1" x2="36.5" y2="265.1" stroke="#4e4e4e" stroke-width="0.9" />
<text x="31.5" y="267.5" font-size="9.4" text-anchor="end" fill="#1a1a1a" >1.2</text>
<line x1="34.9" y1="249.3" x2="36.5" y2="249.3" stroke="#4e4e4e" stroke-width="0.8" />
<line x1="33.5" y1="233.5" x2="36.5" y2="233.5" stroke="#4e4e4e" stroke-width="0.9" />
<text x="31.5" y="235.9" font-size="9.4" text-anchor="end" fill="#1a1a1a" >1.5</text>
<line x1="36.5" y1="391.5" x2="36.5" y2="393" stroke="#4e4e4e" stroke-width="0.8" />
<line x1="55.3" y1="391.5" x2="55.3" y2="394.3" stroke="#4e4e4e" stroke-width="0.9" />
<text x="55.3" y="404" font-size="9.2" text-anchor="middle" fill="#1a1a1a" >&#8722;0.8</text>
<line x1="74.1" y1="391.5" x2="74.1" y2="393" stroke="#4e4e4e" stroke-width="0.8" />
<line x1="92.9" y1="391.5" x2="92.9" y2="394.3" stroke="#4e4e4e" stroke-width="0.9" />
<text x="92.9" y="404" font-size="9.2" text-anchor="middle" fill="#1a1a1a" >&#8722;0.4</text>
<line x1="111.7" y1="391.5" x2="111.7" y2="393" stroke="#4e4e4e" stroke-width="0.8" />
<line x1="130.5" y1="391.5" x2="130.5" y2="394.3" stroke="#4e4e4e" stroke-width="0.9" />
<text x="130.5" y="404" font-size="9.2" text-anchor="middle" fill="#1a1a1a" >0.0</text>
<line x1="149.3" y1="391.5" x2="149.3" y2="393" stroke="#4e4e4e" stroke-width="0.8" />
<line x1="168.1" y1="391.5" x2="168.1" y2="394.3" stroke="#4e4e4e" stroke-width="0.9" />
<text x="168.1" y="404" font-size="9.2" text-anchor="middle" fill="#1a1a1a" >0.4</text>
<line x1="186.9" y1="391.5" x2="186.9" y2="393" stroke="#4e4e4e" stroke-width="0.8" />
<line x1="205.7" y1="391.5" x2="205.7" y2="394.3" stroke="#4e4e4e" stroke-width="0.9" />
<text x="205.7" y="404" font-size="9.2" text-anchor="middle" fill="#1a1a1a" >0.8</text>
<line x1="224.5" y1="391.5" x2="224.5" y2="393" stroke="#4e4e4e" stroke-width="0.8" />
<text x="130.4" y="418.9" font-size="9.9" text-anchor="middle" fill="#1a1a1a">Cos (<tspan font-style="italic">&#952;</tspan>)</text>
<text transform="translate(15.2,311.8) rotate(-90)" font-size="10" text-anchor="middle" fill="#1a1a1a"><tspan font-style="italic">P</tspan> (Cos (<tspan font-style="italic">&#952;</tspan>))</text>
<line x1="163.8" y1="240.3" x2="182.8" y2="240.3" stroke="#f36a6a" stroke-width="1.2" />
<line x1="163.8" y1="250.2" x2="182.8" y2="250.2" stroke="#bdbdbd" stroke-width="1.2" />
<text x="185.2" y="243.2" font-size="8.2" text-anchor="start" fill="#1a1a1a" >interfacial</text>
<text x="185.2" y="253.2" font-size="8.2" text-anchor="start" fill="#1a1a1a" >core</text>
<text x="5" y="226.6" font-size="14" fill="#111" stroke="#111" stroke-width="0.35">d</text>
<ellipse cx="367.5" cy="309.5" rx="87" ry="37" transform="rotate(-36 367.5 309.5)" fill="#fcf4f2"/>
<ellipse cx="374" cy="358.2" rx="67" ry="9.2" transform="rotate(-17 374 358.2)" fill="#eef3f9"/>
<line x1="263.5" y1="392" x2="438.8" y2="339.7" stroke="#111" stroke-width="1.3" stroke-dasharray="6 3.6"/>
<path d="M321.4,373.6 L335.6,369.0 L398.5,349.4 L410.9,345.2" fill="none" stroke="#bdbdbd" stroke-width="1.1" stroke-linejoin="round" stroke-dasharray="5 3"/>
<path d="M309.7,362.9 L357.7,334.2 L405.6,302.6" fill="none" stroke="#9cc3e6" stroke-width="1.3" stroke-linejoin="round" stroke-dasharray="6 3.6"/>
<path d="M316.8,353.0 L336.3,326.3 L388.9,266.0" fill="none" stroke="#f56d6d" stroke-width="1.3" stroke-linejoin="round" stroke-dasharray="6 3.6"/>
<circle cx="321.4" cy="373.6" r="2.6" fill="#b8b8b8"/>
<circle cx="335.6" cy="369" r="2.6" fill="#b8b8b8"/>
<circle cx="398.5" cy="349.4" r="2.6" fill="#b8b8b8"/>
<circle cx="410.9" cy="345.2" r="2.6" fill="#b8b8b8"/>
<rect x="306.8" y="360.0" width="5.8" height="5.8" fill="#9cc3e6"/>
<rect x="354.8" y="331.3" width="5.8" height="5.8" fill="#9cc3e6"/>
<rect x="402.70000000000005" y="299.70000000000005" width="5.8" height="5.8" fill="#9cc3e6"/>
<path d="M313.2 350.4h7.2l-3.6 6.2z" fill="#f56d6d"/>
<path d="M332.7 323.7h7.2l-3.6 6.2z" fill="#f56d6d"/>
<path d="M385.3 263.4h7.2l-3.6 6.2z" fill="#f56d6d"/>
<rect x="263.5" y="233.5" width="186.0" height="158.5" fill="none" stroke="#4e4e4e" stroke-width="1"/>
<line x1="260.7" y1="392" x2="263.5" y2="392" stroke="#4e4e4e" stroke-width="0.9" />
<text x="258.3" y="395" font-size="8.5" text-anchor="end" fill="#1a1a1a" >0</text>
<line x1="262" y1="376.1" x2="263.5" y2="376.1" stroke="#4e4e4e" stroke-width="0.8" />
<line x1="260.7" y1="360.3" x2="263.5" y2="360.3" stroke="#4e4e4e" stroke-width="0.9" />
<text x="258.3" y="363.3" font-size="8.5" text-anchor="end" fill="#1a1a1a" >1</text>
<line x1="262" y1="344.4" x2="263.5" y2="344.4" stroke="#4e4e4e" stroke-width="0.8" />
<line x1="260.7" y1="328.6" x2="263.5" y2="328.6" stroke="#4e4e4e" stroke-width="0.9" />
<text x="258.3" y="331.6" font-size="8.5" text-anchor="end" fill="#1a1a1a" >2</text>
<line x1="262" y1="312.8" x2="263.5" y2="312.8" stroke="#4e4e4e" stroke-width="0.8" />
<line x1="260.7" y1="296.9" x2="263.5" y2="296.9" stroke="#4e4e4e" stroke-width="0.9" />
<text x="258.3" y="299.9" font-size="8.5" text-anchor="end" fill="#1a1a1a" >3</text>
<line x1="262" y1="281.1" x2="263.5" y2="281.1" stroke="#4e4e4e" stroke-width="0.8" />
<line x1="260.7" y1="265.2" x2="263.5" y2="265.2" stroke="#4e4e4e" stroke-width="0.9" />
<text x="258.3" y="268.2" font-size="8.5" text-anchor="end" fill="#1a1a1a" >4</text>
<line x1="262" y1="249.3" x2="263.5" y2="249.3" stroke="#4e4e4e" stroke-width="0.8" />
<line x1="260.7" y1="233.5" x2="263.5" y2="233.5" stroke="#4e4e4e" stroke-width="0.9" />
<text x="258.3" y="236.5" font-size="8.5" text-anchor="end" fill="#1a1a1a" >5</text>
<line x1="263.5" y1="392" x2="263.5" y2="394.8" stroke="#4e4e4e" stroke-width="0.9" />
<text x="263.5" y="403.4" font-size="8.5" text-anchor="middle" fill="#1a1a1a" >0.0</text>
<line x1="284.8" y1="392" x2="284.8" y2="393.5" stroke="#4e4e4e" stroke-width="0.8" />
<line x1="306" y1="392" x2="306" y2="394.8" stroke="#4e4e4e" stroke-width="0.9" />
<text x="306" y="403.4" font-size="8.5" text-anchor="middle" fill="#1a1a1a" >0.4</text>
<line x1="327.2" y1="392" x2="327.2" y2="393.5" stroke="#4e4e4e" stroke-width="0.8" />
<line x1="348.5" y1="392" x2="348.5" y2="394.8" stroke="#4e4e4e" stroke-width="0.9" />
<text x="348.5" y="403.4" font-size="8.5" text-anchor="middle" fill="#1a1a1a" >0.8</text>
<line x1="369.8" y1="392" x2="369.8" y2="393.5" stroke="#4e4e4e" stroke-width="0.8" />
<line x1="391" y1="392" x2="391" y2="394.8" stroke="#4e4e4e" stroke-width="0.9" />
<text x="391" y="403.4" font-size="8.5" text-anchor="middle" fill="#1a1a1a" >1.2</text>
<line x1="412.2" y1="392" x2="412.2" y2="393.5" stroke="#4e4e4e" stroke-width="0.8" />
<line x1="433.5" y1="392" x2="433.5" y2="394.8" stroke="#4e4e4e" stroke-width="0.9" />
<text x="433.5" y="403.4" font-size="8.5" text-anchor="middle" fill="#1a1a1a" >1.6</text>
<text x="286.3" y="419.3" font-size="9.75" fill="#1a1a1a">Reservior concentration (mol L<tspan font-size="6.4" dy="-3.6">-1</tspan><tspan dy="3.6">)</tspan></text>
<text transform="translate(250.2,310.4) rotate(-90)" font-size="9.6" text-anchor="middle" fill="#1a1a1a">In-pore concentration (mol L<tspan font-size="6.4" dy="-3.6">-1</tspan><tspan dy="3.6">)</tspan></text>
<circle cx="274.6" cy="239.4" r="2.7" fill="#b8b8b8"/>
<rect x="271.9" y="246.8" width="5.2" height="5.2" fill="#9cc3e6"/>
<path d="M271.4 257.5h6.6l-3.3 5.6z" fill="#f56d6d"/>
<text x="286" y="242.6" font-size="8.3" text-anchor="start" fill="#1a1a1a" >10 nm</text>
<text x="310.9" y="242.6" font-size="8.3" text-anchor="start" fill="#8a8a8a" style="stroke:#8a8a8a" >(Meso)</text>
<text x="286" y="252.9" font-size="8.3" text-anchor="start" fill="#1a1a1a" >1.5 nm</text>
<text x="286" y="263.4" font-size="8.3" text-anchor="start" fill="#1a1a1a" >1.0 nm</text>
<path d="M312.8 249.9H327.3M312.8 261H327.3V258.3" stroke="#8a8a8a" stroke-width="0.8" fill="none"/>
<text x="321.4" y="258.6" font-size="8.3" text-anchor="start" fill="#8a8a8a" style="stroke:#8a8a8a" >(Micro)</text>
<text x="240.5" y="225.8" font-size="14" fill="#111" stroke="#111" stroke-width="0.35">e</text>
<path d="M487.3,236.5 L496.7,257.3 L506.1,273.6 L515.5,287.4 L524.9,299.3 L534.3,309.7 L543.7,318.9 L553.1,327.1 L562.5,334.3 L571.9,340.6 L581.3,346.3 L590.7,351.2 L600.1,355.7 L609.5,359.6 L618.9,363.0 L628.3,366.1 L637.7,368.8 L647.1,371.2 L656.5,373.3 L665.9,375.2 L675.3,376.9" fill="none" stroke="#bdbdbd" stroke-width="1.3" stroke-linejoin="round" />
<path d="M487.3,236.5 L496.7,255.7 L506.1,269.5 L515.5,280.1 L524.9,288.6 L534.3,295.9 L543.7,302.3 L553.1,308.0 L562.5,313.3 L571.9,318.1 L581.3,322.6 L590.7,326.8 L600.1,330.8 L609.5,334.4 L618.9,337.9 L628.3,341.1 L637.7,344.1 L647.1,346.9 L656.5,349.6 L665.9,352.1 L675.3,354.4" fill="none" stroke="#9cc3e6" stroke-width="1.3" stroke-linejoin="round" />
<path d="M487.3,236.5 L496.7,249.0 L506.1,253.4 L515.5,257.1 L524.9,260.4 L534.3,263.3 L543.7,266.0 L553.1,268.4 L562.5,270.7 L571.9,272.8 L581.3,274.8 L590.7,276.7 L600.1,278.6 L609.5,280.3 L618.9,282.0 L628.3,283.7 L637.7,285.3 L647.1,286.9 L656.5,288.4 L665.9,289.9 L675.3,291.4" fill="none" stroke="#f26b6b" stroke-width="1.3" stroke-linejoin="round" />
<path d="M487.3,236.5 L489.7,257.9 L492.0,279.4 L494.4,301.6 L496.7,323.8 L499.1,338.4 L501.4,352.9 L503.8,360.6 L506.1,368.3 L508.4,372.8 L510.8,377.4 L513.1,380.0 L515.5,382.5 L520.2,385.1 L524.9,386.9 L529.6,387.9 L534.3,388.8 L539.0,389.1 L543.7,389.4 L548.4,389.5 L553.1,389.7 L557.8,389.7 L562.5,389.7 L567.2,389.7 L571.9,389.7 L576.6,389.7 L581.3,389.7 L586.0,389.7 L590.7,389.7 L595.4,389.7 L600.1,389.7 L604.8,389.7 L609.5,389.7 L614.2,389.7 L618.9,389.7 L623.6,389.7 L628.3,389.7 L633.0,389.7 L637.7,389.7 L642.4,389.7 L647.1,389.7 L651.8,389.7 L656.5,389.7 L661.2,389.7 L665.9,389.7 L670.6,389.7 L675.3,389.7" fill="none" stroke="#bdbdbd" stroke-width="1.3" stroke-linejoin="round" stroke-dasharray="5 3.3"/>
<path d="M487.3,236.5 L489.7,253.9 L492.0,266.5 L494.4,276.8 L496.7,285.6 L499.1,293.6 L501.4,300.8 L503.8,307.4 L506.1,313.5 L508.4,319.2 L510.8,324.4 L513.1,329.2 L515.5,333.7 L520.2,341.7 L524.9,348.5 L529.6,354.4 L534.3,359.4 L539.0,363.8 L543.7,367.5 L548.4,370.6 L553.1,373.3 L557.8,375.7 L562.5,377.7 L567.2,379.4 L571.9,380.9 L576.6,382.1 L581.3,383.2 L586.0,384.1 L590.7,384.9 L595.4,385.6 L600.1,386.2 L604.8,386.7 L609.5,387.1 L614.2,387.5 L618.9,387.8 L623.6,388.1 L628.3,388.3 L633.0,388.5 L637.7,388.7 L642.4,388.8 L647.1,388.9 L651.8,389.1 L656.5,389.1 L661.2,389.2 L665.9,389.3 L670.6,389.4 L675.3,389.4" fill="none" stroke="#9cc3e6" stroke-width="1.3" stroke-linejoin="round" stroke-dasharray="5 3.3"/>
<rect x="487.5" y="233.5" width="189.0" height="159.0" fill="none" stroke="#4e4e4e" stroke-width="1"/>
<line x1="484.7" y1="389.7" x2="487.5" y2="389.7" stroke="#4e4e4e" stroke-width="0.9" />
<text x="482.3" y="392.7" font-size="8.5" text-anchor="end" fill="#1a1a1a" >0.0</text>
<line x1="486" y1="374.4" x2="487.5" y2="374.4" stroke="#4e4e4e" stroke-width="0.8" />
<line x1="484.7" y1="359.1" x2="487.5" y2="359.1" stroke="#4e4e4e" stroke-width="0.9" />
<text x="482.3" y="362.1" font-size="8.5" text-anchor="end" fill="#1a1a1a" >0.2</text>
<line x1="486" y1="343.7" x2="487.5" y2="343.7" stroke="#4e4e4e" stroke-width="0.8" />
<line x1="484.7" y1="328.4" x2="487.5" y2="328.4" stroke="#4e4e4e" stroke-width="0.9" />
<text x="482.3" y="331.4" font-size="8.5" text-anchor="end" fill="#1a1a1a" >0.4</text>
<line x1="486" y1="313.1" x2="487.5" y2="313.1" stroke="#4e4e4e" stroke-width="0.8" />
<line x1="484.7" y1="297.8" x2="487.5" y2="297.8" stroke="#4e4e4e" stroke-width="0.9" />
<text x="482.3" y="300.8" font-size="8.5" text-anchor="end" fill="#1a1a1a" >0.6</text>
<line x1="486" y1="282.5" x2="487.5" y2="282.5" stroke="#4e4e4e" stroke-width="0.8" />
<line x1="484.7" y1="267.1" x2="487.5" y2="267.1" stroke="#4e4e4e" stroke-width="0.9" />
<text x="482.3" y="270.1" font-size="8.5" text-anchor="end" fill="#1a1a1a" >0.8</text>
<line x1="486" y1="251.8" x2="487.5" y2="251.8" stroke="#4e4e4e" stroke-width="0.8" />
<line x1="484.7" y1="236.5" x2="487.5" y2="236.5" stroke="#4e4e4e" stroke-width="0.9" />
<text x="482.3" y="239.5" font-size="8.5" text-anchor="end" fill="#1a1a1a" >1.0</text>
<line x1="487.3" y1="392.5" x2="487.3" y2="395.3" stroke="#4e4e4e" stroke-width="0.9" />
<text x="487.3" y="404.8" font-size="8.5" text-anchor="middle" fill="#1a1a1a" >0</text>
<line x1="510.8" y1="392.5" x2="510.8" y2="394" stroke="#4e4e4e" stroke-width="0.8" />
<line x1="534.3" y1="392.5" x2="534.3" y2="395.3" stroke="#4e4e4e" stroke-width="0.9" />
<text x="534.3" y="404.8" font-size="8.5" text-anchor="middle" fill="#1a1a1a" >5</text>
<line x1="557.8" y1="392.5" x2="557.8" y2="394" stroke="#4e4e4e" stroke-width="0.8" />
<line x1="581.3" y1="392.5" x2="581.3" y2="395.3" stroke="#4e4e4e" stroke-width="0.9" />
<text x="581.3" y="404.8" font-size="8.5" text-anchor="middle" fill="#1a1a1a" >10</text>
<line x1="604.8" y1="392.5" x2="604.8" y2="394" stroke="#4e4e4e" stroke-width="0.8" />
<line x1="628.3" y1="392.5" x2="628.3" y2="395.3" stroke="#4e4e4e" stroke-width="0.9" />
<text x="628.3" y="404.8" font-size="8.5" text-anchor="middle" fill="#1a1a1a" >15</text>
<line x1="651.8" y1="392.5" x2="651.8" y2="394" stroke="#4e4e4e" stroke-width="0.8" />
<line x1="675.3" y1="392.5" x2="675.3" y2="395.3" stroke="#4e4e4e" stroke-width="0.9" />
<text x="675.3" y="404.8" font-size="8.5" text-anchor="middle" fill="#1a1a1a" >20</text>
<text x="595" y="419.4" font-size="9.6" text-anchor="middle" fill="#1a1a1a"><tspan font-style="italic">t</tspan> (ps)</text>
<text transform="translate(466.3,313) rotate(-90)" font-size="9.6" text-anchor="middle" fill="#1a1a1a"><tspan font-style="italic">S</tspan> (<tspan font-style="italic">t</tspan>)</text>
<text x="598.2" y="243.3" font-size="8.3" text-anchor="middle" fill="#1a1a1a" >10 nm</text>
<text x="629.3" y="243.3" font-size="8.3" text-anchor="middle" fill="#1a1a1a" >1.5 nm</text>
<text x="662.6" y="243.3" font-size="8.3" text-anchor="middle" fill="#1a1a1a" >1.0 nm</text>
<text x="584.5" y="250" font-size="8.3" text-anchor="end" fill="#1a1a1a" >interfacial</text>
<text x="584.5" y="260" font-size="8.3" text-anchor="end" fill="#1a1a1a" >core</text>
<line x1="588.7" y1="247.1" x2="608.6" y2="247.1" stroke="#bdbdbd" stroke-width="1.3" />
<line x1="618.5" y1="247.1" x2="637.7" y2="247.1" stroke="#9cc3e6" stroke-width="1.3" />
<line x1="650.2" y1="247.1" x2="670.1" y2="247.1" stroke="#f26b6b" stroke-width="1.3" />
<line x1="588.7" y1="257" x2="608.6" y2="257" stroke="#bdbdbd" stroke-width="1.3" stroke-dasharray="6 6"/>
<line x1="618.5" y1="257" x2="637.7" y2="257" stroke="#9cc3e6" stroke-width="1.3" stroke-dasharray="6 6"/>
<text x="470.2" y="225" font-size="14" fill="#111" stroke="#111" stroke-width="0.35">f</text>
</svg></body></html>
